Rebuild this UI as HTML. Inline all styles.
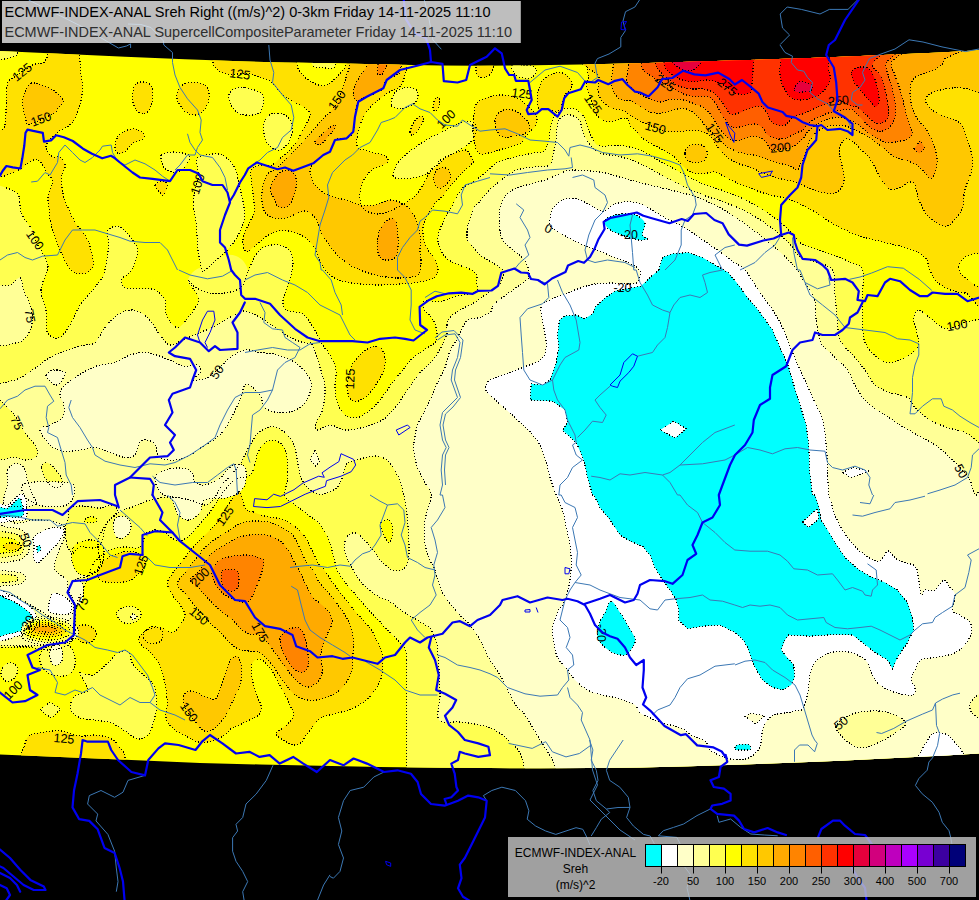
<!DOCTYPE html>
<html><head><meta charset="utf-8"><title>ECMWF-INDEX-ANAL Sreh</title>
<style>
html,body{margin:0;padding:0;background:#000;}
body{width:979px;height:900px;overflow:hidden;position:relative;font-family:"Liberation Sans",sans-serif;}
svg{position:absolute;left:0;top:0;display:block;}
text{font-family:"Liberation Sans",sans-serif;}
</style></head><body>
<svg width="979" height="900" viewBox="0 0 979 900">
<defs><clipPath id="dc"><path d="M-5,50.7L0,50.9L60,53.8L125,56.7L185,59.2L240,61.3L285,62.4L330,63.3L400,64.8L440,65.5L480,65.8L520,65.4L580,64.5L640,63.3L690,61.8L750,60L810,58L855,56.2L900,54.3L940,52.4L979,50.3L984,50L984,753.1L979,753.4L945,755.4L910,757.3L875,759.1L840,760.7L790,762.8L735,764.7L690,766.2L640,767.4L590,768L540,768.2L490,768.1L440,767.8L380,767L320,765.8L260,764.5L200,762.9L160,761.3L120,759.6L60,757.1L0,754.5L-5,754.3Z"/></clipPath></defs>
<rect x="0" y="0" width="979" height="900" fill="#000"/>
<g clip-path="url(#dc)">
<rect x="0" y="0" width="979" height="900" fill="#FFFF00"/>
<path d="M-8,183C-4.8,184.2 7,187.7 11.5,190C16,192.3 17.5,193.4 19,196.6C20.5,199.8 19.4,205.5 20.4,209.4C21.4,213.3 23,216.6 25,220C27,223.4 30.8,226.7 32.5,230C34.2,233.3 33.4,236.3 35,240C36.6,243.7 40,248.3 42,252C44,255.7 46.1,259 47,262C47.9,265 48.5,265.3 47.5,270C46.5,274.7 41.2,283.3 41,290C40.8,296.7 44.9,302.9 46,310C47.1,317.1 45.2,327.9 47.5,332.5C49.8,337.1 55.8,339.6 60,337.5C64.2,335.4 69.2,325.4 72.5,320C75.8,314.6 76.7,310 80,305C83.3,300 88.8,294.6 92.5,290C96.2,285.4 100.4,280.8 102.5,277.5C104.6,274.2 104,275.4 105,270C106,264.6 108.3,251.5 108.8,245C109.2,238.5 106,234.2 107.5,231C109,227.8 114.6,226 117.5,226C120.4,226 122.5,228.7 125,231C127.5,233.3 130.4,236.8 132.5,240C134.6,243.2 137.1,246.2 137.5,250C137.9,253.8 136.2,258.8 135,262.5C133.8,266.2 132.2,269.2 130,272C127.8,274.8 122.8,276.4 122,279C121.2,281.6 122,285.9 125,287.5C128,289.1 135,288.3 140,288.8C145,289.2 150.8,288.1 155,290C159.2,291.9 163.1,295.8 165,300C166.9,304.2 164.2,310.4 166.2,315C168.3,319.6 173.5,327.5 177.5,327.5C181.5,327.5 186.5,319.6 190,315C193.5,310.4 198.3,304.6 198.8,300C199.2,295.4 194.3,290.8 192.5,287.5C190.7,284.2 187.6,280.1 188,280C188.4,279.9 191.3,284.8 195,287C198.7,289.2 205,292 210,293C215,294 220,293.8 225,293C230,292.2 236.3,291 240,288C243.7,285 245,279.3 247,275C249,270.7 250.2,265.8 252,262C253.8,258.2 255.5,254.7 258,252C260.5,249.3 263.3,247.2 267,246C270.7,244.8 276.2,244.2 280,245C283.8,245.8 287.8,248.2 290,251C292.2,253.8 292.8,258 293,262C293.2,266 292.2,270.3 291,275C289.8,279.7 287.3,285.7 286,290C284.7,294.3 283,297.7 283,301C283,304.3 282.8,307.9 286,310C289.2,312.1 298.5,311.7 302.5,313.8C306.5,315.8 307.5,319 310,322.5C312.5,326 315.4,331.2 317.5,335C319.6,338.8 320.4,341.7 322.5,345C324.6,348.3 327.8,350.8 330,355C332.2,359.2 335.2,364.6 336,370C336.8,375.4 334.8,382.1 335,387.5C335.2,392.9 335.8,397.9 337.5,402.5C339.2,407.1 341.7,412.5 345,415C348.3,417.5 353.3,418.3 357.5,417.5C361.7,416.7 366.2,412.9 370,410C373.8,407.1 376.2,404.6 380,400C383.8,395.4 388.3,387.9 392.5,382.5C396.7,377.1 401.7,371.6 405,367.5C408.3,363.4 409.1,361.2 412.3,358.2C415.6,355.2 420.6,352.3 424.5,349.7C428.4,347.1 433.4,344.2 435.5,342.3C437.6,340.4 436.6,339.9 436.8,338C437,336.1 437.3,333.8 436.8,331C436.3,328.2 435.2,324.2 434,321.5C432.8,318.8 431,316.9 429.4,315C427.8,313.1 425.3,312.4 424.5,310C423.7,307.6 422.4,302 424.5,300.6C426.6,299.2 432.7,302.2 436.8,301.9C440.9,301.6 446,299.7 449,298.8C452,297.9 451.5,297.4 455,296.5C458.5,295.6 466.2,294.6 470,293.5C473.8,292.4 476.4,291.7 477.5,290C478.6,288.3 476.8,285.8 476.7,283.3C476.6,280.8 477.5,277.2 476.7,275C475.9,272.8 473.9,271.4 471.7,270C469.5,268.6 466.1,267.8 463.3,266.7C460.5,265.6 457.8,264.7 455,263.3C452.2,261.9 448.9,260.2 446.7,258.3C444.5,256.4 443.1,254.2 441.7,251.7C440.3,249.2 438.9,246.1 438.3,243.3C437.7,240.5 437.7,238.1 438.3,235C438.9,231.9 440.3,228.3 441.7,225C443.1,221.7 445,218.1 446.7,215C448.4,211.9 450,209.8 451.7,206.7C453.4,203.6 454.8,199.9 456.7,196.7C458.6,193.5 460.8,189.7 463.3,187.5C465.8,185.3 468.9,185.1 471.7,183.3C474.5,181.5 477.2,178.9 480,176.7C482.8,174.5 485.5,172.4 488.3,170C491.1,167.6 493.1,164.4 496.7,162.5C500.3,160.6 505.6,159.6 510,158.3C514.4,157.1 518.8,156 523.3,155C527.8,154 533.4,153.1 536.7,152.5C540,151.9 541.4,153.2 543.3,151.7C545.2,150.2 547.2,146.6 548.3,143.3C549.4,140 549.3,135.6 550,131.7C550.7,127.8 551.2,123.3 552.5,120C553.8,116.7 555.1,113.7 557.5,111.7C559.9,109.8 563.5,108.6 566.7,108.3C569.9,108 573.8,108.6 576.7,110C579.6,111.4 582.1,113.7 584,116.7C585.9,119.8 586.8,124.4 588.3,128.3C589.8,132.2 591.3,137.1 593.3,140C595.2,142.9 595.5,145.1 600,146C604.5,146.9 613.6,144.7 620.4,145.5C627.2,146.3 634.1,147.8 640.9,150.6C647.7,153.3 654.5,158.3 661.3,162C668.1,165.7 674.9,169.4 681.7,173C688.5,176.6 695.2,180.4 702,183.3C708.8,186.2 715.8,187.9 722.6,190.5C729.4,193.1 736.2,195.3 743,198.6C749.8,201.8 757.3,206.1 763.4,210C769.5,213.9 775,218.1 779.8,222C784.6,225.9 788.6,230 792,233.4C795.4,236.8 795.7,239.8 800,242.6C804.3,245.4 812.2,247.8 818,250C823.8,252.2 829.7,254 835,256C840.3,258 845.4,259.7 850,262C854.6,264.3 860.4,264.5 862.5,270C864.6,275.5 862.5,286.7 862.5,295C862.5,303.3 862.1,312.1 862.5,320C862.9,327.9 862.5,336.2 865,342.5C867.5,348.8 873.3,354.2 877.5,357.5C881.7,360.8 885.4,362.5 890,362.5C894.6,362.5 900.2,360.4 905,357.5C909.8,354.6 917.3,351.2 918.8,345C920.2,338.8 913.8,325.8 913.8,320C913.8,314.2 915.6,310 918.8,310C921.9,310 927.7,316.9 932.5,320C937.3,323.1 941.2,328.6 947.5,328.8C953.8,328.9 961.6,322.8 970,321C978.4,319.2 993.3,318.5 998,318L998,800L406.6,800C406.6,795.8 406.6,796.7 406.6,775C406.6,753.3 406.6,689.4 406.6,670C406.6,650.6 407,662.5 406.6,658.7C406.2,654.9 406.2,650.5 404.4,647.2C402.6,643.9 398.8,641.6 395.9,638.7C393,635.8 390.2,633.1 387.3,630C384.4,626.9 381.6,623.1 378.7,620C375.8,616.9 372.9,614.6 370,611.5C367.1,608.4 364.4,604.8 361.5,601.5C358.6,598.2 355.8,594.9 352.9,591.5C350,588.1 347,585 344.4,581.4C341.8,577.8 339.3,575.2 337.2,570C335.1,564.8 333.6,555.8 332,550.3C330.4,544.8 329.8,541.4 327.6,536.9C325.4,532.4 322.1,527.1 318.7,523.4C315.3,519.6 311.1,517.4 307.4,514.4C303.6,511.4 299.9,508.4 296.2,505.4C292.5,502.4 286.5,500.6 285,496.4C283.5,492.2 286.8,486 287.2,480C287.6,474 287.8,465.9 287.2,460.4C286.6,454.9 286.1,450.4 283.8,447C281.6,443.6 277.2,440.6 273.7,440.2C270.1,439.8 265.3,442.1 262.5,444.7C259.7,447.3 258.4,451.9 256.9,456C255.4,460.1 255,466.1 253.5,469.4C252,472.7 250.2,474.6 248,476C245.8,477.4 242.7,477 240,478C237.3,479 234.5,480 232,482C229.5,484 227.3,487 225,490C222.7,493 220.5,496.3 218,500C215.5,503.7 213,508 210,512C207,516 203.3,520.2 200,524C196.7,527.8 193.3,532.2 190,535C186.7,537.8 183,540.5 180,541C177,541.5 174.8,539.5 172,538C169.2,536.5 165.8,533.3 163,532C160.2,530.7 157.8,529.8 155,530C152.2,530.2 148,531 146,533C144,535 144.3,539.5 143,542C141.7,544.5 141,547.2 138,548C135,548.8 129.3,546.8 125,547C120.7,547.2 115.8,547.7 112,549C108.2,550.3 105,552.7 102,555C99,557.3 96.2,559.7 94,563C91.8,566.3 90.7,570.8 89,575C87.3,579.2 85.8,583.8 84,588C82.2,592.2 79.5,595.5 78,600C76.5,604.5 75.7,609.2 75,615C74.3,620.8 75.2,630 74,635C72.8,640 72,642.5 68,645C64,647.5 57.2,649.7 50,650C42.8,650.3 34.7,647.3 25,647C15.3,646.7 -2.5,647.8 -8,648Z" fill="#FFFF50"/>
<path d="M998,442.5C994.8,442.5 984.5,444.2 979,442.5C973.5,440.8 970.2,435 965,432.5C959.8,430 953.3,429.6 947.5,427.5C941.7,425.4 935.4,423.3 930,420C924.6,416.7 918.8,411.2 915,407.5C911.2,403.8 911.7,400 907.5,397.5C903.3,395 895.4,394.6 890,392.5C884.6,390.4 879.2,388.8 875,385C870.8,381.2 868.8,375 865,370C861.2,365 856.7,360 852.5,355C848.3,350 842.5,345.8 840,340C837.5,334.2 838.3,327.5 837.5,320C836.7,312.5 835.8,303.3 835,295C834.2,286.7 835.8,275.5 832.5,270C829.2,264.5 820.4,264.2 815,262C809.6,259.8 803.8,259.6 800,257C796.2,254.4 795.4,250.5 792,246.7C788.6,242.9 784.6,238.5 779.8,234.4C775,230.3 769.5,226.1 763.4,222C757.3,217.9 749.8,213.4 743,210C736.2,206.6 729.4,204.3 722.6,201.7C715.8,199.1 708.8,197.3 702,194.6C695.2,191.9 688.5,188.7 681.7,185.4C674.9,182.1 668.1,178.6 661.3,175C654.5,171.4 647.7,167 640.9,164C634.1,161 627.2,158.6 620.4,156.8C613.6,155 605.1,155 600,153C594.9,151 592.8,148.3 590,145C587.2,141.7 585,137.2 583.3,133.3C581.6,129.4 581.7,124.6 580,121.7C578.3,118.8 575.8,116.9 573.3,115.8C570.8,114.7 567.4,114.3 565,115C562.6,115.7 560.4,117.5 559,120C557.6,122.5 557.2,126.4 556.7,130C556.2,133.6 556.4,137.8 555.8,141.7C555.2,145.6 554.3,149.4 553.3,153.3C552.3,157.2 552.8,162.8 550,165C547.2,167.2 541.2,166.1 536.7,166.7C532.2,167.2 527.2,167.5 523.3,168.3C519.4,169.1 516.6,170 513.3,171.7C510,173.4 506.6,175.8 503.3,178.3C500,180.8 496.4,183.9 493.3,186.7C490.2,189.5 487.5,192.2 485,195C482.5,197.8 480.2,201.1 478.3,203.3C476.4,205.5 474.7,205.5 473.3,208.3C471.9,211.1 471,217.2 470,220C469,222.8 468,222.8 467.5,225C467,227.2 467,230.8 467,233.3C467,235.8 466.7,238.1 467.5,240C468.3,241.9 469.9,242.8 471.7,245C473.5,247.2 476.1,251.1 478.3,253.3C480.5,255.5 482.5,256.6 485,258.3C487.5,260 490.8,261.8 493.3,263.3C495.8,264.8 498.3,266.1 500,267.5C501.7,268.9 503,269.6 503.3,271.7C503.6,273.8 502.9,277.6 502,280C501.1,282.4 500.3,283.8 498,286C495.7,288.2 492.1,290.2 488,293C483.9,295.8 478.3,300.1 473.5,303C468.7,305.9 463.1,307.7 459,310.4C454.9,313.1 451.1,315.9 449,319C446.9,322.1 446.9,326.4 446.6,328.8C446.3,331.2 447.4,331.7 447,333.7C446.6,335.7 445.1,338.6 444,341C442.9,343.4 442.2,345.2 440.4,348.4C438.6,351.6 436.4,356 433,360C429.6,364 424.2,367.5 420,372.5C415.8,377.5 411.7,384.2 407.5,390C403.3,395.8 399.2,402.5 395,407.5C390.8,412.5 387.9,416.7 382.5,420C377.1,423.3 368.8,425.8 362.5,427.5C356.2,429.2 350.4,430.4 345,430C339.6,429.6 334.6,425 330,425C325.4,425 319.8,430.4 317.5,430C315.2,429.6 315.2,425.8 316,422.5C316.8,419.2 321,415.8 322.5,410C324,404.2 325.4,394.6 325,387.5C324.6,380.4 322.1,374.6 320,367.5C317.9,360.4 315,349.1 312.5,345C310,340.9 308.8,344.2 305,343C301.2,341.8 295,340.1 290,337.5C285,334.9 280,330.8 275,327.5C270,324.2 265,320.2 260,317.5C255,314.8 249.2,311.4 245,311C240.8,310.6 238.3,313.5 235,315C231.7,316.5 228.8,317.9 225,320C221.2,322.1 216.7,325.4 212.5,327.5C208.3,329.6 205,330.4 200,332.5C195,334.6 187.5,337.9 182.5,340C177.5,342.1 173.8,345.8 170,345C166.2,344.2 163.8,339.6 160,335C156.2,330.4 152.1,321.7 147.5,317.5C142.9,313.3 137.5,310.4 132.5,310C127.5,309.6 122.1,312.1 117.5,315C112.9,317.9 108.8,322.9 105,327.5C101.2,332.1 98.3,339.6 95,342.5C91.7,345.4 89.6,343.8 85,345C80.4,346.2 73.3,347.9 67.5,350C61.7,352.1 55.8,354.2 50,357.5C44.2,360.8 38.3,366.2 32.5,370C26.7,373.8 21.8,377.5 15,380C8.2,382.5 -4.2,384.2 -8,385L-8,645C-1.7,645.2 18.7,646.2 30,646C41.3,645.8 52.8,645.3 60,644C67.2,642.7 70.5,642.8 73,638C75.5,633.2 75,621.3 75,615C75,608.7 74,604.2 73,600C72,595.8 68.7,593.3 69,590C69.3,586.7 71.5,582.5 75,580C78.5,577.5 85.8,577.5 90,575C94.2,572.5 98.7,569.5 100,565C101.3,560.5 98,553 98,548C98,543 98.3,539.3 100,535C101.7,530.7 104.7,525.8 108,522C111.3,518.2 115.5,514.7 120,512C124.5,509.3 130,508 135,506C140,504 144.2,501.5 150,500C155.8,498.5 163.3,497 170,497C176.7,497 184.2,498.7 190,500C195.8,501.3 200.8,505.5 205,505C209.2,504.5 212.2,500.3 215,497C217.8,493.7 219.2,488.8 222,485C224.8,481.2 229,477.5 232,474C235,470.5 237.2,468.5 240,464C242.8,459.5 246,452.1 249,447C252,441.9 254.2,436.9 258,433.5C261.8,430.1 267,426.9 271.5,426.7C276,426.5 281.2,429.4 285,432.4C288.8,435.4 291.9,440 294,444.7C296.1,449.4 296.2,455.1 297.3,460.4C298.4,465.6 299,471.7 300.7,476.2C302.4,480.7 304.4,484.4 307.4,487.4C310.4,490.4 314.9,493.4 318.7,494.2C322.5,495 326.6,493.5 330,492C333.4,490.5 336.7,488.2 338.9,485.2C341.1,482.2 342.1,477.6 343.4,474C344.7,470.4 344.4,466.1 346.7,463.8C348.9,461.5 352.2,461.3 356.9,460C361.6,458.7 369.8,455.9 374.8,456C379.9,456.1 383.6,457.6 387.2,460.4C390.8,463.2 393.8,468.3 396.2,472.8C398.6,477.3 400.2,482 401.8,487.4C403.4,492.8 404.8,499 405.8,505.4C406.8,511.8 407.5,518.9 408,525.6C408.5,532.3 409,539.8 409,545.8C409,551.8 409.2,557.6 408,561.6C406.8,565.6 404.3,568.6 401.8,570C399.3,571.4 395.8,571 392.8,570C389.8,569 386.8,566.7 383.8,563.8C380.8,560.9 377.8,556.4 374.8,552.6C371.8,548.9 368.8,544.5 365.8,541.3C362.8,538.1 359.7,534.6 356.9,533.5C354.1,532.4 351.1,532.9 349,534.6C346.9,536.3 345.1,540.2 344.5,543.6C343.9,547 344.7,551.4 345.6,554.8C346.5,558.2 348.1,560.1 350,563.8C351.9,567.5 354.8,573.4 357.2,577C359.6,580.6 361.8,583 364.4,585.7C367,588.4 370.1,591 373,593C375.9,595 378.8,596.6 381.6,598C384.4,599.4 387.1,599.7 390,601.5C392.9,603.3 395.8,606.5 398.7,608.6C401.6,610.7 404.4,612.5 407.3,614.3C410.2,616.1 413,617.6 415.9,619.3C418.8,621 422.1,622.8 424.5,624.4C426.9,626 428.1,626 430,628.6C431.9,631.2 434.8,636.4 436,640C437.2,643.6 437,645 437.5,650C438,655 438.6,662.5 439,670C439.4,677.5 440,686.7 440,695C440,703.3 435.7,715.5 439,720C442.3,724.5 453.2,721.2 460,722C466.8,722.8 474.2,723.7 480,725C485.8,726.3 490,727.2 495,730C500,732.8 505.5,737.3 510,742C514.5,746.7 519,748.3 522,758C525,767.7 527,793 528,800L998,800Z" fill="#FFFF96"/>
<path d="M556,775C555.4,768.3 555.2,765.8 552.5,760C549.8,754.2 544.6,747.5 540,740C535.4,732.5 528.8,720.4 525,715C521.2,709.6 520.2,711.2 517.5,707.5C514.8,703.8 511.7,697.9 508.8,692.5C505.8,687.1 503.1,680.4 500,675C496.9,669.6 493.3,665.8 490,660C486.7,654.2 483.3,645.8 480,640C476.7,634.2 473.8,629.6 470,625C466.2,620.4 462.1,617.9 457.5,612.5C452.9,607.1 446.2,599.6 442.5,592.5C438.8,585.4 437.3,575.8 435,570C432.7,564.2 430.5,562.5 428.8,557.5C427,552.5 425.1,546.2 424.5,540C423.9,533.8 423.9,527.5 425,520C426.1,512.5 431.2,501.2 431.2,495C431.2,488.8 427.3,487.1 425,482.5C422.7,477.9 419.4,472.9 417.5,467.5C415.6,462.1 414.2,454.6 413.8,450C413.2,445.4 413.9,444.2 414.5,440C415.1,435.8 416,429.6 417.5,425C419,420.4 421.5,417.1 423.8,412.5C426,407.9 429,402.5 431.2,397.5C433.5,392.5 435.2,387.5 437.5,382.5C439.8,377.5 443.1,372.4 445,367.5C446.9,362.6 447.3,357.5 449,353.3C450.7,349.1 452.9,346.2 455,342.3C457.1,338.4 459.2,333.7 461.3,330C463.4,326.3 464.5,322.2 467.4,320.2C470.2,318.2 474.5,319.2 478.4,317.8C482.3,316.4 488.3,313.8 490.7,311.7C493.1,309.6 490.9,307.4 493,305C495.1,302.6 499.7,299.5 503,297C506.3,294.5 510,292.2 513,290C516,287.8 518.5,285.8 521,284C523.5,282.2 526.7,280.6 528,279C529.3,277.4 529.1,276.7 529,274.5C528.9,272.3 528.8,269 527.5,266C526.2,263 525.1,260.6 521,256.4C516.9,252.1 506.6,246.4 503,240.5C499.4,234.6 499.8,226.7 499.4,221C499,215.3 499,211.3 500.4,206.6C501.8,201.9 504.3,196.4 508,193C511.7,189.6 516.3,188.4 522.5,186.2C528.7,184.1 538.3,182.3 545,180C551.7,177.7 557.9,174.2 562.5,172.5C567.1,170.8 565.8,170 572.5,170C579.2,170 592.9,170.8 602.5,172.5C612.1,174.2 620.4,177.5 630,180C639.6,182.5 650,185 660,187.5C670,190 680.8,192.1 690,195C699.2,197.9 707.5,201.3 715,205C722.5,208.7 727.5,212 735,217C742.5,222 752.5,229.2 760,235C767.5,240.8 773.8,246.2 780,252C786.2,257.8 793.8,265.3 797.5,270C801.2,274.7 800.4,276.7 802.5,280C804.6,283.3 807.9,286.2 810,290C812.1,293.8 814,297.5 815,302.5C816,307.5 815.6,314.6 816.2,320C816.9,325.4 817.7,330.8 818.8,335C819.8,339.2 819.8,341.2 822.5,345C825.2,348.8 830.8,353.3 835,357.5C839.2,361.7 843.8,364.6 847.5,370C851.2,375.4 853.8,384.2 857.5,390C861.2,395.8 865.4,400.8 870,405C874.6,409.2 880,411.7 885,415C890,418.3 894.6,421.7 900,425C905.4,428.3 911.7,431.7 917.5,435C923.3,438.3 930,441.7 935,445C940,448.3 943.3,451.2 947.5,455C951.7,458.8 956.2,463.3 960,467.5C963.8,471.7 967.5,475.4 970,480C972.5,484.6 971.7,490.3 975,495C978.3,499.7 986.7,457.2 990,508C993.3,558.8 1067.3,751.3 995,800C922.7,848.7 629.2,804.2 556,800C482.8,795.8 556.6,781.7 556,775Z" fill="#FFFFC8"/>
<path d="M485.5,387.5C485.5,385 486.8,382.2 490,380C493.2,377.8 499.6,376.1 505,374C510.4,371.9 516.7,369.8 522.5,367.5C528.3,365.2 536,363.3 540,360C544,356.7 545.6,352.9 546.2,347.5C546.9,342.1 544.6,334.2 543.8,327.5C542.9,320.8 540,312.1 541,307.5C542,302.9 546,302.3 550,300C554,297.7 558.3,296.2 565,293.8C571.7,291.2 582.5,286.8 590,285C597.5,283.2 603.3,283.2 610,283C616.7,282.8 625.3,284.2 630,284C634.7,283.8 636.3,283.8 638,281.7C639.7,279.6 640.8,274.5 640,271.7C639.2,268.9 637.5,267.5 633,265C628.5,262.5 619,259.2 613,256.7C607,254.2 601.1,251.7 596.7,250C592.3,248.3 590.7,248.4 586.7,246.7C582.8,245 577.5,242.3 573,240C568.5,237.7 563.8,235.3 560,233C556.2,230.7 551.7,228.5 550,226C548.3,223.5 549.4,221.1 550,218C550.6,214.9 551.7,210.5 553.8,207.5C555.8,204.5 558.8,201.5 562.5,200C566.2,198.5 571.7,197.9 576.2,198.8C580.8,199.6 585.6,202.9 590,205C594.4,207.1 598.7,211.2 602.5,211.2C606.3,211.2 609,206.6 613,205C617,203.4 621.7,201.7 626.7,201.7C631.7,201.7 637,202.5 643,205C649,207.5 656.3,213.1 663,216.7C669.7,220.3 676.8,223.1 683,226.7C689.2,230.2 693.8,233.8 700,238C706.2,242.2 714.2,247.8 720,252C725.8,256.2 730.8,260 735,263C739.2,266 740.8,265.1 745,270C749.2,274.9 755.4,285.8 760,292.5C764.6,299.2 768.8,304.2 772.5,310C776.2,315.8 779.2,320.4 782.5,327.5C785.8,334.6 789.2,344.6 792.5,352.5C795.8,360.4 799.2,367.5 802.5,375C805.8,382.5 809.2,390 812.5,397.5C815.8,405 820.2,412.1 822.5,420C824.8,427.9 825.4,436.7 826.2,445C827.1,453.3 827.1,461.7 827.5,470C827.9,478.3 828.1,489.6 828.8,495C829.4,500.4 830.2,499.2 831.2,502.5C832.3,505.8 833.1,510.4 835,515C836.9,519.6 839.6,525.2 842.5,530C845.4,534.8 848.8,539.6 852.5,543.8C856.2,547.9 860.6,552.1 865,555C869.4,557.9 875,561.9 878.8,561.2C882.5,560.6 885.2,552.3 887.5,551.2C889.8,550.2 890.4,553.3 892.5,555C894.6,556.7 896.2,559.4 900,561.2C903.8,563.1 911.9,563.1 915,566.2C918.1,569.4 917.7,575.2 918.8,580C919.8,584.8 920.2,593.3 921.2,595C922.3,596.7 922.7,590.8 925,590C927.3,589.2 931.9,591.7 935,590C938.1,588.3 941.2,580.4 943.8,580C946.2,579.6 948.1,585 950,587.5C951.9,590 954.6,591.2 955,595C955.4,598.8 951.7,606.7 952.5,610C953.3,613.3 957.1,612.9 960,615C962.9,617.1 968.1,619.6 970,622.5C971.9,625.4 972.1,628.8 971.2,632.5C970.4,636.2 968.1,641.5 965,645C961.9,648.5 957.5,651.7 952.5,653.8C947.5,655.8 940.2,656.5 935,657.5C929.8,658.5 924.6,657.9 921.2,660C917.9,662.1 916.7,666.7 915,670C913.3,673.3 911.2,677.1 911.2,680C911.2,682.9 914.8,685 915,687.5C915.2,690 915.8,694.2 912.5,695C909.2,695.8 900.4,694.2 895,692.5C889.6,690.8 883.8,687.9 880,685C876.2,682.1 874.6,678.8 872.5,675C870.4,671.2 870,665.8 867.5,662.5C865,659.2 861.7,656.9 857.5,655C853.3,653.1 847.5,651.5 842.5,651.2C837.5,651 832.1,651.9 827.5,653.8C822.9,655.6 817.9,659 815,662.5C812.1,666 811.1,670.7 810,675C808.9,679.3 809.1,684.3 808.5,688.2C807.9,692.1 807.4,695 806.5,698.4C805.6,701.8 804.9,706.6 803.4,708.6C801.9,710.6 800,709.9 797.3,710.6C794.6,711.3 790.9,712 787.1,712.7C783.4,713.4 778,713.5 774.8,714.7C771.6,715.9 769.7,717.4 767.7,719.8C765.7,722.2 763.6,725.8 762.6,729C761.6,732.2 762.3,735.8 761.6,739.2C760.9,742.6 760.4,746.5 758.5,749.5C756.6,752.5 753,755.6 750.3,757.2C747.6,758.8 745.9,759 742.1,759.3C738.4,759.5 731.9,759.5 727.8,758.7C723.7,757.9 720.6,756.1 717.6,754.6C714.6,753.1 711.5,751.7 709.5,749.5C707.5,747.3 708.1,743.5 705.4,741.3C702.7,739.1 697.2,738.4 693.1,736.2C689,734 685.3,730 680.9,728C676.5,726 671.4,725.4 666.6,723.9C661.8,722.4 656.7,720.7 652.3,718.8C647.9,716.9 642.9,715 640,712.7C637.1,710.4 638.3,707.3 635,705C631.7,702.7 625.4,700.4 620,698.8C614.6,697.1 607.9,696.5 602.5,695C597.1,693.5 592.1,692.5 587.5,690C582.9,687.5 578.3,683.3 575,680C571.7,676.7 570.4,673.8 567.5,670C564.6,666.2 559.8,662.1 557.5,657.5C555.2,652.9 554.6,647.5 553.8,642.5C552.9,637.5 551.9,632.5 552.5,627.5C553.1,622.5 555.4,617.1 557.5,612.5C559.6,607.9 563,605 565,600C567,595 568.5,588.3 569.5,582.5C570.5,576.7 571.2,571.2 571.2,565C571.3,558.8 570.8,551.2 570,545C569.2,538.8 567.5,533.3 566.2,527.5C565,521.7 564.2,515.4 562.5,510C560.8,504.6 558.3,500.4 556.2,495C554.2,489.6 551.9,483.8 550,477.5C548.1,471.2 547.5,464.2 545,457.5C542.5,450.8 540,444.2 535,437.5C530,430.8 522.5,424.6 515,417.5C507.5,410.4 494.9,400 490,395C485.1,390 485.5,390 485.5,387.5Z" fill="#FFFFFF"/>
<path d="M658.8,270L662.5,257.5L672.5,253.8L687.5,252.5L702.5,257.5L715,265L727.5,272L737,283L747.5,297.5L760,312.5L772.5,330L781.2,350L788.8,367.5L793.8,385L800,405L806.2,425L808.8,445L809.5,470L812.5,495L815,495L818.8,506.2L821.2,520L827.5,530L835,542.5L845,557.5L857.5,568.8L870,576.2L885,582.5L897.5,590L907.5,602.5L912.5,617.5L913.8,630L907.5,642.5L897.5,657.5L892.5,668.8L887.5,660L875,652.5L862.5,642.5L852.5,635L835,634.5L810,636.2L788.8,635L785,640L781.2,650L786.2,656.2L793.8,665L794.5,677.5L791.2,685L782.5,690L772.5,687.5L762.5,680L753.8,665L747.5,647.5L742.5,638.8L735,632.5L720,625L702.5,626.2L687.5,628.8L678.8,620L678.8,610L676.2,600L670,590L662.5,580L655,567.5L650,555L642.5,546.2L630,541.2L620,535L610,520L600,507.5L593.8,495L592.5,495L587.5,477.5L583.8,460L576.2,442.5L562.5,430L567.5,422.5L565,410L552.5,401.2L530,400L531.2,383.8L542.5,385L550,380L556.2,362.5L558.8,347.5L557.5,335L559.5,320L565,316L576,315L585,318.8L592.5,313.8L595,307.5L602.5,300L615,291L641,286L650,277.5Z" fill="#00FFFF"/>
<path d="M660,430L673.8,421.2L686.2,428.8L675,438Z" fill="#FFFFFF"/>
<path d="M802.5,522L817.5,508.5L818.7,519L808.7,527.5Z" fill="#FFFFFF"/>
<path d="M605,220C606.5,218.1 610.8,216 615,215C619.2,214 625.8,213.3 630,213.8C634.2,214.2 637.5,215.8 640,217.5C642.5,219.2 644.6,220.8 645,223.8C645.4,226.7 642.1,232.5 642.5,235C642.9,237.5 648.1,237.9 647.5,238.8C646.9,239.6 642.5,240.4 638.8,240C635,239.6 629.4,237.7 625,236.2C620.6,234.8 615.6,232.9 612.5,231.2C609.4,229.6 607.5,228.1 606.2,226.2C605,224.4 603.5,221.9 605,220Z" fill="#00FFFF"/>
<path d="M611.2,601.2C613.8,601.2 617.3,608.5 620,612.5C622.7,616.5 625,620.6 627.5,625C630,629.4 634.2,635 635,638.8C635.8,642.5 634.2,644.8 632.5,647.5C630.8,650.2 628.3,654.2 625,655C621.7,655.8 616.2,654.2 612.5,652.5C608.8,650.8 605,647.5 602.5,645C600,642.5 598.1,640.8 597.5,637.5C596.9,634.2 597.5,629.2 598.8,625C600,620.8 602.9,616.5 605,612.5C607.1,608.5 608.8,601.2 611.2,601.2Z" fill="#00FFFF"/>
<path d="M735,748.4C735,747.6 734.8,745.7 737,745C739.2,744.3 746,743.8 748.3,744.4C750.6,745 750.7,747.5 750.7,748.4C750.7,749.3 750.6,749.6 748.3,749.9C746,750.1 739.2,750.1 737,749.9C734.8,749.6 735,749.2 735,748.4Z" fill="#00FFFF"/>
<path d="M745.2,716.4L750.3,713.1L764.6,715.8L755.4,723.9Z" fill="#FFFFC8"/>
<path d="M842.5,472.5L852.5,467.5L870,471.2L851,477.5Z" fill="#FFFFFF"/>
<path d="M918,765C910.2,762.8 919.1,756.6 921,752C922.9,747.4 926.8,740.8 929.4,737.5C932,734.2 933.3,732.8 936.5,732.5C939.7,732.2 945.5,733.6 948.7,735.5C952,737.4 953.6,741.1 956,744C958.4,746.9 961,749.3 963,752.8C965,756.3 975.5,763 968,765C960.5,767 925.8,767.2 918,765Z" fill="#FFFFFF"/>
<path d="M836,727C836.3,722.5 844.3,717.7 850,715C855.7,712.3 863.3,711.3 870,711C876.7,710.7 884,711 890,713C896,715 905.2,719.7 906,723C906.8,726.3 899.3,729.8 895,733C890.7,736.2 885.5,739.5 880,742C874.5,744.5 867.3,748 862,748C856.7,748 852.3,745.5 848,742C843.7,738.5 835.7,731.5 836,727Z" fill="#FFFF96"/>
<path d="M985,694C983.3,690.2 977.5,695.2 975,697C972.5,698.8 970.5,702.3 970,705C969.5,707.7 970.5,710.8 972,713C973.5,715.2 976.8,716.8 979,718C981.2,719.2 984,724 985,720C986,716 986.7,697.8 985,694Z" fill="#FFFF96"/>
<path d="M188,282C187.2,278.8 190.5,274.7 193,272C195.5,269.3 199.5,268 203,266C206.5,264 210.2,261.8 214,260C217.8,258.2 222.3,255.7 226,255C229.7,254.3 233,254.8 236,256C239,257.2 242,259.3 244,262C246,264.7 248,268.2 248,272C248,275.8 246.7,281.7 244,285C241.3,288.3 236.8,290.5 232,292C227.2,293.5 220.7,294.2 215,294C209.3,293.8 202.5,293 198,291C193.5,289 188.8,285.2 188,282Z" fill="#FFFF50"/>
<path d="M60,395C59.8,392.1 60,390.4 62.5,387.5C65,384.6 70.8,380.4 75,377.5C79.2,374.6 83.3,372.1 87.5,370C91.7,367.9 95.4,366.2 100,365C104.6,363.8 110,364.2 115,362.5C120,360.8 125,356.7 130,355C135,353.3 140,352.3 145,352.5C150,352.7 155,354.6 160,356.2C165,357.9 170.8,360.8 175,362.5C179.2,364.2 181.2,365.8 185,366.2C188.8,366.7 195,364 197.5,365C200,366 200.8,370 200,372.5C199.2,375 191.2,379.2 192.5,380C193.8,380.8 202.9,379.6 207.5,377.5C212.1,375.4 216.2,370.8 220,367.5C223.8,364.2 225.9,360.4 230,357.5C234.1,354.6 239.8,350.8 244.8,350C249.8,349.2 254.5,351.7 260,352.5C265.5,353.3 271.7,353.3 277.5,355C283.3,356.7 290,359.2 295,362.5C300,365.8 304.8,370.8 307.5,375C310.2,379.2 311.7,382.9 311.2,387.5C310.8,392.1 308.1,398.5 305,402.5C301.9,406.5 297.1,409.6 292.5,411.2C287.9,412.9 282.1,413.1 277.5,412.5C272.9,411.9 267.9,410.4 265,407.5C262.1,404.6 262.1,398.3 260,395C257.9,391.7 255,389.2 252.5,387.5C250,385.8 247.1,382.9 245,385C242.9,387.1 242.5,394.2 240,400C237.5,405.8 233.3,414.2 230,420C226.7,425.8 224.2,430.8 220,435C215.8,439.2 210,441.7 205,445C200,448.3 195,452.5 190,455C185,457.5 180,459.6 175,460C170,460.4 163.3,460 160,457.5C156.7,455 157.1,447.9 155,445C152.9,442.1 150,440.4 147.5,440C145,439.6 142.1,440 140,442.5C137.9,445 137.5,452.5 135,455C132.5,457.5 129.2,457.9 125,457.5C120.8,457.1 115,454.2 110,452.5C105,450.8 100,447.9 95,447.5C90,447.1 85.4,449.4 80,450C74.6,450.6 67.5,452.1 62.5,451.2C57.5,450.4 53.8,448.5 50,445C46.2,441.5 40,433.3 40,430C40,426.7 46.2,427.1 50,425C53.8,422.9 60.2,420.8 62.5,417.5C64.8,414.2 64.2,408.8 63.8,405C63.3,401.2 60.2,397.9 60,395Z" fill="#FFFFC8"/>
<path d="M155,478C155.8,474.3 160.8,471.7 165,470C169.2,468.3 175.5,467.7 180,468C184.5,468.3 189.5,469.7 192,472C194.5,474.3 192.8,479.8 195,482C197.2,484.2 200.8,485.7 205,485C209.2,484.3 215.5,481.2 220,478C224.5,474.8 228,468 232,466C236,464 241.7,463.7 244,466C246.3,468.3 246.7,475.7 246,480C245.3,484.3 243.5,489 240,492C236.5,495 230.8,496.7 225,498C219.2,499.3 209.2,497.7 205,500C200.8,502.3 202.5,508.7 200,512C197.5,515.3 193.7,519.5 190,520C186.3,520.5 181,518.3 178,515C175,511.7 175,503.8 172,500C169,496.2 162.8,495.7 160,492C157.2,488.3 154.2,481.7 155,478Z" fill="#FFFFC8"/>
<path d="M46.2,375C47.1,373.3 50.6,370.4 53.8,370C56.9,369.6 63.8,370.6 65,372.5C66.2,374.4 62.7,379.2 61.2,381.2C59.8,383.3 58.3,385.2 56.2,385C54.2,384.8 50.4,381.7 48.8,380C47.1,378.3 45.4,376.7 46.2,375Z" fill="#FFFFC8"/>
<path d="M-7.5,291.2C-4.6,281.9 5.4,287.3 10,285C14.6,282.7 17.7,276.7 20,277.5C22.3,278.3 22.1,285.4 23.8,290C25.4,294.6 28.5,300 30,305C31.5,310 32.9,315 32.5,320C32.1,325 30,331.2 27.5,335C25,338.8 23.3,341.5 17.5,342.5C11.7,343.5 -3.3,349.8 -7.5,341.2C-11.7,332.7 -10.4,300.6 -7.5,291.2Z" fill="#FFFF96"/>
<path d="M-7.5,400C-4.6,392.5 5.8,406.7 10,410C14.2,413.3 15,416.2 17.5,420C20,423.8 22.1,428.3 25,432.5C27.9,436.7 32.9,441.2 35,445C37.1,448.8 38.8,452.5 37.5,455C36.2,457.5 31.2,459.6 27.5,460C23.8,460.4 20.8,458.3 15,457.5C9.2,456.7 -3.8,464.6 -7.5,455C-11.2,445.4 -10.4,407.5 -7.5,400Z" fill="#FFFF50"/>
<path d="M41.2,467.5C41.2,464.6 44.2,462.5 46.2,462.5C48.3,462.5 51.2,465 53.8,467.5C56.2,470 59.8,474.6 61.2,477.5C62.7,480.4 63.8,483.3 62.5,485C61.2,486.7 56.5,488.3 53.8,487.5C51,486.7 48.3,483.3 46.2,480C44.2,476.7 41.2,470.4 41.2,467.5Z" fill="#FFFF50"/>
<path d="M7.5,470C8.8,466.5 12.3,464.2 15,463.8C17.7,463.3 21.7,464.8 23.8,467.5C25.8,470.2 26,475.5 27.5,480C29,484.5 31.2,490.6 32.5,494.8C33.8,498.9 39.6,503.3 35,505C30.4,506.7 9.6,508.3 5,505C0.4,501.7 7.1,490.8 7.5,485C7.9,479.2 6.2,473.5 7.5,470Z" fill="#FFFFC8"/>
<path d="M-8,40C-12.7,43.2 -11.5,56.2 -8,59C-4.5,61.8 8.7,58.1 13,57C17.3,55.9 16.8,55.3 18,52.5C19.2,49.7 24.3,42.1 20,40C15.7,37.9 -3.3,36.8 -8,40Z" fill="#FFFF50"/>
<path d="M161.2,155C163,153.5 168.5,152.2 172.5,152C176.5,151.8 182.1,152.8 185,153.8C187.9,154.7 190.2,155.2 190,157.5C189.8,159.8 186.2,165 183.8,167.5C181.2,170 178.1,172.3 175,172.5C171.9,172.7 167.2,170.6 165,168.8C162.8,166.9 162.6,163.5 162,161.2C161.4,159 159.5,156.5 161.2,155Z" fill="#FFFF50"/>
<path d="M193.1,202.2C193.1,198.4 194,196 194.9,191.6C195.8,187.1 198.1,180.9 198.4,175.6C198.7,170.2 195.5,163 196.7,159.6C197.9,156.1 201.7,156 205.6,155.1C209.4,154.2 215.6,153.2 219.8,154.2C223.9,155.3 227.8,158.7 230.4,161.3C233.1,164 234.4,167 235.8,170.2C237.1,173.5 237.6,177 238.4,180.9C239.3,184.7 240.2,189.2 241.1,193.3C242,197.5 243.2,201.6 243.8,205.8C244.4,209.9 245.1,214.4 244.7,218.2C244.2,222.1 242.6,225.3 241.1,228.9C239.6,232.4 237.9,236.3 235.8,239.6C233.7,242.8 231.3,245.5 228.7,248.4C226,251.4 222.7,254.7 219.8,257.3C216.8,260 213.7,262.1 210.9,264.4C208.1,266.8 204.7,271.9 202.9,271.6C201.1,271.3 201.1,266.8 200.2,262.7C199.3,258.5 198.1,252.3 197.6,246.7C197,241 197.1,234.2 196.7,228.9C196.2,223.6 195.5,219.1 194.9,214.7C194.3,210.2 193.1,206.1 193.1,202.2Z" fill="#FFFF50"/>
<path d="M244.8,87.5C240.2,86.5 237.7,87.5 235,88.8C232.3,90 229.4,92.3 228.8,95C228.1,97.7 229.8,102.1 231.2,105C232.7,107.9 235.2,110.8 237.5,112.5C239.8,114.2 241,115 244.8,115C248.5,115 257,115.8 260,112.5C263,109.2 265,99.2 262.5,95C260,90.8 249.3,88.5 244.8,87.5Z" fill="#FFFF50"/>
<path d="M265,120C266.5,116.9 269.2,114.6 272.5,113.8C275.8,112.9 281.7,113.1 285,115C288.3,116.9 291.7,120.8 292.5,125C293.3,129.2 292.1,135.8 290,140C287.9,144.2 283.5,149.2 280,150C276.5,150.8 271.5,147.9 268.8,145C266,142.1 264.4,136.7 263.8,132.5C263.1,128.3 263.5,123.1 265,120Z" fill="#FFFF50"/>
<path d="M48,40C42.7,42.2 48.5,49.4 48,53C47.5,56.6 46.4,59.8 44.7,61.6C43,63.4 40.1,63.4 38,64C35.9,64.6 36.2,63.1 32,65.4C27.8,67.7 16.9,75.1 12.8,78C8.8,80.9 8.8,79.6 7.7,83C6.6,86.4 6.7,93 6.4,98.6C6.1,104.2 6.2,111.4 5.7,116.5C5.2,121.6 5.5,126.1 3.2,129C0.9,131.9 -6.1,126.2 -8,134C-9.9,141.8 -12.7,170.1 -8,176C-3.3,181.9 14.8,171.1 20.4,169.2C26,167.3 23.1,166.3 25.5,164.7C27.9,163.1 32.1,160.2 34.5,159.6C36.9,159 37.9,159.4 39.6,160.9C41.3,162.4 43.4,166.4 44.7,168.5C46,170.6 46.2,172.1 47.3,173.6C48.3,175.1 50.1,175.8 51,177.5C51.9,179.2 52.7,181.6 52.4,183.9C52.1,186.2 50,188.9 49.2,191.5C48.5,194.1 47.9,196.2 47.9,199.2C47.9,202.2 48.9,205.9 49.2,209.4C49.6,212.9 48.9,214.9 50,220C51.1,225.1 54.2,234.6 56,240C57.8,245.4 59,248.2 61,252.5C63,256.8 65.5,262.6 68,266C70.5,269.4 73,271.8 76,273C79,274.2 83.2,274.2 86,273C88.8,271.8 92.2,269.8 93,266C93.8,262.2 92.3,255.2 91,250C89.7,244.8 87.7,239.6 85,235C82.3,230.4 77.7,226.8 75,222.5C72.3,218.2 70.7,212.9 69,209.4C67.3,205.9 66.2,204.7 65.1,201.7C64,198.7 63.2,194.9 62.6,191.5C62,188.1 61.4,184.3 61.3,181.3C61.2,178.3 61.4,175.9 62,173.6C62.6,171.3 64.8,169.2 65.1,167.3C65.4,165.4 64.8,163.7 63.9,162C63,160.3 61.7,157.8 60,157C58.3,156.2 55.5,157.6 53.6,157C51.7,156.4 49.8,154.9 48.5,153.2C47.2,151.5 45.8,149.2 46,146.8C46.2,144.4 48.3,141.1 50,139C51.7,136.9 54.5,135.8 56.2,134.4C57.9,133 57.9,132.1 60,130.6C62.1,129.1 66.4,127.6 69,125.5C71.6,123.4 73.5,121.6 75.4,117.8C77.3,114 79.3,107.6 80.5,102.5C81.7,97.4 82.4,92.3 82.4,87C82.4,81.7 80.9,75.8 80.5,70.5C80.1,65.2 79.9,60.1 79.8,55C79.7,49.9 85.1,42.5 79.8,40C74.5,37.5 53.3,37.8 48,40Z" fill="#FFE100"/>
<path d="M30.7,83.3C32.7,82.3 34.9,83 38.3,84C41.7,85 47.6,87.2 51,89C54.4,90.8 56.7,92.8 58.7,94.8C60.7,96.8 63.2,99.1 63.2,101.2C63.2,103.3 60.5,105.5 58.7,107.6C56.9,109.7 57.3,111.2 52.4,114C47.5,116.8 33.9,123.6 29.4,124.2C24.9,124.8 26.6,120.8 25.5,117.8C24.4,114.8 23.4,109.7 23,106.3C22.6,102.9 22.5,100.2 23,97.4C23.5,94.6 24.9,92.1 26.2,89.7C27.5,87.3 28.7,84.2 30.7,83.3Z" fill="#FFC800"/>
<path d="M135,85C136.9,82.2 141,81.8 143.8,82C146.5,82.2 149.8,83.5 151.2,86.2C152.7,89 152.7,95 152.5,98.8C152.3,102.5 151.5,106.2 150,108.8C148.5,111.2 146,113.5 143.8,113.8C141.5,114 138.1,112.5 136.2,110C134.4,107.5 132.7,102.9 132.5,98.8C132.3,94.6 133.1,87.8 135,85Z" fill="#FFE100"/>
<path d="M185,83.8C188.2,82.5 193.8,81.9 197.5,82.5C201.2,83.1 205.6,84.6 207.5,87.5C209.4,90.4 209.4,96.2 208.8,100C208.1,103.8 206,107.5 203.8,110C201.5,112.5 198.1,114.8 195,115C191.9,115.2 187.9,113.8 185,111.2C182.1,108.8 178.7,103.5 177.5,100C176.3,96.5 176.8,92.7 178,90C179.2,87.3 181.8,85 185,83.8Z" fill="#FFE100"/>
<path d="M117.5,137.5C119.2,134.8 122.1,132.7 125,131.2C127.9,129.8 131.9,128.3 135,128.8C138.1,129.2 142.5,132.1 143.8,133.8C145,135.4 144.4,137.1 142.5,138.8C140.6,140.4 135.4,141.7 132.5,143.8C129.6,145.8 127.3,149.6 125,151.2C122.7,152.9 120.4,154.4 118.8,153.8C117.1,153.1 115.2,150.2 115,147.5C114.8,144.8 115.8,140.2 117.5,137.5Z" fill="#FFE100"/>
<path d="M155,185C155.4,183.1 160.4,181.2 162.5,181.2C164.6,181.2 167.3,182.7 167.5,185C167.7,187.3 165,193.8 163.8,195C162.5,196.2 161.5,194.2 160,192.5C158.5,190.8 154.6,186.9 155,185Z" fill="#FFE100"/>
<path d="M212.5,40C179.9,43.3 211.7,55 212.5,60C213.3,65 215,67.7 217.5,70C220,72.3 223.8,73.3 227.5,74C231.2,74.7 236.2,74 240,74C243.8,74 246.7,73.4 250,74C253.3,74.6 256.7,76.4 260,77.5C263.3,78.6 267.5,79.3 270,80.8C272.5,82.3 272.8,84.3 275,86.7C277.2,89.1 280.2,92.5 283.3,95C286.4,97.5 290,99.8 293.3,101.7C296.6,103.7 300.5,104.8 303.3,106.7C306.1,108.6 309.4,110.5 310,113.3C310.6,116.1 308.1,120.2 306.7,123.3C305.3,126.4 303.4,128.6 301.7,131.7C300,134.8 298.9,138.4 296.7,141.7C294.5,145 291.1,148.9 288.3,151.7C285.5,154.5 282.8,156.1 280,158.3C277.2,160.5 275.4,163.7 271.7,165C268,166.3 261.4,165.2 258,166C254.6,166.8 252,166.9 251,170C250,173.1 251.4,179.6 251.8,184.4C252.2,189.2 253.2,194.3 253.6,198.7C254,203.1 255,207.2 254.4,211C253.8,214.8 251.6,218.2 250,221.8C248.4,225.4 245.9,228.9 244.7,232.4C243.5,235.9 242.6,239.7 242.9,243C243.2,246.3 244.6,251.4 246.4,252C248.2,252.6 250.8,248.8 253.5,246.7C256.2,244.6 259.1,242 262.4,239.6C265.6,237.2 269.4,233.9 273,232.4C276.6,230.9 280.2,230.7 283.8,230.7C287.4,230.7 290.9,231.2 294.4,232.4C297.9,233.6 301.7,235.4 305,237.8C308.3,240.2 311.9,243.7 314,246.7C316.1,249.7 316.3,252.5 317.6,255.6C318.9,258.6 319.9,261.8 322,265C324.1,268.2 326.7,272.3 330,275C333.3,277.7 337,279.5 342,281C347,282.5 353.7,283.3 360,284C366.3,284.7 373.3,285 380,285C386.7,285 393.3,284.5 400,284C406.7,283.5 414.2,283.2 420,282C425.8,280.8 432,279.3 435,277C438,274.7 438.2,271.2 438,268C437.8,264.8 435.7,261 434,258C432.3,255 429.7,253 428,250C426.3,247 424.8,243.7 424,240C423.2,236.3 422.7,231.7 423,228C423.3,224.3 424.5,221.3 426,218C427.5,214.7 430.2,210.7 432,208C433.8,205.3 434.8,203.9 436.7,201.7C438.6,199.5 441.1,197.5 443.3,195C445.5,192.5 447.5,189.8 450,186.7C452.5,183.6 455.5,179.8 458.3,176.7C461.1,173.6 464.2,170.8 466.7,168.3C469.2,165.8 472.8,163.9 473.3,161.7C473.9,159.5 471.2,156.9 470,155C468.8,153.1 468.3,150.3 465.8,150C463.3,149.7 458.5,152.2 455,153.3C451.5,154.4 448.1,155 445,156.7C441.9,158.4 439.2,160.8 436.7,163.3C434.2,165.8 432.1,168.4 430,171.7C427.9,175 426.3,179.1 424,183C421.7,186.9 419.2,191.7 416,195C412.8,198.3 409,200.5 405,203C401,205.5 396.5,208.2 392,210C387.5,211.8 382.5,214 378,214C373.5,214 368,212.3 365,210C362,207.7 360.7,203.7 360,200C359.3,196.3 360.2,191.7 361,188C361.8,184.3 363.2,181 365,178C366.8,175 369.3,172 372,170C374.7,168 378.3,167.4 381,166C383.7,164.6 387.3,163.4 388,161.7C388.7,159.9 387.4,156.9 385,155.5C382.6,154.1 376.8,153.9 373.3,153C369.8,152.1 366.6,150.8 364,150C361.4,149.2 359.2,149.7 358,148C356.8,146.3 356.4,143.8 356.7,140C357,136.2 358.3,129.7 360,125C361.7,120.3 363.6,115.9 366.7,111.7C369.8,107.5 374.4,103.3 378.3,100C382.2,96.7 386.4,93.9 390,91.7C393.6,89.5 397.5,89.5 400,86.7C402.5,83.9 403.7,79.5 405,75C406.3,70.5 407.5,65.8 408,60C408.5,54.2 440.6,43.3 408,40C375.4,36.7 245.1,36.7 212.5,40Z" fill="#FFE100"/>
<path d="M296.7,40C288.4,43.8 296.1,57.2 296.7,62.5C297.2,67.8 298.1,68.8 300,71.7C301.9,74.6 305.2,77.8 308.3,80C311.4,82.2 315.5,84 318.3,85C321.1,86 322.8,86.3 325,85.8C327.2,85.2 329.2,83.8 331.7,81.7C334.2,79.6 337.5,76.4 340,73.3C342.5,70.2 345.6,68.8 346.7,63.3C347.8,57.8 355,43.9 346.7,40C338.4,36.1 305,36.2 296.7,40Z" fill="#FFFF00"/>
<path d="M311,40C307,44 310.2,59.4 312,64C313.8,68.6 318.2,67.2 322,67.5C325.8,67.8 332.7,70.6 335,66C337.3,61.4 340,44.3 336,40C332,35.7 315,36 311,40Z" fill="#FFFF50"/>
<path d="M393.2,176.2C392.1,173.4 395.1,166.7 398.3,162.2C401.5,157.7 407.5,153.2 412.4,149.4C417.3,145.6 422.6,142.2 427.7,139.2C432.8,136.2 437.9,134.1 443,131.5C448.1,128.9 453.7,125.6 458.4,123.9C463.1,122.2 468.1,120.5 471.1,121.3C474.1,122.1 476.2,125.6 476.2,129C476.2,132.4 474.5,137.9 471.1,141.7C467.7,145.5 460.5,149 455.8,152C451.1,155 446.8,156.6 443,159.6C439.2,162.6 436.6,167 432.8,169.8C429,172.6 424.7,174.7 420,176.2C415.3,177.7 409.2,178.8 404.7,178.8C400.2,178.8 394.3,179 393.2,176.2Z" fill="#FFFF50"/>
<path d="M410,132C410.3,129.8 412.2,124.7 414,122C415.8,119.3 419.4,116.3 421,116C422.6,115.7 424,117.7 423.5,120C423,122.3 419.9,127.5 418,130C416.1,132.5 413.3,134.7 412,135C410.7,135.3 409.7,134.2 410,132Z" fill="#FFE100"/>
<path d="M433,108C432.8,106 434,100.8 435,99C436,97.2 438.2,96.7 439,97.5C439.8,98.3 440,101.8 439.5,104C439,106.2 437.1,110.3 436,111C434.9,111.7 433.2,110 433,108Z" fill="#FFE100"/>
<path d="M391.2,105C390.4,102.3 392.7,95.4 395,92.5C397.3,89.6 401.5,87.9 405,87.5C408.5,87.1 414.2,88.1 416.2,90C418.3,91.9 418.5,96 417.5,98.8C416.5,101.5 412.9,104.6 410,106.2C407.1,107.9 403.1,109 400,108.8C396.9,108.5 392.1,107.7 391.2,105Z" fill="#FFFF50"/>
<path d="M477,103C479.7,100 485.9,98 490,96.7C494.1,95.4 497.9,95 501.7,95C505.5,95 509.4,95.6 513,96.7C516.5,97.8 520.2,99.8 523,101.7C525.8,103.6 527.7,105.8 530,108.3C532.3,110.8 535.9,113.6 536.7,116.7C537.5,119.8 536.5,124 535,126.7C533.5,129.4 530,130.8 528,133C526,135.2 524.6,138.3 523.3,140C522,141.7 523,141.9 520,143.3C517,144.7 509.4,146.9 505,148.3C500.6,149.7 497.2,150.7 493.3,151.7C489.4,152.7 484.3,154.3 481.7,154.2C479.1,154 478.6,152.2 477.5,150.8C476.4,149.4 475.8,149.3 475,145.8C474.2,142.3 473.2,135.1 473,130C472.8,124.9 473.3,119.5 474,115C474.7,110.5 474.3,106 477,103Z" fill="#FFE100"/>
<path d="M495,121.7C495,118.3 496.4,115.4 498.3,113.3C500.3,111.2 503.6,109.4 506.7,109.2C509.7,108.9 513.6,110.1 516.7,111.7C519.7,113.2 522.8,115.8 525,118.3C527.2,120.8 530,124.2 530,126.7C530,129.2 527.5,131.8 525,133.3C522.5,134.9 518.3,135.1 515,135.8C511.7,136.5 507.8,137.9 505,137.5C502.2,137.1 500,136 498.3,133.3C496.7,130.7 495,125 495,121.7Z" fill="#FFC800"/>
<path d="M480,63C482.7,62.3 490,62.5 492,64C494,65.5 493,69.8 492,72C491,74.2 488.3,76.3 486,77C483.7,77.7 479.7,77.5 478,76C476.3,74.5 475.7,70.2 476,68C476.3,65.8 477.3,63.7 480,63Z" fill="#FFE100"/>
<path d="M433.3,178.3C433.4,175.8 435,171.8 436.7,170C438.4,168.2 441.2,167.4 443.3,167.5C445.4,167.6 447.9,169.1 449.2,170.8C450.4,172.5 451.2,175.3 450.8,177.5C450.4,179.7 448.5,182.4 446.7,184.2C444.9,186 441.8,188.2 440,188.3C438.2,188.4 436.9,186.7 435.8,185C434.7,183.3 433.2,180.8 433.3,178.3Z" fill="#FFC800"/>
<path d="M350,40C341.3,43.9 350.6,57.5 350,63.3C349.4,69.1 347.8,71.1 346.7,75C345.6,78.9 345.5,81.2 343.3,86.7C341.1,92.2 336.6,103 333.3,108.3C330,113.6 326.6,114.7 323.3,118.3C320,121.9 316.6,126.1 313.3,130C310,133.9 306.6,138.1 303.3,141.7C300,145.3 296.6,148.4 293.3,151.7C290,155 286.2,158.8 283.3,161.7C280.4,164.6 278.3,167.3 275.8,169.2C273.3,171.1 270.4,171 268.3,173.3C266.2,175.7 264.4,179.7 263.3,183.3C262.2,186.9 262,192.4 261.7,195C261.4,197.6 261.2,196 261.6,198.7C262,201.4 262.6,207.9 264.2,211C265.8,214.1 268,216.1 271.3,217.3C274.6,218.5 280,218.6 283.8,218.2C287.6,217.8 290.9,215.9 294.4,214.7C297.9,213.5 302,211 305,211C308,211 310.1,212.9 312.2,214.7C314.3,216.5 316.1,218.9 317.6,221.8C319.1,224.8 319.4,229 321,232.4C322.6,235.8 324.8,238.7 327.5,242.5C330.2,246.3 333.8,251.2 337.5,255C341.2,258.8 345.8,262.3 350,265C354.2,267.7 357.5,269.2 362.5,271C367.5,272.8 373.8,274.8 380,276C386.2,277.2 393.7,278.2 400,278C406.3,277.8 414.5,277.7 418,275C421.5,272.3 420.7,265.8 421,262C421.3,258.2 420.2,257 420,252.5C419.8,248 420.8,240.8 420,235C419.2,229.2 417.5,222.5 415,217.5C412.5,212.5 409.2,207.9 405,205C400.8,202.1 395,200 390,200C385,200 380,204.2 375,205C370,205.8 365,205.8 360,205C355,204.2 350.4,201.7 345,200C339.6,198.3 332.5,197.5 327.5,195C322.5,192.5 317.9,188.8 315,185C312.1,181.2 310.3,175.6 310,172C309.7,168.4 311.1,166.1 313.3,163.3C315.5,160.5 320.5,156.9 323.3,155C326.1,153.1 328.1,154.2 330,151.7C331.9,149.2 332.2,142.2 335,140C337.8,137.8 343.6,139.7 346.7,138.3C349.8,136.9 351.9,135.3 353.3,131.7C354.7,128.1 354.2,121.7 355,116.7C355.8,111.7 356.4,105 358.3,101.7C360.2,98.4 362.5,98.9 366.7,96.7C370.9,94.5 380,91.1 383.3,88.3C386.6,85.5 383.9,83 386.7,80C389.5,77 397.4,76.7 400,70C402.6,63.3 410.3,45 402,40C393.7,35 358.7,36.1 350,40Z" fill="#FFC800"/>
<path d="M270.4,188C270.8,184.2 274.2,178.6 276.7,175.6C279.2,172.6 282.7,170.5 285.6,170.2C288.6,169.9 292.6,171.1 294.4,173.8C296.2,176.5 296.5,182 296.2,186.2C295.9,190.3 294.2,195.3 292.7,198.7C291.2,202.1 289.7,205.4 287.3,206.7C284.9,208 280.6,208 278.4,206.7C276.2,205.4 275.3,201.8 274,198.7C272.7,195.6 269.9,191.8 270.4,188Z" fill="#FFAA00"/>
<path d="M377.5,242.5C377.7,238.3 378.3,233.8 380,230C381.7,226.2 385,221.7 387.5,220C390,218.3 393.3,217.9 395,220C396.7,222.1 397,227.9 397.5,232.5C398,237.1 398.4,243.3 398,247.5C397.6,251.7 397.2,255.4 395,257.5C392.8,259.6 387.7,260.4 385,260C382.3,259.6 380,257.9 378.8,255C377.5,252.1 377.3,246.7 377.5,242.5Z" fill="#FFAA00"/>
<path d="M368.3,40C363,43.8 369.4,57 368.3,62.5C367.2,68 363.9,69.5 361.7,73.3C359.5,77 356.4,81.4 355,85C353.6,88.6 353,92.4 353.3,95C353.6,97.6 355,100.2 356.7,100.8C358.4,101.3 360.5,99.4 363.3,98.3C366.1,97.2 370,95.9 373.3,94.2C376.6,92.5 381.4,90.5 383.3,88.3C385.2,86.1 383.1,82.9 385,80.8C386.9,78.7 392.5,77.6 395,75.8C397.5,74 399.2,76 400,70C400.8,64 405.3,45 400,40C394.7,35 373.6,36.2 368.3,40Z" fill="#FFAA00"/>
<path d="M315,141.7C315.6,139.8 320.2,136.1 323.3,133.3C326.4,130.5 331.4,125.8 333.3,125C335.2,124.2 336.1,126.1 335,128.3C333.9,130.5 329.2,135.5 326.7,138.3C324.2,141.1 321.9,144.4 320,145C318.1,145.6 314.4,143.6 315,141.7Z" fill="#FFAA00"/>
<path d="M378.3,60L390,60L381.7,75L377.5,74.2Z" fill="#FF8400"/>
<path d="M381.2,522.5C382.5,521.2 386.9,519.2 388.8,520C390.6,520.8 392,524.6 392.5,527.5C393,530.4 392.6,535 392,537.5C391.4,540 390.1,542.9 388.8,542.5C387.4,542.1 385,537.5 383.8,535C382.5,532.5 381.7,529.6 381.2,527.5C380.8,525.4 380,523.8 381.2,522.5Z" fill="#FFFF00"/>
<path d="M314.8,450.3L319.8,461.6L315.3,466L310,460.4Z" fill="#FFFFC8"/>
<path d="M347.5,387.5C347.5,382.7 348.3,375 350,370C351.7,365 354.2,361.2 357.5,357.5C360.8,353.8 366.2,349.2 370,347.5C373.8,345.8 377.5,345.8 380,347.5C382.5,349.2 384.4,353.8 385,357.5C385.6,361.2 385,365.8 383.8,370C382.5,374.2 380.2,378.3 377.5,382.5C374.8,386.7 370.8,391.9 367.5,395C364.2,398.1 360.4,400.6 357.5,401.2C354.6,401.9 351.7,401 350,398.8C348.3,396.5 347.5,392.3 347.5,387.5Z" fill="#FFE100"/>
<path d="M253.5,512C249.8,510.6 247.2,511.3 245,508C242.8,504.7 242,493.7 240,492C238,490.3 235.3,495.3 233,498C230.7,500.7 228.6,504 226,508C223.4,512 221,517.5 217.5,522C214,526.5 208.8,531.2 205,535C201.2,538.8 198.3,541.2 195,545C191.7,548.8 188.3,553.3 185,557.5C181.7,561.7 177.9,565.8 175,570C172.1,574.2 167.9,578.3 167.5,582.5C167.1,586.7 170.4,591.2 172.5,595C174.6,598.8 177.9,601.7 180,605C182.1,608.3 185,611.7 185,615C185,618.3 182.1,622.1 180,625C177.9,627.9 175.8,632.1 172.5,632.5C169.2,632.9 164.2,627.9 160,627.5C155.8,627.1 151,628.2 147.5,630C144,631.8 139.9,635.3 139,638C138.1,640.7 140.4,643.8 142,646C143.6,648.2 145.8,647.9 148.7,651C151.6,654.1 156.7,659.2 159.4,664.5C162.1,669.8 163.4,676.8 164.7,683C166,689.2 167.1,695.9 167.3,701.7C167.5,707.5 165.1,713.2 166,717.6C166.9,722 169.3,725.2 172.6,728.3C175.9,731.4 182,733.8 186,736C190,738.2 192.8,740.5 196.5,741.5C200.2,742.5 204.1,742.6 208,742C211.9,741.4 216,740.3 220,738C224,735.7 228.7,730.2 232,728C235.3,725.8 237.2,726.1 240,724.8C242.8,723.5 246,721.8 249,720.3C252,718.8 255.9,718 258,715.8C260.1,713.6 261.5,710.3 261.3,706.9C261.1,703.5 258.4,700.1 256.9,695.6C255.4,691.1 253.3,684.8 252.4,680C251.5,675.2 250.8,670.3 251.2,667C251.6,663.7 253.2,661.2 255,660C256.8,658.8 259.5,658.7 262,660C264.5,661.3 267.5,664.7 270,668C272.5,671.3 274.7,675.8 277,680C279.3,684.2 281.8,688.8 284,693C286.2,697.2 288.4,701.3 290,705C291.6,708.7 293.6,712.2 293.5,715C293.4,717.8 291.2,719.8 289.4,722C287.6,724.2 284.9,726 282.7,728C280.5,730 275.6,731.8 276,734C276.4,736.2 282,739.2 285,741C288,742.8 291.4,744.7 294,745C296.6,745.3 298.5,744.7 300.7,742.8C302.9,740.9 305.1,736.8 307.4,733.8C309.6,730.8 311.9,727.4 314.2,724.8C316.5,722.2 317.6,719.9 321,718C324.4,716.1 329.9,714.9 334.4,713.6C338.9,712.3 343.4,711.9 347.9,710.2C352.4,708.5 357.2,706.3 361.3,703.5C365.4,700.7 369.4,697.3 372.6,693.4C375.8,689.5 378.7,684.5 380.4,680C382.1,675.5 382.5,671.2 382.7,666.4C382.9,661.6 382.5,655.1 381.6,651C380.7,646.9 379,645 377.3,641.5C375.6,638 373.9,633.6 371.5,630C369.1,626.4 366.1,623.6 363,620C359.9,616.4 356.2,612.6 352.9,608.6C349.5,604.6 346.2,600.1 342.9,595.8C339.6,591.5 336,587.2 332.9,582.9C329.8,578.6 326.7,573.2 324.3,570C321.9,566.8 320.8,567.1 318.7,563.8C316.6,560.5 314.3,554.8 312,550.3C309.7,545.8 308,541 305,536.9C302,532.8 298.1,528.6 294,525.6C289.9,522.6 284.9,520.4 280.4,518.9C275.9,517.4 271.5,517.8 267,516.6C262.5,515.5 257.2,513.4 253.5,512Z" fill="#FFE100"/>
<path d="M240,523.4C243.9,521.9 248.6,521.2 253.5,521C258.4,520.8 264.3,521.1 269.2,522.2C274.1,523.4 278.6,525.5 282.7,527.9C286.8,530.3 291,533.2 294,536.9C297,540.6 298.5,545.8 300.7,550.3C302.9,554.8 305.4,560.5 307.4,563.8C309.4,567.1 311,567.1 312.9,570C314.8,572.9 316,577.6 318.6,581.4C321.2,585.2 325.3,588.8 328.6,592.9C331.9,597 335.5,601.5 338.6,605.8C341.7,610.1 345.1,614.6 347.2,618.6C349.3,622.6 350.4,626.2 351.5,630C352.6,633.8 353.5,637.2 353.7,641.5C353.9,645.8 353.1,651 352.9,655.8C352.6,660.5 353.2,665.8 352.2,670C351.2,674.2 349,677.7 347,681C345,684.3 342.8,687.5 340,690C337.2,692.5 333.6,694.4 330,696C326.4,697.6 322.5,699 318.7,699.7C314.9,700.4 311.1,700.7 307.4,700C303.6,699.3 299.6,697.8 296.2,695.6C292.8,693.4 290,690 287.2,686.6C284.4,683.2 281.9,679.1 279.3,675.4C276.7,671.7 273.9,667.4 271.5,664.2C269.1,661.1 266.9,658.5 264.7,656.5C262.4,654.5 260.6,652.9 258,652C255.4,651.1 252,651.3 249,651C246,650.7 243.2,651.3 240,650C236.8,648.7 233.3,646 230,643C226.7,640 223.8,635.8 220,632C216.2,628.2 211.3,624 207.5,620C203.7,616 200.4,612 197,608C193.6,604 190.2,600 187,596C183.8,592 177.8,587.9 177.5,584C177.2,580.1 182.1,576.5 185,572.5C187.9,568.5 191.7,564.2 195,560C198.3,555.8 201.2,551.2 205,547.5C208.8,543.8 213.3,540.4 217.5,537.5C221.7,534.6 226.2,532.4 230,530C233.8,527.6 236.1,524.9 240,523.4Z" fill="#FFC800"/>
<path d="M240,536.9C245.1,535.2 250.8,534.8 255.7,534.6C260.6,534.4 265.1,534.6 269.2,535.7C273.3,536.8 277.2,538.9 280.4,541.3C283.6,543.7 286,546.9 288.3,550.3C290.6,553.7 292.1,558 294,561.6C295.9,565.2 298.1,568.2 300,572C301.9,575.8 303.6,580.1 305.7,584.3C307.8,588.5 310,593.6 312.9,597.2C315.8,600.8 320,602.9 322.9,605.8C325.8,608.6 328.4,611.4 330,614.3C331.6,617.1 332.6,619.8 332.2,622.9C331.8,626 329.4,629.1 327.9,632.9C326.3,636.7 324.1,642 322.9,645.8C321.7,649.6 320.9,652.1 320.8,655.8C320.7,659.5 322.2,664.5 322.2,668C322.2,671.5 322.2,674.3 321,677C319.8,679.7 317.3,682.3 315,684C312.7,685.7 309.8,687.3 307,687C304.2,686.7 301,684.5 298,682C295,679.5 291.8,675.5 289,672C286.2,668.5 283.7,664.7 281,661C278.3,657.3 275.5,653.3 273,650C270.5,646.7 268.5,643.5 266,641C263.5,638.5 260.8,636.2 258,635C255.2,633.8 252,635.2 249,634C246,632.8 242.8,630.3 240,628C237.2,625.7 235.8,623 232.5,620C229.2,617 224.2,613.7 220,610C215.8,606.3 211.2,601.8 207.5,598C203.8,594.2 200.4,590 197.5,587C194.6,584 190,582.4 190,580C190,577.6 195,575.4 197.5,572.5C200,569.6 202.5,565.8 205,562.5C207.5,559.2 209.2,555.4 212.5,552.5C215.8,549.6 220.4,547.6 225,545C229.6,542.4 234.9,538.6 240,536.9Z" fill="#FFAA00"/>
<path d="M212.5,570C213.8,567.1 216.7,562.3 220,560C223.3,557.7 228.4,557.1 232.5,556.2C236.6,555.4 241,555 244.8,555C248.5,555 251.8,555.2 255,556.2C258.2,557.3 262.9,557.7 263.8,561.2C264.6,564.8 261.5,572.7 260,577.5C258.5,582.3 256.7,586.2 255,590C253.3,593.8 251.7,597.9 250,600C248.3,602.1 247.5,602.5 245,602.5C242.5,602.5 238.3,601.2 235,600C231.7,598.8 227.9,597.1 225,595C222.1,592.9 219.6,590.4 217.5,587.5C215.4,584.6 213.3,580.4 212.5,577.5C211.7,574.6 211.2,572.9 212.5,570Z" fill="#FF8400"/>
<path d="M222.5,571.2C224.6,568.8 232.3,569.4 235,570C237.7,570.6 238.3,572.1 238.8,575C239.2,577.9 239,584.8 237.5,587.5C236,590.2 232.5,591.7 230,591.2C227.5,590.8 223.8,588.3 222.5,585C221.2,581.7 220.4,573.8 222.5,571.2Z" fill="#FF5F00"/>
<path d="M280.4,637.2C281.5,634 285.1,630.8 288.3,629.3C291.5,627.8 296.7,626.9 299.5,628.2C302.3,629.5 303.7,633.5 305,637.2C306.3,641 306.8,646.2 307.4,650.7C308,655.2 309.1,660.7 308.5,664.2C307.9,667.8 306.2,671.1 304,672C301.8,672.9 297.8,671.8 295,669.8C292.2,667.8 289.4,663.3 287.2,659.7C285,656.1 282.7,652.1 281.6,648.4C280.5,644.6 279.3,640.4 280.4,637.2Z" fill="#FF8400"/>
<path d="M183.3,696.4C184.2,693.3 187.7,691 191.2,691C194.7,691 200.5,695.1 204.5,696.4C208.5,697.7 212.3,700.3 215,699C217.7,697.7 218.7,692.8 220.5,688.4C222.3,684 224.1,677.4 225.8,672.5C227.6,667.6 229,661.9 231,659.2C233,656.6 235.9,655.3 237.7,656.6C239.5,657.9 241.2,662.8 241.7,667.2C242.1,671.6 241.7,677.7 240.4,683C239.1,688.3 236.1,693.7 233.7,699C231.3,704.3 228.9,710.1 225.8,715C222.7,719.9 218.6,725.6 215,728.3C211.4,731 208,732.3 204.5,731C201,729.7 197.1,723.8 194,720.3C190.9,716.8 187.8,713.7 186,709.7C184.2,705.7 182.4,699.5 183.3,696.4Z" fill="#FFC800"/>
<path d="M24,747C25.5,743.3 25.5,738.5 29,736C32.5,733.5 39.7,732.8 45,732C50.3,731.2 55.2,730.3 61,731C66.8,731.7 74.2,735.3 80,736C85.8,736.7 90.3,734.5 95.6,735C100.8,735.5 107.5,737 111.5,739C115.5,741 117.2,743.9 119.5,747C121.8,750.1 124.6,752.8 125,757.5C125.4,762.2 139.5,772.1 122,775C104.5,777.9 37,777.8 20,775C3,772.2 19.3,762.7 20,758C20.7,753.3 22.5,750.7 24,747Z" fill="#FFE100"/>
<path d="M97.5,570C98.3,566.7 101.7,562.7 105,560C108.3,557.3 113.3,555.2 117.5,553.8C121.7,552.3 126.2,551 130,551.2C133.8,551.5 137.5,552.7 140,555C142.5,557.3 145.4,561.7 145,565C144.6,568.3 140.4,572.3 137.5,575C134.6,577.7 131.7,580 127.5,581.2C123.3,582.5 117.1,582.7 112.5,582.5C107.9,582.3 102.5,582.1 100,580C97.5,577.9 96.7,573.3 97.5,570Z" fill="#FFE100"/>
<path d="M75,630C75.4,627.3 79.6,625.4 82.5,625C85.4,624.6 90.2,625.8 92.5,627.5C94.8,629.2 96.7,632.5 96.2,635C95.8,637.5 92.7,641.5 90,642.5C87.3,643.5 82.5,643.3 80,641.2C77.5,639.2 74.6,632.7 75,630Z" fill="#FFE100"/>
<path d="M-6.7,520.8C-2.8,510 10,523.5 16.7,523.3C23.3,523.2 26.9,520.3 33.3,520C39.7,519.7 49.7,520.3 55,521.7C60.3,523.1 63.6,525.3 65,528.3C66.4,531.4 64.7,535.3 63.3,540C61.9,544.7 58.1,551.7 56.7,556.7C55.3,561.7 53.3,566.1 55,570C56.7,573.9 64.4,576.1 66.7,580C68.9,583.9 67.2,589.4 68.3,593.3C69.4,597.2 72.8,599.4 73.3,603.3C73.9,607.2 73.3,613.6 71.7,616.7C70,619.7 66.9,621.7 63.3,621.7C59.7,621.7 55,619.2 50,616.7C45,614.2 38.9,610 33.3,606.7C27.8,603.3 23.3,599.7 16.7,596.7C10,593.6 -2.8,601 -6.7,588.3C-10.6,575.7 -10.6,531.7 -6.7,520.8Z" fill="#FFFFC8"/>
<path d="M25,483.3C32.5,481.1 61.9,481.1 70,483.3C78.1,485.6 73.9,493.1 73.3,496.7C72.8,500.3 69.7,503.3 66.7,505C63.6,506.7 59.2,506.5 55,506.7C50.8,506.8 45.6,506.7 41.7,505.8C37.8,505 34.4,503.2 31.7,501.7C28.9,500.1 26.1,499.7 25,496.7C23.9,493.6 17.5,485.6 25,483.3Z" fill="#FFFFC8"/>
<path d="M70,508C72.5,506 78,506 83,506C88,506 95,508.2 100,508C105,507.8 110.2,504.3 113,505C115.8,505.7 118,509 117,512C116,515 109.3,518.8 107,523C104.7,527.2 104.2,533.3 103,537C101.8,540.7 101.7,543.2 100,545C98.3,546.8 96.3,547.7 93,548C89.7,548.3 83.3,546.2 80,547C76.7,547.8 75.2,553.3 73,553C70.8,552.7 68.3,549.2 67,545C65.7,540.8 64.8,532.5 65,528C65.2,523.5 67.2,521.3 68,518C68.8,514.7 67.5,510 70,508Z" fill="#FFFF50"/>
<path d="M73,548C74.3,544.7 76.8,543.3 80,542C83.2,540.7 88.3,539.5 92,540C95.7,540.5 100,542.3 102,545C104,547.7 104.3,552.2 104,556C103.7,559.8 102.3,564.8 100,568C97.7,571.2 93.7,574.2 90,575C86.3,575.8 81,575.2 78,573C75,570.8 72.8,566.2 72,562C71.2,557.8 71.7,551.3 73,548Z" fill="#FFFF00"/>
<path d="M85,519.2C85.9,518.3 88.9,516.8 90.8,516.7C92.8,516.5 95.8,517.5 96.7,518.3C97.5,519.2 96.9,521 95.8,521.7C94.7,522.4 91.8,522.5 90,522.5C88.2,522.5 86.2,522.2 85.3,521.7C84.5,521.1 84.1,520 85,519.2Z" fill="#FFFF00"/>
<path d="M113.3,523.3C113.6,520.4 114.7,518.6 116.7,517.5C118.6,516.4 122.6,515.7 125,516.7C127.4,517.6 130.1,520.6 130.8,523.3C131.5,526.1 130.7,530.8 129.2,533.3C127.6,535.8 124,538.1 121.7,538.3C119.3,538.6 116.4,537.5 115,535C113.6,532.5 113.1,526.2 113.3,523.3Z" fill="#FFFFC8"/>
<path d="M70,585C71.1,583.2 73.1,581.2 75,580.8C76.9,580.4 80.3,580.7 81.7,582.5C83.1,584.3 83.3,588.5 83.3,591.7C83.3,594.9 82.8,599.4 81.7,601.7C80.6,603.9 78.5,605.6 76.7,605C74.9,604.4 72.2,600.6 70.8,598.3C69.5,596.1 68.8,593.9 68.7,591.7C68.5,589.4 68.9,586.8 70,585Z" fill="#FFFFC8"/>
<path d="M116.7,613.3C116.9,611 120.6,608.6 123.3,607.5C126.1,606.4 130.4,605.8 133.3,606.7C136.2,607.5 140,610.3 140.8,612.5C141.7,614.7 140.1,618.2 138.3,620C136.5,621.8 132.8,623.1 130,623.3C127.2,623.6 123.9,623.3 121.7,621.7C119.4,620 116.4,615.7 116.7,613.3Z" fill="#FFFF50"/>
<path d="M130,616.7L133.3,613.3L137,616.7L133.3,620.3Z" fill="#FFFFC8"/>
<path d="M-6.7,528.3C-3.9,522.9 5.3,527.2 10,527.5C14.7,527.8 18.6,528.2 21.7,530C24.7,531.8 27.1,535.3 28.3,538.3C29.6,541.4 29.7,545.3 29.2,548.3C28.6,551.4 27.4,554.6 25,556.7C22.6,558.8 20.3,560.3 15,560.8C9.7,561.4 -3.1,565.4 -6.7,560C-10.3,554.6 -9.4,533.8 -6.7,528.3Z" fill="#FFFF96"/>
<path d="M-6.7,533.3C-4.2,529.4 4,532.1 8.3,532.5C12.6,532.9 16.5,534 19.2,535.8C21.8,537.6 23.6,540.7 24.2,543.3C24.7,546 24,549.6 22.5,551.7C21,553.8 19.9,555.1 15,555.8C10.1,556.5 -3.1,559.6 -6.7,555.8C-10.3,552.1 -9.2,537.2 -6.7,533.3Z" fill="#FFFF50"/>
<path d="M-6.7,538.3C-4.2,536 4.4,537.6 8.3,538C12.2,538.4 14.6,539.5 16.7,540.8C18.8,542.1 20.7,544.2 20.8,545.8C21,547.5 19.6,549.7 17.5,550.8C15.4,551.9 12.4,552.3 8.3,552.5C4.3,552.7 -4.2,554.4 -6.7,552C-9.2,549.6 -9.2,540.7 -6.7,538.3Z" fill="#FFFF00"/>
<path d="M3.3,545.8C3.6,544.7 7.5,543.3 10,543C12.5,542.7 16.4,543.5 18.3,544.2C20.3,544.8 21.9,546.1 21.7,547C21.4,547.9 18.9,549.2 16.7,549.7C14.4,550.2 10.6,550.6 8.3,550C6.1,549.4 3.1,547 3.3,545.8Z" fill="#FFE100"/>
<path d="M-6.7,571.7C-3.9,569.4 5.3,571.1 10,571.3C14.7,571.6 19,572.2 21.7,573.3C24.3,574.5 25.8,576.7 25.8,578.3C25.8,580 24.3,582.2 21.7,583.3C19,584.5 14.7,585.1 10,585.3C5.3,585.6 -3.9,587.3 -6.7,585C-9.4,582.7 -9.4,573.9 -6.7,571.7Z" fill="#FFFF96"/>
<path d="M-6.7,575C-4.2,573.8 4.4,574.2 8.3,574.5C12.2,574.8 15.1,575.8 16.7,576.7C18.2,577.6 18.6,579.1 17.5,580C16.4,580.9 14,581.7 10,582C6,582.3 -3.9,582.8 -6.7,581.7C-9.4,580.5 -9.2,576.2 -6.7,575Z" fill="#FFFF50"/>
<path d="M33.3,538.3C34.5,535.8 38.1,533.5 41.7,531.7C45.3,529.9 51.4,527.8 55,527.5C58.6,527.2 62.5,527.9 63.3,530C64.1,532.1 61.9,536.7 60,540C58.1,543.3 54.5,547 51.7,550C48.9,553 45.7,556.1 43.3,558.3C40.9,560.5 39.2,563.6 37.5,563.3C35.8,563 33.8,559.5 33.3,556.7C32.8,553.9 34.2,549.8 34.2,546.7C34.2,543.6 32,540.8 33.3,538.3Z" fill="#FFFFFF"/>
<path d="M36.7,546.7L40,545L40.8,550L37.5,552.5Z" fill="#00FFFF"/>
<path d="M48.3,610C47.8,607.8 49.2,602.8 50,600C50.8,597.2 51.6,594.3 53.3,593.3C55,592.3 57.8,593.4 60,594.2C62.2,595 64.8,596.5 66.7,598.3C68.7,600.1 71.2,602.5 71.7,605C72.2,607.5 72,611.8 70,613.3C68,614.8 62.8,614.2 60,614.2C57.2,614.2 55.2,614 53.3,613.3C51.3,612.6 48.8,612.2 48.3,610Z" fill="#FFFFFF"/>
<path d="M-6.7,503.3C-4.4,500.6 3.3,505.8 6.7,505.3C10,504.8 11.4,502 13.3,500.3C15.3,498.7 16.8,496.4 18.3,495.3C19.9,494.3 21.2,493.4 22.5,494.2C23.8,494.9 25.1,497.1 25.8,500C26.6,502.9 27.1,508.3 27,511.7C26.9,515 27,518.5 25,520C23,521.5 20.3,520.6 15,520.8C9.7,521.1 -3.1,524.6 -6.7,521.7C-10.3,518.8 -8.9,506.1 -6.7,503.3Z" fill="#FFFFFF"/>
<path d="M-8,505.8C-5.6,504.1 3.2,508.7 6.7,508.3C10.2,507.9 11.1,505 13.3,503.3C15.5,501.6 18.5,497.7 20,498.3C21.5,498.9 21.9,503.9 22.5,506.7C23.1,509.5 24.6,513.2 23.3,515C22.1,516.8 17.8,517.2 15,517.5C12.2,517.8 10.5,516.6 6.7,516.7C2.9,516.8 -5.6,520.1 -8,518.3C-10.4,516.5 -10.4,507.5 -8,505.8Z" fill="#00FFFF"/>
<path d="M-6.7,591.7C-3.9,584.4 5,593.3 10,595C15,596.7 19.4,599.2 23.3,601.7C27.2,604.2 31,606.7 33.3,610C35.7,613.3 37.8,618.1 37.5,621.7C37.2,625.3 34.9,629.3 31.7,631.7C28.5,634 24.7,634.7 18.3,635.8C11.9,636.9 -2.5,645.7 -6.7,638.3C-10.8,631 -9.4,598.9 -6.7,591.7Z" fill="#FFFFFF"/>
<path d="M-8,596.7C-5,590.9 5.1,598.3 10,600C14.9,601.7 18.4,604.5 21.7,606.7C25,608.9 28.1,610.8 30,613.3C31.9,615.8 33.6,619.2 33.3,621.7C33,624.2 30.8,626.6 28.3,628.3C25.8,630 21.9,630.7 18.3,631.7C14.7,632.7 11.1,633.7 6.7,634.2C2.3,634.8 -5.6,641.2 -8,635C-10.4,628.8 -11,602.5 -8,596.7Z" fill="#00FFFF"/>
<path d="M21.7,628.3C22.2,625 24.7,621.9 28.3,620C31.9,618.1 38.1,616.9 43.3,616.7C48.6,616.4 55,617.2 60,618.3C65,619.4 70.3,621.1 73.3,623.3C76.4,625.6 78.3,628.9 78.3,631.7C78.3,634.4 78.1,637.8 73.3,640C68.6,642.2 58.1,645 50,645C41.9,645 29.7,642.8 25,640C20.3,637.2 21.1,631.7 21.7,628.3Z" fill="#FFFF96"/>
<path d="M24.2,628.7C24.6,625.9 26.8,623.3 30,621.7C33.2,620 38.6,618.9 43.3,618.7C48.1,618.4 53.9,619.3 58.3,620.3C62.8,621.3 67.4,622.8 70,624.7C72.6,626.6 74.2,629.3 74.2,631.7C74.2,634 74,636.9 70,638.7C66,640.5 57.1,642.6 50,642.5C42.9,642.4 31.8,640.6 27.5,638.3C23.2,636 23.8,631.4 24.2,628.7Z" fill="#FFFF50"/>
<path d="M26.7,629C27.1,626.7 29.7,624.4 32.5,623C35.3,621.6 39.6,620.8 43.7,620.7C47.7,620.6 52.8,621.4 56.7,622.3C60.5,623.2 64.4,624.4 66.7,626C68.9,627.6 70.1,629.9 70,631.7C69.9,633.4 69.7,635.3 66.3,636.7C63,638.1 56.1,640 50,640C43.9,640 33.9,638.5 30,636.7C26.1,634.8 26.2,631.3 26.7,629Z" fill="#FFFF00"/>
<path d="M29.2,629.3C29.5,627.6 32.2,625.4 34.7,624.3C37.1,623.2 40.6,622.7 44,622.7C47.4,622.7 51.8,623.6 55,624.3C58.2,625.1 61.5,626.2 63.3,627.3C65.1,628.5 65.9,630.1 65.8,631.3C65.7,632.6 65.3,633.7 62.7,634.7C60,635.6 55,637 50,637C45,637 36,635.9 32.5,634.7C29,633.4 28.8,631.1 29.2,629.3Z" fill="#FFE100"/>
<path d="M31.7,629.3C31.9,628.2 34.6,626.4 36.7,625.7C38.8,624.9 41.6,624.6 44.3,624.7C47.1,624.7 50.7,625.4 53.3,626C55.9,626.6 58.6,627.5 60,628.3C61.4,629.2 61.9,630.2 61.7,631C61.4,631.8 60.6,632.4 58.7,633C56.7,633.6 53.9,634.4 50,634.3C46.1,634.3 38.1,633.5 35,632.7C31.9,631.8 31.4,630.5 31.7,629.3Z" fill="#FFC800"/>
<path d="M34.2,629.3C34.4,628.6 36.9,627.5 38.7,627C40.4,626.5 42.4,626.3 44.7,626.3C46.9,626.4 50,626.8 52,627.3C54,627.8 56.1,628.7 56.7,629.3C57.2,630 56.4,630.9 55.3,631.3C54.2,631.8 53,632.2 50,632.2C47,632.2 40.1,631.8 37.5,631.3C34.9,630.9 34,630.1 34.2,629.3Z" fill="#FFAA00"/>
<path d="M143.3,635C143.6,632.8 146.1,629.7 148.3,628.3C150.6,626.9 154.3,626.1 156.7,626.7C159,627.2 161.7,629.4 162.5,631.7C163.3,633.9 162.9,638.1 161.7,640C160.4,641.9 157.5,643.1 155,643.3C152.5,643.6 148.6,643.1 146.7,641.7C144.7,640.3 143.1,637.2 143.3,635Z" fill="#FFE100"/>
<path d="M511.7,65.8C513.1,64.7 518.1,64.8 521.7,65C525.3,65.2 530.8,65.6 533.3,66.7C535.8,67.8 537.2,69.8 536.7,71.7C536.2,73.6 533.1,77.5 530,78.3C526.9,79.1 521.1,77.8 518.3,76.7C515.5,75.6 514.4,73.5 513.3,71.7C512.2,69.9 510.3,66.9 511.7,65.8Z" fill="#FFFF50"/>
<path d="M40,655C41.2,651.2 46.2,647.1 50,645C53.8,642.9 58.8,641.7 62.5,642.5C66.2,643.3 70.4,646.2 72.5,650C74.6,653.8 75.8,660.8 75,665C74.2,669.2 71.2,673.3 67.5,675C63.8,676.7 56.7,676.2 52.5,675C48.3,673.8 44.6,670.8 42.5,667.5C40.4,664.2 38.8,658.8 40,655Z" fill="#FFFF50"/>
<path d="M51.2,647.5C52.7,645.4 56.9,644.2 58.8,645C60.6,645.8 62.1,649.6 62.5,652.5C62.9,655.4 62.7,660.4 61.2,662.5C59.8,664.6 55.6,665.8 53.8,665C51.9,664.2 50.4,660.4 50,657.5C49.6,654.6 49.8,649.6 51.2,647.5Z" fill="#FFFFC8"/>
<path d="M2.5,667.5C4,665.4 7.5,662.5 10,662.5C12.5,662.5 16.7,665 17.5,667.5C18.3,670 16.9,675.2 15,677.5C13.1,679.8 8.5,681.7 6.2,681.2C4,680.8 1.9,677.3 1.2,675C0.6,672.7 1,669.6 2.5,667.5Z" fill="#FFFF50"/>
<path d="M79.7,672.5C81.2,671.5 88.6,676.3 93,675C97.4,673.7 102,668 106,664.5C110,661 113.4,656.2 117,654C120.6,651.8 124.8,649.2 127.5,651C130.2,652.8 130.3,660.5 133,664.5C135.7,668.5 139.9,671.5 143.4,675C146.9,678.5 151.8,680.9 154,685.8C156.2,690.7 156.7,698.6 156.7,704.4C156.7,710.1 155.3,715.4 154,720.3C152.7,725.2 151.4,730.5 148.7,733.6C146,736.7 141.9,739.4 138,739C134.1,738.6 129.4,733.7 125,731C120.6,728.3 116.4,724.8 111.5,723C106.6,721.2 100.9,721.2 95.6,720.3C90.3,719.4 83.9,719.4 79.7,717.6C75.5,715.8 71.3,713.2 70.4,709.7C69.5,706.2 71.5,699.5 74.4,696.4C77.3,693.3 86,693.6 87.6,691C89.2,688.4 85.3,684.1 84,681C82.7,677.9 78.2,673.5 79.7,672.5Z" fill="#FFFF50"/>
<path d="M40,710L50,702L61,709L51,718Z" fill="#FFFF50"/>
<path d="M586.7,40C518.7,44 586.4,57.6 586.7,64C587,70.4 588.3,74.5 588.3,78.3C588.3,82.1 585.9,82.2 586.7,86.7C587.5,91.2 591.3,100.3 593,105C594.7,109.7 594.4,112.2 596.7,115C599,117.8 603.4,120.9 606.7,121.7C610,122.5 613.4,120.6 616.7,120C620,119.4 624.5,117.5 626.7,118.3C628.9,119.1 628.5,122.9 630,125C631.5,127.1 634.2,129 636,131C637.8,133 638.3,134.8 641,137C643.7,139.2 648.3,141.8 652,144C655.7,146.2 659.7,148.2 663,150C666.3,151.8 668.9,152.6 672,155C675.1,157.4 678.4,161.7 681.5,164.5C684.6,167.3 687,170.5 690.7,172C694.4,173.5 699.5,173.7 703.5,173.7C707.5,173.7 710.9,171.4 714.6,172C718.3,172.6 721.4,175.4 725.6,177.4C729.8,179.4 735.1,181.9 740,184C744.9,186.1 750,188.2 755,190C760,191.8 765,193.7 770,195C775,196.3 780,196.5 785,198C790,199.5 795,201.7 800,204C805,206.3 809.2,208.5 815,212C820.8,215.5 827.5,221 835,225C842.5,229 851.7,233.1 860,236C868.3,238.9 876.7,240.3 885,242.5C893.3,244.7 903.3,246.5 910,249C916.7,251.5 921.7,254 925,257.5C928.3,261 928.3,266.2 930,270C931.7,273.8 932.1,276.9 935,280C937.9,283.1 942.5,286.6 947.5,288.8C952.5,290.9 957.1,292.5 965,293C972.9,293.5 990,334.2 995,292C1000,249.8 1063,82 995,40C927,-2 654.8,36 586.7,40Z" fill="#FFE100"/>
<path d="M600,40C534,46.3 599.3,69.4 599,78C598.7,86.6 597.3,87.8 598,91.7C598.7,95.7 600.7,98.9 603,101.7C605.3,104.5 608.6,106.9 611.7,108.3C614.8,109.7 618.7,108.9 621.7,110C624.8,111.1 627,113.2 630,115C633,116.8 635.7,118.9 640,121C644.3,123.1 651.2,126 655.7,127.7C660.2,129.4 663.1,130.7 666.8,131.4C670.5,132.1 673.8,132 677.8,131.8C681.8,131.7 686.7,130.6 690.7,130.5C694.7,130.4 698.3,130.3 701.7,131.4C705.1,132.5 708.1,134.1 710.9,136.9C713.6,139.7 715.5,144.7 718.2,148C721,151.3 724,154.4 727.4,157C730.8,159.6 734.8,161.9 738.5,163.6C742.2,165.3 745.8,165.8 749.5,167.2C753.2,168.6 756.8,170.3 760.5,171.8C764.2,173.3 767.8,175.2 771.5,176.4C775.2,177.6 778.7,178.3 782.6,179.2C786.5,180.1 790.4,180.5 795,182C799.6,183.5 805.7,186.7 810,188.4C814.3,190.1 817.3,191.1 821,192C824.7,192.9 828.9,194.2 832,193.9C835.1,193.6 837.4,192.3 839.4,190.2C841.4,188 843.4,184.4 844,181C844.6,177.6 843.6,173.7 843,170C842.4,166.3 841,162.4 840.4,159C839.8,155.6 839.1,152.6 839.4,149.8C839.7,147 841,144.2 842.2,142.4C843.4,140.6 844.8,138.8 846.8,138.8C848.8,138.8 851.9,140.9 854,142.4C856.1,143.9 857.5,145.8 859.7,148C861.9,150.2 864.9,152.9 867,155.3C869.1,157.7 870.7,159.5 872.5,162.6C874.3,165.7 876.1,170.3 878,173.7C879.9,177.1 881.5,180.3 883.6,182.9C885.8,185.5 887.8,188.7 890.9,189.3C894,189.9 898.9,187.7 902,186.5C905.1,185.3 907.2,182.3 909.3,182C911.4,181.7 913.4,182.4 914.8,184.7C916.2,187 916.5,192.3 917.6,195.7C918.7,199.1 919.6,201.8 921.2,205C922.8,208.2 924.4,212 927,215C929.6,218 933.6,221.2 937,223C940.4,224.8 944.3,226.8 947.5,226C950.7,225.2 953.5,221 956,218C958.5,215 961.2,212.3 962.6,208C964,203.7 963.5,196.5 964.4,192C965.3,187.5 966.8,184.7 968,181C969.2,177.3 971,173.7 971.8,170C972.6,166.3 973,162.7 972.7,159C972.4,155.3 971.1,151.7 970,148C968.9,144.3 967.5,140.6 966.3,136.9C965.1,133.2 964.4,128.7 962.6,125.9C960.8,123.2 958.7,122.1 955.3,120.4C951.9,118.7 946.4,117.7 942.4,115.8C938.4,113.9 934.2,111.6 931.4,109.3C928.6,107 926.4,104.3 925.8,102C925.2,99.7 925.9,97.4 927.7,95.6C929.6,93.8 933.2,92.2 936.9,91C940.6,89.8 945.1,88.7 949.7,88.2C954.3,87.7 956.9,87.6 964.4,88.2C971.9,88.8 989.9,100 995,92C1000.1,84 1060.8,48.7 995,40C929.2,31.3 666,33.7 600,40Z" fill="#FFC800"/>
<path d="M613.3,40C557.8,44 613.6,57.6 613.3,64C613,70.4 611.7,73.7 611.7,78.3C611.7,82.9 611.6,88.1 613.3,91.7C615,95.3 618.9,98.5 621.7,100C624.5,101.5 627.1,99.8 630,100.7C632.9,101.7 635.8,103.8 639.2,105.7C642.6,107.6 646.5,110.8 650.2,112C653.9,113.2 657.6,113.3 661.2,113C664.9,112.7 668.6,111.1 672.3,110.3C676,109.5 679.9,108.1 683.3,108.4C686.7,108.7 689.7,110.3 692.5,112C695.3,113.7 697.8,116.2 699.9,118.5C702,120.8 702.9,123.2 705.4,125.9C707.9,128.7 711.5,131.9 714.6,135C717.7,138.1 720.7,141.8 723.8,144.3C726.8,146.8 729.6,148.3 733,149.8C736.4,151.3 740.3,152.6 744,153.5C747.7,154.4 751.3,154.4 755,155.3C758.7,156.2 762.3,157.8 766,159C769.7,160.2 773,161.4 777,162.6C781,163.8 786.7,164.8 790,166C793.3,167.2 795.2,170.5 797,170C798.8,169.5 799.8,165.4 801,163C802.2,160.6 803,159 804.5,155.3C806,151.6 807.9,144.6 810,140.6C812.1,136.6 814.6,133.7 817.4,131.4C820.2,129.1 823.5,127.8 826.6,126.8C829.7,125.8 832.7,125.4 835.8,125.3C838.9,125.2 842,125.2 845,125.9C848,126.6 850.6,128.1 854,129.6C857.4,131.1 861.5,132.9 865.2,135C868.9,137.1 872.8,139.9 876.2,142.4C879.6,144.9 882.3,147.4 885.4,149.8C888.5,152.2 890.9,155.2 894.6,157C898.3,158.8 903.5,159.2 907.5,160.8C911.5,162.4 915.5,164.2 918.5,166.3C921.5,168.5 923.6,171.7 925.8,173.7C927.9,175.7 929.7,178.9 931.4,178.3C933.1,177.7 935.1,173.6 936,170C936.9,166.4 937.4,161.3 936.9,157C936.4,152.7 934.7,148.6 933.2,144.3C931.7,140 930.2,135.4 927.7,131.4C925.2,127.4 921,124.1 918.5,120.4C916,116.7 914.4,113.3 913,109.3C911.6,105.3 910.5,100.8 910.2,96.5C909.9,92.2 910,87 911.1,83.6C912.2,80.2 913.8,78.1 916.6,76.2C919.4,74.4 924,74.1 927.7,72.6C931.4,71.1 936,69.2 938.7,67C941.5,64.8 943,64.2 944.2,59.7C945.4,55.2 1001.1,43.3 946,40C890.9,36.7 668.8,36 613.3,40Z" fill="#FFAA00"/>
<path d="M629,40C586,44 629.4,57.6 629,64C628.6,70.4 626.5,74.5 626.7,78.3C626.9,82.1 627.6,84 630,86.7C632.4,89.4 637.3,92.4 641,94.6C644.7,96.8 648.6,98.8 652,100C655.4,101.2 657.9,102.1 661.2,102C664.6,101.9 668.6,99.5 672.3,99.2C676,98.9 679.6,99.2 683.3,100C687,100.8 690.9,102.5 694.3,103.8C697.7,105 700.7,105.7 703.5,107.5C706.3,109.3 708.8,112 710.9,114.8C713,117.5 714.6,121.2 716.4,124C718.2,126.8 719.8,128.9 721.9,131.4C724,133.9 726.5,137.2 729.3,138.8C732.1,140.3 735.1,140.9 738.5,140.6C741.9,140.3 746.1,137.5 749.5,136.9C752.9,136.3 756,136 758.7,136.9C761.5,137.8 763.9,140.2 766,142.4C768.1,144.6 769,148.7 771.5,149.8C774,150.9 777.6,149.3 780.7,149C783.8,148.7 787,149.1 790,148C793,146.9 796.6,144.2 799,142.4C801.4,140.6 803.1,138.7 804.6,136.9C806.1,135.1 805.9,133.6 808,131.4C810.1,129.2 814.3,126 817.4,124C820.5,122 823.5,120.6 826.6,119.5C829.7,118.4 832.7,117.8 835.8,117.6C838.9,117.4 842,117.7 845,118.5C848,119.3 851.5,121 854,122.2C856.5,123.4 857.2,124.1 859.7,125.9C862.2,127.7 865.9,131.1 868.9,133.2C871.9,135.3 875,137.2 878,138.8C881,140.3 883.8,141.9 887.2,142.4C890.6,142.9 894.9,142.1 898.3,141.5C901.7,140.9 905.2,139.8 907.5,138.8C909.8,137.7 911.4,136.5 912,135C912.6,133.5 912,133 911.1,129.6C910.2,126.2 907.9,119.7 906.5,114.8C905.1,109.9 904.1,104.6 902.9,100C901.7,95.4 900.6,91.6 899.2,87.3C897.8,83 896,78.4 894.6,74.4C893.2,70.4 892.1,69.1 890.9,63.4C889.7,57.7 930.9,43.9 887.2,40C843.6,36.1 672,36 629,40Z" fill="#FF8400"/>
<path d="M641,40C601.2,43.8 640.5,57.4 641,62.5C641.5,67.6 642.3,68.6 643.8,70.7C645.3,72.8 647.9,73.8 650.2,75.3C652.5,76.8 655.1,78.6 657.6,80C660.1,81.4 662.3,82.1 665,83.6C667.7,85.1 670.7,87.2 674,89C677.3,90.8 681.3,93.3 685,94.6C688.7,95.8 692.3,96.2 696,96.5C699.7,96.8 704.1,95.6 707.2,96.5C710.3,97.4 712.5,99.5 714.6,102C716.7,104.5 718.2,108.1 720,111.2C721.8,114.3 723.4,117.7 725.6,120.4C727.8,123.2 729.9,126.8 733,127.7C736.1,128.6 740.3,126.5 744,125.9C747.7,125.3 751.9,123.7 755,124C758.1,124.3 760.2,125.9 762.4,127.7C764.5,129.5 765.5,133.2 767.9,135C770.3,136.8 773.9,138.3 777,138.8C780.1,139.2 783.2,138.7 786.2,137.8C789.3,136.9 792.6,134.5 795.4,133.2C798.2,131.9 800.4,131.9 802.8,130C805.2,128.1 807,124.3 810,122C813,119.7 817.3,117.7 821,116C824.7,114.3 828.3,113 832,112C835.7,111 839.9,110.5 843,110C846.1,109.5 848.3,108.8 850.5,109.3C852.7,109.8 853.9,111.2 856,113C858.1,114.8 860.8,118 863.3,120.4C865.8,122.9 867.9,125.9 870.7,127.7C873.5,129.5 876.9,131.4 879.9,131.4C882.9,131.4 886.5,129.8 889,127.7C891.5,125.5 893.5,122.2 894.6,118.5C895.7,114.8 895.8,110.3 895.5,105.7C895.2,101.1 893.8,95.6 892.8,91C891.7,86.4 890.2,82.3 889,78C887.8,73.7 886.9,71.5 885.4,65.2C883.9,58.9 920.6,44.2 879.9,40C839.2,35.8 680.8,36.2 641,40Z" fill="#FF5F00"/>
<path d="M654.8,40C619.1,43.6 654,56.4 654.8,61.5C655.6,66.6 657.1,67.8 659.4,70.7C661.7,73.6 665.2,76.4 668.6,79C672,81.6 675.6,84.7 679.6,86.4C683.6,88.1 688.5,88.6 692.5,89C696.5,89.4 700,88.4 703.5,89C707,89.6 710.5,90.6 713.6,92.8C716.7,95 719.1,98.5 721.9,102C724.7,105.5 727.4,112.2 730.2,114C733,115.8 735.3,113.9 738.5,113C741.7,112.1 745.8,109.5 749.5,108.4C753.2,107.3 757.6,105.8 760.5,106.6C763.4,107.4 765.3,110.7 767,113C768.7,115.3 768.9,118.4 770.6,120.4C772.3,122.4 774.5,124.2 777,125C779.5,125.8 783,125.9 785.3,125C787.6,124.1 788.9,121 790.8,119.5C792.6,118 794.4,116.7 796.4,115.8C798.4,114.9 800.8,114.8 802.8,114C804.8,113.2 805.8,112.3 808.2,111.2C810.6,110.1 814.3,108.7 817.4,107.5C820.5,106.3 823.1,104.9 826.6,103.8C830.1,102.7 834.5,100.7 838.5,101C842.5,101.3 847.3,104.6 850.5,105.7C853.7,106.8 855.2,106 857.8,107.5C860.4,109 863.2,112.3 866,114.8C868.8,117.2 871.6,120.8 874.4,122.2C877.2,123.6 880.3,123.9 882.6,123C884.9,122.1 887.3,119.6 888.2,116.7C889.1,113.8 888.7,110 888.2,105.7C887.7,101.4 886.6,95.9 885.4,91C884.2,86.1 882.9,80.5 880.8,76.2C878.6,72 874.5,71.2 872.5,65.2C870.5,59.2 905.2,44.2 868.9,40C832.6,35.8 690.5,36.4 654.8,40Z" fill="#FF3200"/>
<path d="M664,40C649.1,43.8 663.1,57.1 664,62.5C664.9,67.9 666.9,69.8 669.5,72.6C672.1,75.3 675.8,77.5 679.6,79C683.4,80.5 687.9,81.6 692.5,81.8C697.1,82 702.9,79.8 707.2,80C711.5,80.2 714.8,81.5 718.2,82.7C721.6,83.9 724.3,85.5 727.4,87.3C730.5,89.1 732.9,92.8 736.6,93.7C740.3,94.6 746.9,94.8 749.5,92.8C752.1,90.8 751.6,86.7 752.2,81.8C752.8,76.9 753,70.4 753.2,63.4C753.4,56.4 768.1,43.9 753.2,40C738.3,36.1 678.9,36.2 664,40Z" fill="#FF0000"/>
<path d="M780.7,40C773.1,43.4 780.9,55.2 780.7,60.6C780.6,66 779.5,68.5 779.8,72.6C780.1,76.7 780.9,81.4 782.6,85.4C784.3,89.4 787.3,94.1 790,96.5C792.7,98.9 795.7,99.7 799,100C802.3,100.3 806.6,99.2 810,98.3C813.4,97.4 816.4,96.4 819.2,94.6C822,92.8 824.8,90.1 826.6,87.3C828.4,84.5 830,81.4 830.2,78C830.5,74.6 829,73.3 828.4,67C827.8,60.7 834.5,44.5 826.6,40C818.7,35.5 788.4,36.6 780.7,40Z" fill="#FF0000"/>
<path d="M852.3,70.7C853.7,69.5 856.9,67.3 859.7,67C862.5,66.7 866.5,67.1 868.9,68.9C871.3,70.7 872.9,74.3 874.4,78C875.9,81.7 877.2,87 878,91C878.8,95 879.5,99.4 879,102C878.5,104.6 877,106.9 875.3,106.6C873.6,106.3 871.2,102.6 868.9,100C866.6,97.4 864,94 861.5,91C859,88 855.7,84.6 854,81.8C852.3,79 851.7,76.2 851.4,74.4C851.1,72.6 850.9,71.9 852.3,70.7Z" fill="#FF0000"/>
<path d="M668,40C662.7,43.3 668.8,55.2 671,60C673.2,64.8 677.9,67.3 681.5,69C685.1,70.7 689.2,71.3 692.5,70C695.8,68.7 699.2,66 701,61C702.8,56 708.5,43.5 703,40C697.5,36.5 673.3,36.7 668,40Z" fill="#E6003C"/>
<path d="M794,89C794.3,87.3 796.9,83 799,82C801.1,81 804.1,82 806.4,82.7C808.7,83.4 812.2,85 812.8,86.4C813.4,87.8 811.7,90.1 810,91C808.3,91.9 804.9,91.8 802.7,92C800.5,92.2 798.5,92.5 797,92C795.5,91.5 793.7,90.7 794,89Z" fill="#E6003C"/>
<path d="M685,153.5C685,151.5 685.5,149.5 687,148C688.5,146.5 691.5,144.6 694.3,144.3C697,144 701.4,144.5 703.5,146C705.6,147.5 707.2,151 707.2,153.5C707.2,156 705.6,159.3 703.5,160.8C701.4,162.3 697,162.7 694.3,162.6C691.5,162.5 688.5,161.5 687,160C685.5,158.5 685,155.5 685,153.5Z" fill="#FFC800"/>
<path d="M913.9,148.9L920.3,140.6L924.9,148L919.4,153.5Z" fill="#FF8400"/>
<path d="M538.3,108.3C536.8,106.1 537.1,99.2 537.5,95C537.9,90.8 539,86.5 540.8,83.3C542.6,80.1 545.4,77.6 548.3,75.8C551.2,74 555.2,72.6 558.3,72.5C561.4,72.4 564.5,73.3 566.7,75C568.9,76.7 571,80 571.7,82.5C572.4,85 571.8,88.1 570.8,90C569.8,91.9 567.2,92 565.8,94C564.4,96 563.5,98.8 562.5,101.7C561.5,104.7 561.5,110.2 560,111.7C558.5,113.2 555.5,111.4 553.3,110.8C551.1,110.2 549.2,108.7 546.7,108.3C544.2,107.9 539.8,110.5 538.3,108.3Z" fill="#FFE100"/>
<path d="M958.7,266.7C959.2,263.8 961.6,259.3 965,257.2C968.4,255.1 975.5,252.4 979,254C982.5,255.6 985.7,261.4 985.7,266.7C985.7,272 981.6,283.3 979,285.7C976.4,288.1 972.6,282.9 969.8,281C966.9,279.1 963.8,277 961.9,274.6C960,272.2 958.2,269.6 958.7,266.7Z" fill="#FFFF00"/>
<g fill="none" stroke="#000" stroke-width="1.15" stroke-dasharray="1.1 1.9" shape-rendering="crispEdges">
<path d="M556,775C555.4,768.3 555.2,765.8 552.5,760C549.8,754.2 544.6,747.5 540,740C535.4,732.5 528.8,720.4 525,715C521.2,709.6 520.2,711.2 517.5,707.5C514.8,703.8 511.7,697.9 508.8,692.5C505.8,687.1 503.1,680.4 500,675C496.9,669.6 493.3,665.8 490,660C486.7,654.2 483.3,645.8 480,640C476.7,634.2 473.8,629.6 470,625C466.2,620.4 462.1,617.9 457.5,612.5C452.9,607.1 446.2,599.6 442.5,592.5C438.8,585.4 437.3,575.8 435,570C432.7,564.2 430.5,562.5 428.8,557.5C427,552.5 425.1,546.2 424.5,540C423.9,533.8 423.9,527.5 425,520C426.1,512.5 431.2,501.2 431.2,495C431.2,488.8 427.3,487.1 425,482.5C422.7,477.9 419.4,472.9 417.5,467.5C415.6,462.1 414.2,454.6 413.8,450C413.2,445.4 413.9,444.2 414.5,440C415.1,435.8 416,429.6 417.5,425C419,420.4 421.5,417.1 423.8,412.5C426,407.9 429,402.5 431.2,397.5C433.5,392.5 435.2,387.5 437.5,382.5C439.8,377.5 443.1,372.4 445,367.5C446.9,362.6 447.3,357.5 449,353.3C450.7,349.1 452.9,346.2 455,342.3C457.1,338.4 459.2,333.7 461.3,330C463.4,326.3 464.5,322.2 467.4,320.2C470.2,318.2 474.5,319.2 478.4,317.8C482.3,316.4 488.3,313.8 490.7,311.7C493.1,309.6 490.9,307.4 493,305C495.1,302.6 499.7,299.5 503,297C506.3,294.5 510,292.2 513,290C516,287.8 518.5,285.8 521,284C523.5,282.2 526.7,280.6 528,279C529.3,277.4 529.1,276.7 529,274.5C528.9,272.3 528.8,269 527.5,266C526.2,263 525.1,260.6 521,256.4C516.9,252.1 506.6,246.4 503,240.5C499.4,234.6 499.8,226.7 499.4,221C499,215.3 499,211.3 500.4,206.6C501.8,201.9 504.3,196.4 508,193C511.7,189.6 516.3,188.4 522.5,186.2C528.7,184.1 538.3,182.3 545,180C551.7,177.7 557.9,174.2 562.5,172.5C567.1,170.8 565.8,170 572.5,170C579.2,170 592.9,170.8 602.5,172.5C612.1,174.2 620.4,177.5 630,180C639.6,182.5 650,185 660,187.5C670,190 680.8,192.1 690,195C699.2,197.9 707.5,201.3 715,205C722.5,208.7 727.5,212 735,217C742.5,222 752.5,229.2 760,235C767.5,240.8 773.8,246.2 780,252C786.2,257.8 793.8,265.3 797.5,270C801.2,274.7 800.4,276.7 802.5,280C804.6,283.3 807.9,286.2 810,290C812.1,293.8 814,297.5 815,302.5C816,307.5 815.6,314.6 816.2,320C816.9,325.4 817.7,330.8 818.8,335C819.8,339.2 819.8,341.2 822.5,345C825.2,348.8 830.8,353.3 835,357.5C839.2,361.7 843.8,364.6 847.5,370C851.2,375.4 853.8,384.2 857.5,390C861.2,395.8 865.4,400.8 870,405C874.6,409.2 880,411.7 885,415C890,418.3 894.6,421.7 900,425C905.4,428.3 911.7,431.7 917.5,435C923.3,438.3 930,441.7 935,445C940,448.3 943.3,451.2 947.5,455C951.7,458.8 956.2,463.3 960,467.5C963.8,471.7 967.5,475.4 970,480C972.5,484.6 971.7,490.3 975,495C978.3,499.7 986.7,457.2 990,508C993.3,558.8 1067.3,751.3 995,800C922.7,848.7 629.2,804.2 556,800C482.8,795.8 556.6,781.7 556,775Z"/>
<path d="M485.5,387.5C485.5,385 486.8,382.2 490,380C493.2,377.8 499.6,376.1 505,374C510.4,371.9 516.7,369.8 522.5,367.5C528.3,365.2 536,363.3 540,360C544,356.7 545.6,352.9 546.2,347.5C546.9,342.1 544.6,334.2 543.8,327.5C542.9,320.8 540,312.1 541,307.5C542,302.9 546,302.3 550,300C554,297.7 558.3,296.2 565,293.8C571.7,291.2 582.5,286.8 590,285C597.5,283.2 603.3,283.2 610,283C616.7,282.8 625.3,284.2 630,284C634.7,283.8 636.3,283.8 638,281.7C639.7,279.6 640.8,274.5 640,271.7C639.2,268.9 637.5,267.5 633,265C628.5,262.5 619,259.2 613,256.7C607,254.2 601.1,251.7 596.7,250C592.3,248.3 590.7,248.4 586.7,246.7C582.8,245 577.5,242.3 573,240C568.5,237.7 563.8,235.3 560,233C556.2,230.7 551.7,228.5 550,226C548.3,223.5 549.4,221.1 550,218C550.6,214.9 551.7,210.5 553.8,207.5C555.8,204.5 558.8,201.5 562.5,200C566.2,198.5 571.7,197.9 576.2,198.8C580.8,199.6 585.6,202.9 590,205C594.4,207.1 598.7,211.2 602.5,211.2C606.3,211.2 609,206.6 613,205C617,203.4 621.7,201.7 626.7,201.7C631.7,201.7 637,202.5 643,205C649,207.5 656.3,213.1 663,216.7C669.7,220.3 676.8,223.1 683,226.7C689.2,230.2 693.8,233.8 700,238C706.2,242.2 714.2,247.8 720,252C725.8,256.2 730.8,260 735,263C739.2,266 740.8,265.1 745,270C749.2,274.9 755.4,285.8 760,292.5C764.6,299.2 768.8,304.2 772.5,310C776.2,315.8 779.2,320.4 782.5,327.5C785.8,334.6 789.2,344.6 792.5,352.5C795.8,360.4 799.2,367.5 802.5,375C805.8,382.5 809.2,390 812.5,397.5C815.8,405 820.2,412.1 822.5,420C824.8,427.9 825.4,436.7 826.2,445C827.1,453.3 827.1,461.7 827.5,470C827.9,478.3 828.1,489.6 828.8,495C829.4,500.4 830.2,499.2 831.2,502.5C832.3,505.8 833.1,510.4 835,515C836.9,519.6 839.6,525.2 842.5,530C845.4,534.8 848.8,539.6 852.5,543.8C856.2,547.9 860.6,552.1 865,555C869.4,557.9 875,561.9 878.8,561.2C882.5,560.6 885.2,552.3 887.5,551.2C889.8,550.2 890.4,553.3 892.5,555C894.6,556.7 896.2,559.4 900,561.2C903.8,563.1 911.9,563.1 915,566.2C918.1,569.4 917.7,575.2 918.8,580C919.8,584.8 920.2,593.3 921.2,595C922.3,596.7 922.7,590.8 925,590C927.3,589.2 931.9,591.7 935,590C938.1,588.3 941.2,580.4 943.8,580C946.2,579.6 948.1,585 950,587.5C951.9,590 954.6,591.2 955,595C955.4,598.8 951.7,606.7 952.5,610C953.3,613.3 957.1,612.9 960,615C962.9,617.1 968.1,619.6 970,622.5C971.9,625.4 972.1,628.8 971.2,632.5C970.4,636.2 968.1,641.5 965,645C961.9,648.5 957.5,651.7 952.5,653.8C947.5,655.8 940.2,656.5 935,657.5C929.8,658.5 924.6,657.9 921.2,660C917.9,662.1 916.7,666.7 915,670C913.3,673.3 911.2,677.1 911.2,680C911.2,682.9 914.8,685 915,687.5C915.2,690 915.8,694.2 912.5,695C909.2,695.8 900.4,694.2 895,692.5C889.6,690.8 883.8,687.9 880,685C876.2,682.1 874.6,678.8 872.5,675C870.4,671.2 870,665.8 867.5,662.5C865,659.2 861.7,656.9 857.5,655C853.3,653.1 847.5,651.5 842.5,651.2C837.5,651 832.1,651.9 827.5,653.8C822.9,655.6 817.9,659 815,662.5C812.1,666 811.1,670.7 810,675C808.9,679.3 809.1,684.3 808.5,688.2C807.9,692.1 807.4,695 806.5,698.4C805.6,701.8 804.9,706.6 803.4,708.6C801.9,710.6 800,709.9 797.3,710.6C794.6,711.3 790.9,712 787.1,712.7C783.4,713.4 778,713.5 774.8,714.7C771.6,715.9 769.7,717.4 767.7,719.8C765.7,722.2 763.6,725.8 762.6,729C761.6,732.2 762.3,735.8 761.6,739.2C760.9,742.6 760.4,746.5 758.5,749.5C756.6,752.5 753,755.6 750.3,757.2C747.6,758.8 745.9,759 742.1,759.3C738.4,759.5 731.9,759.5 727.8,758.7C723.7,757.9 720.6,756.1 717.6,754.6C714.6,753.1 711.5,751.7 709.5,749.5C707.5,747.3 708.1,743.5 705.4,741.3C702.7,739.1 697.2,738.4 693.1,736.2C689,734 685.3,730 680.9,728C676.5,726 671.4,725.4 666.6,723.9C661.8,722.4 656.7,720.7 652.3,718.8C647.9,716.9 642.9,715 640,712.7C637.1,710.4 638.3,707.3 635,705C631.7,702.7 625.4,700.4 620,698.8C614.6,697.1 607.9,696.5 602.5,695C597.1,693.5 592.1,692.5 587.5,690C582.9,687.5 578.3,683.3 575,680C571.7,676.7 570.4,673.8 567.5,670C564.6,666.2 559.8,662.1 557.5,657.5C555.2,652.9 554.6,647.5 553.8,642.5C552.9,637.5 551.9,632.5 552.5,627.5C553.1,622.5 555.4,617.1 557.5,612.5C559.6,607.9 563,605 565,600C567,595 568.5,588.3 569.5,582.5C570.5,576.7 571.2,571.2 571.2,565C571.3,558.8 570.8,551.2 570,545C569.2,538.8 567.5,533.3 566.2,527.5C565,521.7 564.2,515.4 562.5,510C560.8,504.6 558.3,500.4 556.2,495C554.2,489.6 551.9,483.8 550,477.5C548.1,471.2 547.5,464.2 545,457.5C542.5,450.8 540,444.2 535,437.5C530,430.8 522.5,424.6 515,417.5C507.5,410.4 494.9,400 490,395C485.1,390 485.5,390 485.5,387.5Z"/>
<path d="M658.8,270L662.5,257.5L672.5,253.8L687.5,252.5L702.5,257.5L715,265L727.5,272L737,283L747.5,297.5L760,312.5L772.5,330L781.2,350L788.8,367.5L793.8,385L800,405L806.2,425L808.8,445L809.5,470L812.5,495L815,495L818.8,506.2L821.2,520L827.5,530L835,542.5L845,557.5L857.5,568.8L870,576.2L885,582.5L897.5,590L907.5,602.5L912.5,617.5L913.8,630L907.5,642.5L897.5,657.5L892.5,668.8L887.5,660L875,652.5L862.5,642.5L852.5,635L835,634.5L810,636.2L788.8,635L785,640L781.2,650L786.2,656.2L793.8,665L794.5,677.5L791.2,685L782.5,690L772.5,687.5L762.5,680L753.8,665L747.5,647.5L742.5,638.8L735,632.5L720,625L702.5,626.2L687.5,628.8L678.8,620L678.8,610L676.2,600L670,590L662.5,580L655,567.5L650,555L642.5,546.2L630,541.2L620,535L610,520L600,507.5L593.8,495L592.5,495L587.5,477.5L583.8,460L576.2,442.5L562.5,430L567.5,422.5L565,410L552.5,401.2L530,400L531.2,383.8L542.5,385L550,380L556.2,362.5L558.8,347.5L557.5,335L559.5,320L565,316L576,315L585,318.8L592.5,313.8L595,307.5L602.5,300L615,291L641,286L650,277.5Z"/>
<path d="M660,430L673.8,421.2L686.2,428.8L675,438Z"/>
<path d="M802.5,522L817.5,508.5L818.7,519L808.7,527.5Z"/>
<path d="M605,220C606.5,218.1 610.8,216 615,215C619.2,214 625.8,213.3 630,213.8C634.2,214.2 637.5,215.8 640,217.5C642.5,219.2 644.6,220.8 645,223.8C645.4,226.7 642.1,232.5 642.5,235C642.9,237.5 648.1,237.9 647.5,238.8C646.9,239.6 642.5,240.4 638.8,240C635,239.6 629.4,237.7 625,236.2C620.6,234.8 615.6,232.9 612.5,231.2C609.4,229.6 607.5,228.1 606.2,226.2C605,224.4 603.5,221.9 605,220Z"/>
<path d="M611.2,601.2C613.8,601.2 617.3,608.5 620,612.5C622.7,616.5 625,620.6 627.5,625C630,629.4 634.2,635 635,638.8C635.8,642.5 634.2,644.8 632.5,647.5C630.8,650.2 628.3,654.2 625,655C621.7,655.8 616.2,654.2 612.5,652.5C608.8,650.8 605,647.5 602.5,645C600,642.5 598.1,640.8 597.5,637.5C596.9,634.2 597.5,629.2 598.8,625C600,620.8 602.9,616.5 605,612.5C607.1,608.5 608.8,601.2 611.2,601.2Z"/>
<path d="M735,748.4C735,747.6 734.8,745.7 737,745C739.2,744.3 746,743.8 748.3,744.4C750.6,745 750.7,747.5 750.7,748.4C750.7,749.3 750.6,749.6 748.3,749.9C746,750.1 739.2,750.1 737,749.9C734.8,749.6 735,749.2 735,748.4Z"/>
<path d="M745.2,716.4L750.3,713.1L764.6,715.8L755.4,723.9Z"/>
<path d="M842.5,472.5L852.5,467.5L870,471.2L851,477.5Z"/>
<path d="M918,765C910.2,762.8 919.1,756.6 921,752C922.9,747.4 926.8,740.8 929.4,737.5C932,734.2 933.3,732.8 936.5,732.5C939.7,732.2 945.5,733.6 948.7,735.5C952,737.4 953.6,741.1 956,744C958.4,746.9 961,749.3 963,752.8C965,756.3 975.5,763 968,765C960.5,767 925.8,767.2 918,765Z"/>
<path d="M836,727C836.3,722.5 844.3,717.7 850,715C855.7,712.3 863.3,711.3 870,711C876.7,710.7 884,711 890,713C896,715 905.2,719.7 906,723C906.8,726.3 899.3,729.8 895,733C890.7,736.2 885.5,739.5 880,742C874.5,744.5 867.3,748 862,748C856.7,748 852.3,745.5 848,742C843.7,738.5 835.7,731.5 836,727Z"/>
<path d="M985,694C983.3,690.2 977.5,695.2 975,697C972.5,698.8 970.5,702.3 970,705C969.5,707.7 970.5,710.8 972,713C973.5,715.2 976.8,716.8 979,718C981.2,719.2 984,724 985,720C986,716 986.7,697.8 985,694Z"/>
<path d="M60,395C59.8,392.1 60,390.4 62.5,387.5C65,384.6 70.8,380.4 75,377.5C79.2,374.6 83.3,372.1 87.5,370C91.7,367.9 95.4,366.2 100,365C104.6,363.8 110,364.2 115,362.5C120,360.8 125,356.7 130,355C135,353.3 140,352.3 145,352.5C150,352.7 155,354.6 160,356.2C165,357.9 170.8,360.8 175,362.5C179.2,364.2 181.2,365.8 185,366.2C188.8,366.7 195,364 197.5,365C200,366 200.8,370 200,372.5C199.2,375 191.2,379.2 192.5,380C193.8,380.8 202.9,379.6 207.5,377.5C212.1,375.4 216.2,370.8 220,367.5C223.8,364.2 225.9,360.4 230,357.5C234.1,354.6 239.8,350.8 244.8,350C249.8,349.2 254.5,351.7 260,352.5C265.5,353.3 271.7,353.3 277.5,355C283.3,356.7 290,359.2 295,362.5C300,365.8 304.8,370.8 307.5,375C310.2,379.2 311.7,382.9 311.2,387.5C310.8,392.1 308.1,398.5 305,402.5C301.9,406.5 297.1,409.6 292.5,411.2C287.9,412.9 282.1,413.1 277.5,412.5C272.9,411.9 267.9,410.4 265,407.5C262.1,404.6 262.1,398.3 260,395C257.9,391.7 255,389.2 252.5,387.5C250,385.8 247.1,382.9 245,385C242.9,387.1 242.5,394.2 240,400C237.5,405.8 233.3,414.2 230,420C226.7,425.8 224.2,430.8 220,435C215.8,439.2 210,441.7 205,445C200,448.3 195,452.5 190,455C185,457.5 180,459.6 175,460C170,460.4 163.3,460 160,457.5C156.7,455 157.1,447.9 155,445C152.9,442.1 150,440.4 147.5,440C145,439.6 142.1,440 140,442.5C137.9,445 137.5,452.5 135,455C132.5,457.5 129.2,457.9 125,457.5C120.8,457.1 115,454.2 110,452.5C105,450.8 100,447.9 95,447.5C90,447.1 85.4,449.4 80,450C74.6,450.6 67.5,452.1 62.5,451.2C57.5,450.4 53.8,448.5 50,445C46.2,441.5 40,433.3 40,430C40,426.7 46.2,427.1 50,425C53.8,422.9 60.2,420.8 62.5,417.5C64.8,414.2 64.2,408.8 63.8,405C63.3,401.2 60.2,397.9 60,395Z"/>
<path d="M155,478C155.8,474.3 160.8,471.7 165,470C169.2,468.3 175.5,467.7 180,468C184.5,468.3 189.5,469.7 192,472C194.5,474.3 192.8,479.8 195,482C197.2,484.2 200.8,485.7 205,485C209.2,484.3 215.5,481.2 220,478C224.5,474.8 228,468 232,466C236,464 241.7,463.7 244,466C246.3,468.3 246.7,475.7 246,480C245.3,484.3 243.5,489 240,492C236.5,495 230.8,496.7 225,498C219.2,499.3 209.2,497.7 205,500C200.8,502.3 202.5,508.7 200,512C197.5,515.3 193.7,519.5 190,520C186.3,520.5 181,518.3 178,515C175,511.7 175,503.8 172,500C169,496.2 162.8,495.7 160,492C157.2,488.3 154.2,481.7 155,478Z"/>
<path d="M46.2,375C47.1,373.3 50.6,370.4 53.8,370C56.9,369.6 63.8,370.6 65,372.5C66.2,374.4 62.7,379.2 61.2,381.2C59.8,383.3 58.3,385.2 56.2,385C54.2,384.8 50.4,381.7 48.8,380C47.1,378.3 45.4,376.7 46.2,375Z"/>
<path d="M-7.5,291.2C-4.6,281.9 5.4,287.3 10,285C14.6,282.7 17.7,276.7 20,277.5C22.3,278.3 22.1,285.4 23.8,290C25.4,294.6 28.5,300 30,305C31.5,310 32.9,315 32.5,320C32.1,325 30,331.2 27.5,335C25,338.8 23.3,341.5 17.5,342.5C11.7,343.5 -3.3,349.8 -7.5,341.2C-11.7,332.7 -10.4,300.6 -7.5,291.2Z"/>
<path d="M-7.5,400C-4.6,392.5 5.8,406.7 10,410C14.2,413.3 15,416.2 17.5,420C20,423.8 22.1,428.3 25,432.5C27.9,436.7 32.9,441.2 35,445C37.1,448.8 38.8,452.5 37.5,455C36.2,457.5 31.2,459.6 27.5,460C23.8,460.4 20.8,458.3 15,457.5C9.2,456.7 -3.8,464.6 -7.5,455C-11.2,445.4 -10.4,407.5 -7.5,400Z"/>
<path d="M41.2,467.5C41.2,464.6 44.2,462.5 46.2,462.5C48.3,462.5 51.2,465 53.8,467.5C56.2,470 59.8,474.6 61.2,477.5C62.7,480.4 63.8,483.3 62.5,485C61.2,486.7 56.5,488.3 53.8,487.5C51,486.7 48.3,483.3 46.2,480C44.2,476.7 41.2,470.4 41.2,467.5Z"/>
<path d="M7.5,470C8.8,466.5 12.3,464.2 15,463.8C17.7,463.3 21.7,464.8 23.8,467.5C25.8,470.2 26,475.5 27.5,480C29,484.5 31.2,490.6 32.5,494.8C33.8,498.9 39.6,503.3 35,505C30.4,506.7 9.6,508.3 5,505C0.4,501.7 7.1,490.8 7.5,485C7.9,479.2 6.2,473.5 7.5,470Z"/>
<path d="M-8,40C-12.7,43.2 -11.5,56.2 -8,59C-4.5,61.8 8.7,58.1 13,57C17.3,55.9 16.8,55.3 18,52.5C19.2,49.7 24.3,42.1 20,40C15.7,37.9 -3.3,36.8 -8,40Z"/>
<path d="M161.2,155C163,153.5 168.5,152.2 172.5,152C176.5,151.8 182.1,152.8 185,153.8C187.9,154.7 190.2,155.2 190,157.5C189.8,159.8 186.2,165 183.8,167.5C181.2,170 178.1,172.3 175,172.5C171.9,172.7 167.2,170.6 165,168.8C162.8,166.9 162.6,163.5 162,161.2C161.4,159 159.5,156.5 161.2,155Z"/>
<path d="M193.1,202.2C193.1,198.4 194,196 194.9,191.6C195.8,187.1 198.1,180.9 198.4,175.6C198.7,170.2 195.5,163 196.7,159.6C197.9,156.1 201.7,156 205.6,155.1C209.4,154.2 215.6,153.2 219.8,154.2C223.9,155.3 227.8,158.7 230.4,161.3C233.1,164 234.4,167 235.8,170.2C237.1,173.5 237.6,177 238.4,180.9C239.3,184.7 240.2,189.2 241.1,193.3C242,197.5 243.2,201.6 243.8,205.8C244.4,209.9 245.1,214.4 244.7,218.2C244.2,222.1 242.6,225.3 241.1,228.9C239.6,232.4 237.9,236.3 235.8,239.6C233.7,242.8 231.3,245.5 228.7,248.4C226,251.4 222.7,254.7 219.8,257.3C216.8,260 213.7,262.1 210.9,264.4C208.1,266.8 204.7,271.9 202.9,271.6C201.1,271.3 201.1,266.8 200.2,262.7C199.3,258.5 198.1,252.3 197.6,246.7C197,241 197.1,234.2 196.7,228.9C196.2,223.6 195.5,219.1 194.9,214.7C194.3,210.2 193.1,206.1 193.1,202.2Z"/>
<path d="M244.8,87.5C240.2,86.5 237.7,87.5 235,88.8C232.3,90 229.4,92.3 228.8,95C228.1,97.7 229.8,102.1 231.2,105C232.7,107.9 235.2,110.8 237.5,112.5C239.8,114.2 241,115 244.8,115C248.5,115 257,115.8 260,112.5C263,109.2 265,99.2 262.5,95C260,90.8 249.3,88.5 244.8,87.5Z"/>
<path d="M265,120C266.5,116.9 269.2,114.6 272.5,113.8C275.8,112.9 281.7,113.1 285,115C288.3,116.9 291.7,120.8 292.5,125C293.3,129.2 292.1,135.8 290,140C287.9,144.2 283.5,149.2 280,150C276.5,150.8 271.5,147.9 268.8,145C266,142.1 264.4,136.7 263.8,132.5C263.1,128.3 263.5,123.1 265,120Z"/>
<path d="M48,40C42.7,42.2 48.5,49.4 48,53C47.5,56.6 46.4,59.8 44.7,61.6C43,63.4 40.1,63.4 38,64C35.9,64.6 36.2,63.1 32,65.4C27.8,67.7 16.9,75.1 12.8,78C8.8,80.9 8.8,79.6 7.7,83C6.6,86.4 6.7,93 6.4,98.6C6.1,104.2 6.2,111.4 5.7,116.5C5.2,121.6 5.5,126.1 3.2,129C0.9,131.9 -6.1,126.2 -8,134C-9.9,141.8 -12.7,170.1 -8,176C-3.3,181.9 14.8,171.1 20.4,169.2C26,167.3 23.1,166.3 25.5,164.7C27.9,163.1 32.1,160.2 34.5,159.6C36.9,159 37.9,159.4 39.6,160.9C41.3,162.4 43.4,166.4 44.7,168.5C46,170.6 46.2,172.1 47.3,173.6C48.3,175.1 50.1,175.8 51,177.5C51.9,179.2 52.7,181.6 52.4,183.9C52.1,186.2 50,188.9 49.2,191.5C48.5,194.1 47.9,196.2 47.9,199.2C47.9,202.2 48.9,205.9 49.2,209.4C49.6,212.9 48.9,214.9 50,220C51.1,225.1 54.2,234.6 56,240C57.8,245.4 59,248.2 61,252.5C63,256.8 65.5,262.6 68,266C70.5,269.4 73,271.8 76,273C79,274.2 83.2,274.2 86,273C88.8,271.8 92.2,269.8 93,266C93.8,262.2 92.3,255.2 91,250C89.7,244.8 87.7,239.6 85,235C82.3,230.4 77.7,226.8 75,222.5C72.3,218.2 70.7,212.9 69,209.4C67.3,205.9 66.2,204.7 65.1,201.7C64,198.7 63.2,194.9 62.6,191.5C62,188.1 61.4,184.3 61.3,181.3C61.2,178.3 61.4,175.9 62,173.6C62.6,171.3 64.8,169.2 65.1,167.3C65.4,165.4 64.8,163.7 63.9,162C63,160.3 61.7,157.8 60,157C58.3,156.2 55.5,157.6 53.6,157C51.7,156.4 49.8,154.9 48.5,153.2C47.2,151.5 45.8,149.2 46,146.8C46.2,144.4 48.3,141.1 50,139C51.7,136.9 54.5,135.8 56.2,134.4C57.9,133 57.9,132.1 60,130.6C62.1,129.1 66.4,127.6 69,125.5C71.6,123.4 73.5,121.6 75.4,117.8C77.3,114 79.3,107.6 80.5,102.5C81.7,97.4 82.4,92.3 82.4,87C82.4,81.7 80.9,75.8 80.5,70.5C80.1,65.2 79.9,60.1 79.8,55C79.7,49.9 85.1,42.5 79.8,40C74.5,37.5 53.3,37.8 48,40Z"/>
<path d="M30.7,83.3C32.7,82.3 34.9,83 38.3,84C41.7,85 47.6,87.2 51,89C54.4,90.8 56.7,92.8 58.7,94.8C60.7,96.8 63.2,99.1 63.2,101.2C63.2,103.3 60.5,105.5 58.7,107.6C56.9,109.7 57.3,111.2 52.4,114C47.5,116.8 33.9,123.6 29.4,124.2C24.9,124.8 26.6,120.8 25.5,117.8C24.4,114.8 23.4,109.7 23,106.3C22.6,102.9 22.5,100.2 23,97.4C23.5,94.6 24.9,92.1 26.2,89.7C27.5,87.3 28.7,84.2 30.7,83.3Z"/>
<path d="M135,85C136.9,82.2 141,81.8 143.8,82C146.5,82.2 149.8,83.5 151.2,86.2C152.7,89 152.7,95 152.5,98.8C152.3,102.5 151.5,106.2 150,108.8C148.5,111.2 146,113.5 143.8,113.8C141.5,114 138.1,112.5 136.2,110C134.4,107.5 132.7,102.9 132.5,98.8C132.3,94.6 133.1,87.8 135,85Z"/>
<path d="M185,83.8C188.2,82.5 193.8,81.9 197.5,82.5C201.2,83.1 205.6,84.6 207.5,87.5C209.4,90.4 209.4,96.2 208.8,100C208.1,103.8 206,107.5 203.8,110C201.5,112.5 198.1,114.8 195,115C191.9,115.2 187.9,113.8 185,111.2C182.1,108.8 178.7,103.5 177.5,100C176.3,96.5 176.8,92.7 178,90C179.2,87.3 181.8,85 185,83.8Z"/>
<path d="M117.5,137.5C119.2,134.8 122.1,132.7 125,131.2C127.9,129.8 131.9,128.3 135,128.8C138.1,129.2 142.5,132.1 143.8,133.8C145,135.4 144.4,137.1 142.5,138.8C140.6,140.4 135.4,141.7 132.5,143.8C129.6,145.8 127.3,149.6 125,151.2C122.7,152.9 120.4,154.4 118.8,153.8C117.1,153.1 115.2,150.2 115,147.5C114.8,144.8 115.8,140.2 117.5,137.5Z"/>
<path d="M155,185C155.4,183.1 160.4,181.2 162.5,181.2C164.6,181.2 167.3,182.7 167.5,185C167.7,187.3 165,193.8 163.8,195C162.5,196.2 161.5,194.2 160,192.5C158.5,190.8 154.6,186.9 155,185Z"/>
<path d="M212.5,40C179.9,43.3 211.7,55 212.5,60C213.3,65 215,67.7 217.5,70C220,72.3 223.8,73.3 227.5,74C231.2,74.7 236.2,74 240,74C243.8,74 246.7,73.4 250,74C253.3,74.6 256.7,76.4 260,77.5C263.3,78.6 267.5,79.3 270,80.8C272.5,82.3 272.8,84.3 275,86.7C277.2,89.1 280.2,92.5 283.3,95C286.4,97.5 290,99.8 293.3,101.7C296.6,103.7 300.5,104.8 303.3,106.7C306.1,108.6 309.4,110.5 310,113.3C310.6,116.1 308.1,120.2 306.7,123.3C305.3,126.4 303.4,128.6 301.7,131.7C300,134.8 298.9,138.4 296.7,141.7C294.5,145 291.1,148.9 288.3,151.7C285.5,154.5 282.8,156.1 280,158.3C277.2,160.5 275.4,163.7 271.7,165C268,166.3 261.4,165.2 258,166C254.6,166.8 252,166.9 251,170C250,173.1 251.4,179.6 251.8,184.4C252.2,189.2 253.2,194.3 253.6,198.7C254,203.1 255,207.2 254.4,211C253.8,214.8 251.6,218.2 250,221.8C248.4,225.4 245.9,228.9 244.7,232.4C243.5,235.9 242.6,239.7 242.9,243C243.2,246.3 244.6,251.4 246.4,252C248.2,252.6 250.8,248.8 253.5,246.7C256.2,244.6 259.1,242 262.4,239.6C265.6,237.2 269.4,233.9 273,232.4C276.6,230.9 280.2,230.7 283.8,230.7C287.4,230.7 290.9,231.2 294.4,232.4C297.9,233.6 301.7,235.4 305,237.8C308.3,240.2 311.9,243.7 314,246.7C316.1,249.7 316.3,252.5 317.6,255.6C318.9,258.6 319.9,261.8 322,265C324.1,268.2 326.7,272.3 330,275C333.3,277.7 337,279.5 342,281C347,282.5 353.7,283.3 360,284C366.3,284.7 373.3,285 380,285C386.7,285 393.3,284.5 400,284C406.7,283.5 414.2,283.2 420,282C425.8,280.8 432,279.3 435,277C438,274.7 438.2,271.2 438,268C437.8,264.8 435.7,261 434,258C432.3,255 429.7,253 428,250C426.3,247 424.8,243.7 424,240C423.2,236.3 422.7,231.7 423,228C423.3,224.3 424.5,221.3 426,218C427.5,214.7 430.2,210.7 432,208C433.8,205.3 434.8,203.9 436.7,201.7C438.6,199.5 441.1,197.5 443.3,195C445.5,192.5 447.5,189.8 450,186.7C452.5,183.6 455.5,179.8 458.3,176.7C461.1,173.6 464.2,170.8 466.7,168.3C469.2,165.8 472.8,163.9 473.3,161.7C473.9,159.5 471.2,156.9 470,155C468.8,153.1 468.3,150.3 465.8,150C463.3,149.7 458.5,152.2 455,153.3C451.5,154.4 448.1,155 445,156.7C441.9,158.4 439.2,160.8 436.7,163.3C434.2,165.8 432.1,168.4 430,171.7C427.9,175 426.3,179.1 424,183C421.7,186.9 419.2,191.7 416,195C412.8,198.3 409,200.5 405,203C401,205.5 396.5,208.2 392,210C387.5,211.8 382.5,214 378,214C373.5,214 368,212.3 365,210C362,207.7 360.7,203.7 360,200C359.3,196.3 360.2,191.7 361,188C361.8,184.3 363.2,181 365,178C366.8,175 369.3,172 372,170C374.7,168 378.3,167.4 381,166C383.7,164.6 387.3,163.4 388,161.7C388.7,159.9 387.4,156.9 385,155.5C382.6,154.1 376.8,153.9 373.3,153C369.8,152.1 366.6,150.8 364,150C361.4,149.2 359.2,149.7 358,148C356.8,146.3 356.4,143.8 356.7,140C357,136.2 358.3,129.7 360,125C361.7,120.3 363.6,115.9 366.7,111.7C369.8,107.5 374.4,103.3 378.3,100C382.2,96.7 386.4,93.9 390,91.7C393.6,89.5 397.5,89.5 400,86.7C402.5,83.9 403.7,79.5 405,75C406.3,70.5 407.5,65.8 408,60C408.5,54.2 440.6,43.3 408,40C375.4,36.7 245.1,36.7 212.5,40Z"/>
<path d="M296.7,40C288.4,43.8 296.1,57.2 296.7,62.5C297.2,67.8 298.1,68.8 300,71.7C301.9,74.6 305.2,77.8 308.3,80C311.4,82.2 315.5,84 318.3,85C321.1,86 322.8,86.3 325,85.8C327.2,85.2 329.2,83.8 331.7,81.7C334.2,79.6 337.5,76.4 340,73.3C342.5,70.2 345.6,68.8 346.7,63.3C347.8,57.8 355,43.9 346.7,40C338.4,36.1 305,36.2 296.7,40Z"/>
<path d="M311,40C307,44 310.2,59.4 312,64C313.8,68.6 318.2,67.2 322,67.5C325.8,67.8 332.7,70.6 335,66C337.3,61.4 340,44.3 336,40C332,35.7 315,36 311,40Z"/>
<path d="M393.2,176.2C392.1,173.4 395.1,166.7 398.3,162.2C401.5,157.7 407.5,153.2 412.4,149.4C417.3,145.6 422.6,142.2 427.7,139.2C432.8,136.2 437.9,134.1 443,131.5C448.1,128.9 453.7,125.6 458.4,123.9C463.1,122.2 468.1,120.5 471.1,121.3C474.1,122.1 476.2,125.6 476.2,129C476.2,132.4 474.5,137.9 471.1,141.7C467.7,145.5 460.5,149 455.8,152C451.1,155 446.8,156.6 443,159.6C439.2,162.6 436.6,167 432.8,169.8C429,172.6 424.7,174.7 420,176.2C415.3,177.7 409.2,178.8 404.7,178.8C400.2,178.8 394.3,179 393.2,176.2Z"/>
<path d="M410,132C410.3,129.8 412.2,124.7 414,122C415.8,119.3 419.4,116.3 421,116C422.6,115.7 424,117.7 423.5,120C423,122.3 419.9,127.5 418,130C416.1,132.5 413.3,134.7 412,135C410.7,135.3 409.7,134.2 410,132Z"/>
<path d="M433,108C432.8,106 434,100.8 435,99C436,97.2 438.2,96.7 439,97.5C439.8,98.3 440,101.8 439.5,104C439,106.2 437.1,110.3 436,111C434.9,111.7 433.2,110 433,108Z"/>
<path d="M391.2,105C390.4,102.3 392.7,95.4 395,92.5C397.3,89.6 401.5,87.9 405,87.5C408.5,87.1 414.2,88.1 416.2,90C418.3,91.9 418.5,96 417.5,98.8C416.5,101.5 412.9,104.6 410,106.2C407.1,107.9 403.1,109 400,108.8C396.9,108.5 392.1,107.7 391.2,105Z"/>
<path d="M477,103C479.7,100 485.9,98 490,96.7C494.1,95.4 497.9,95 501.7,95C505.5,95 509.4,95.6 513,96.7C516.5,97.8 520.2,99.8 523,101.7C525.8,103.6 527.7,105.8 530,108.3C532.3,110.8 535.9,113.6 536.7,116.7C537.5,119.8 536.5,124 535,126.7C533.5,129.4 530,130.8 528,133C526,135.2 524.6,138.3 523.3,140C522,141.7 523,141.9 520,143.3C517,144.7 509.4,146.9 505,148.3C500.6,149.7 497.2,150.7 493.3,151.7C489.4,152.7 484.3,154.3 481.7,154.2C479.1,154 478.6,152.2 477.5,150.8C476.4,149.4 475.8,149.3 475,145.8C474.2,142.3 473.2,135.1 473,130C472.8,124.9 473.3,119.5 474,115C474.7,110.5 474.3,106 477,103Z"/>
<path d="M495,121.7C495,118.3 496.4,115.4 498.3,113.3C500.3,111.2 503.6,109.4 506.7,109.2C509.7,108.9 513.6,110.1 516.7,111.7C519.7,113.2 522.8,115.8 525,118.3C527.2,120.8 530,124.2 530,126.7C530,129.2 527.5,131.8 525,133.3C522.5,134.9 518.3,135.1 515,135.8C511.7,136.5 507.8,137.9 505,137.5C502.2,137.1 500,136 498.3,133.3C496.7,130.7 495,125 495,121.7Z"/>
<path d="M480,63C482.7,62.3 490,62.5 492,64C494,65.5 493,69.8 492,72C491,74.2 488.3,76.3 486,77C483.7,77.7 479.7,77.5 478,76C476.3,74.5 475.7,70.2 476,68C476.3,65.8 477.3,63.7 480,63Z"/>
<path d="M433.3,178.3C433.4,175.8 435,171.8 436.7,170C438.4,168.2 441.2,167.4 443.3,167.5C445.4,167.6 447.9,169.1 449.2,170.8C450.4,172.5 451.2,175.3 450.8,177.5C450.4,179.7 448.5,182.4 446.7,184.2C444.9,186 441.8,188.2 440,188.3C438.2,188.4 436.9,186.7 435.8,185C434.7,183.3 433.2,180.8 433.3,178.3Z"/>
<path d="M350,40C341.3,43.9 350.6,57.5 350,63.3C349.4,69.1 347.8,71.1 346.7,75C345.6,78.9 345.5,81.2 343.3,86.7C341.1,92.2 336.6,103 333.3,108.3C330,113.6 326.6,114.7 323.3,118.3C320,121.9 316.6,126.1 313.3,130C310,133.9 306.6,138.1 303.3,141.7C300,145.3 296.6,148.4 293.3,151.7C290,155 286.2,158.8 283.3,161.7C280.4,164.6 278.3,167.3 275.8,169.2C273.3,171.1 270.4,171 268.3,173.3C266.2,175.7 264.4,179.7 263.3,183.3C262.2,186.9 262,192.4 261.7,195C261.4,197.6 261.2,196 261.6,198.7C262,201.4 262.6,207.9 264.2,211C265.8,214.1 268,216.1 271.3,217.3C274.6,218.5 280,218.6 283.8,218.2C287.6,217.8 290.9,215.9 294.4,214.7C297.9,213.5 302,211 305,211C308,211 310.1,212.9 312.2,214.7C314.3,216.5 316.1,218.9 317.6,221.8C319.1,224.8 319.4,229 321,232.4C322.6,235.8 324.8,238.7 327.5,242.5C330.2,246.3 333.8,251.2 337.5,255C341.2,258.8 345.8,262.3 350,265C354.2,267.7 357.5,269.2 362.5,271C367.5,272.8 373.8,274.8 380,276C386.2,277.2 393.7,278.2 400,278C406.3,277.8 414.5,277.7 418,275C421.5,272.3 420.7,265.8 421,262C421.3,258.2 420.2,257 420,252.5C419.8,248 420.8,240.8 420,235C419.2,229.2 417.5,222.5 415,217.5C412.5,212.5 409.2,207.9 405,205C400.8,202.1 395,200 390,200C385,200 380,204.2 375,205C370,205.8 365,205.8 360,205C355,204.2 350.4,201.7 345,200C339.6,198.3 332.5,197.5 327.5,195C322.5,192.5 317.9,188.8 315,185C312.1,181.2 310.3,175.6 310,172C309.7,168.4 311.1,166.1 313.3,163.3C315.5,160.5 320.5,156.9 323.3,155C326.1,153.1 328.1,154.2 330,151.7C331.9,149.2 332.2,142.2 335,140C337.8,137.8 343.6,139.7 346.7,138.3C349.8,136.9 351.9,135.3 353.3,131.7C354.7,128.1 354.2,121.7 355,116.7C355.8,111.7 356.4,105 358.3,101.7C360.2,98.4 362.5,98.9 366.7,96.7C370.9,94.5 380,91.1 383.3,88.3C386.6,85.5 383.9,83 386.7,80C389.5,77 397.4,76.7 400,70C402.6,63.3 410.3,45 402,40C393.7,35 358.7,36.1 350,40Z"/>
<path d="M270.4,188C270.8,184.2 274.2,178.6 276.7,175.6C279.2,172.6 282.7,170.5 285.6,170.2C288.6,169.9 292.6,171.1 294.4,173.8C296.2,176.5 296.5,182 296.2,186.2C295.9,190.3 294.2,195.3 292.7,198.7C291.2,202.1 289.7,205.4 287.3,206.7C284.9,208 280.6,208 278.4,206.7C276.2,205.4 275.3,201.8 274,198.7C272.7,195.6 269.9,191.8 270.4,188Z"/>
<path d="M377.5,242.5C377.7,238.3 378.3,233.8 380,230C381.7,226.2 385,221.7 387.5,220C390,218.3 393.3,217.9 395,220C396.7,222.1 397,227.9 397.5,232.5C398,237.1 398.4,243.3 398,247.5C397.6,251.7 397.2,255.4 395,257.5C392.8,259.6 387.7,260.4 385,260C382.3,259.6 380,257.9 378.8,255C377.5,252.1 377.3,246.7 377.5,242.5Z"/>
<path d="M368.3,40C363,43.8 369.4,57 368.3,62.5C367.2,68 363.9,69.5 361.7,73.3C359.5,77 356.4,81.4 355,85C353.6,88.6 353,92.4 353.3,95C353.6,97.6 355,100.2 356.7,100.8C358.4,101.3 360.5,99.4 363.3,98.3C366.1,97.2 370,95.9 373.3,94.2C376.6,92.5 381.4,90.5 383.3,88.3C385.2,86.1 383.1,82.9 385,80.8C386.9,78.7 392.5,77.6 395,75.8C397.5,74 399.2,76 400,70C400.8,64 405.3,45 400,40C394.7,35 373.6,36.2 368.3,40Z"/>
<path d="M315,141.7C315.6,139.8 320.2,136.1 323.3,133.3C326.4,130.5 331.4,125.8 333.3,125C335.2,124.2 336.1,126.1 335,128.3C333.9,130.5 329.2,135.5 326.7,138.3C324.2,141.1 321.9,144.4 320,145C318.1,145.6 314.4,143.6 315,141.7Z"/>
<path d="M378.3,60L390,60L381.7,75L377.5,74.2Z"/>
<path d="M381.2,522.5C382.5,521.2 386.9,519.2 388.8,520C390.6,520.8 392,524.6 392.5,527.5C393,530.4 392.6,535 392,537.5C391.4,540 390.1,542.9 388.8,542.5C387.4,542.1 385,537.5 383.8,535C382.5,532.5 381.7,529.6 381.2,527.5C380.8,525.4 380,523.8 381.2,522.5Z"/>
<path d="M314.8,450.3L319.8,461.6L315.3,466L310,460.4Z"/>
<path d="M347.5,387.5C347.5,382.7 348.3,375 350,370C351.7,365 354.2,361.2 357.5,357.5C360.8,353.8 366.2,349.2 370,347.5C373.8,345.8 377.5,345.8 380,347.5C382.5,349.2 384.4,353.8 385,357.5C385.6,361.2 385,365.8 383.8,370C382.5,374.2 380.2,378.3 377.5,382.5C374.8,386.7 370.8,391.9 367.5,395C364.2,398.1 360.4,400.6 357.5,401.2C354.6,401.9 351.7,401 350,398.8C348.3,396.5 347.5,392.3 347.5,387.5Z"/>
<path d="M253.5,512C249.8,510.6 247.2,511.3 245,508C242.8,504.7 242,493.7 240,492C238,490.3 235.3,495.3 233,498C230.7,500.7 228.6,504 226,508C223.4,512 221,517.5 217.5,522C214,526.5 208.8,531.2 205,535C201.2,538.8 198.3,541.2 195,545C191.7,548.8 188.3,553.3 185,557.5C181.7,561.7 177.9,565.8 175,570C172.1,574.2 167.9,578.3 167.5,582.5C167.1,586.7 170.4,591.2 172.5,595C174.6,598.8 177.9,601.7 180,605C182.1,608.3 185,611.7 185,615C185,618.3 182.1,622.1 180,625C177.9,627.9 175.8,632.1 172.5,632.5C169.2,632.9 164.2,627.9 160,627.5C155.8,627.1 151,628.2 147.5,630C144,631.8 139.9,635.3 139,638C138.1,640.7 140.4,643.8 142,646C143.6,648.2 145.8,647.9 148.7,651C151.6,654.1 156.7,659.2 159.4,664.5C162.1,669.8 163.4,676.8 164.7,683C166,689.2 167.1,695.9 167.3,701.7C167.5,707.5 165.1,713.2 166,717.6C166.9,722 169.3,725.2 172.6,728.3C175.9,731.4 182,733.8 186,736C190,738.2 192.8,740.5 196.5,741.5C200.2,742.5 204.1,742.6 208,742C211.9,741.4 216,740.3 220,738C224,735.7 228.7,730.2 232,728C235.3,725.8 237.2,726.1 240,724.8C242.8,723.5 246,721.8 249,720.3C252,718.8 255.9,718 258,715.8C260.1,713.6 261.5,710.3 261.3,706.9C261.1,703.5 258.4,700.1 256.9,695.6C255.4,691.1 253.3,684.8 252.4,680C251.5,675.2 250.8,670.3 251.2,667C251.6,663.7 253.2,661.2 255,660C256.8,658.8 259.5,658.7 262,660C264.5,661.3 267.5,664.7 270,668C272.5,671.3 274.7,675.8 277,680C279.3,684.2 281.8,688.8 284,693C286.2,697.2 288.4,701.3 290,705C291.6,708.7 293.6,712.2 293.5,715C293.4,717.8 291.2,719.8 289.4,722C287.6,724.2 284.9,726 282.7,728C280.5,730 275.6,731.8 276,734C276.4,736.2 282,739.2 285,741C288,742.8 291.4,744.7 294,745C296.6,745.3 298.5,744.7 300.7,742.8C302.9,740.9 305.1,736.8 307.4,733.8C309.6,730.8 311.9,727.4 314.2,724.8C316.5,722.2 317.6,719.9 321,718C324.4,716.1 329.9,714.9 334.4,713.6C338.9,712.3 343.4,711.9 347.9,710.2C352.4,708.5 357.2,706.3 361.3,703.5C365.4,700.7 369.4,697.3 372.6,693.4C375.8,689.5 378.7,684.5 380.4,680C382.1,675.5 382.5,671.2 382.7,666.4C382.9,661.6 382.5,655.1 381.6,651C380.7,646.9 379,645 377.3,641.5C375.6,638 373.9,633.6 371.5,630C369.1,626.4 366.1,623.6 363,620C359.9,616.4 356.2,612.6 352.9,608.6C349.5,604.6 346.2,600.1 342.9,595.8C339.6,591.5 336,587.2 332.9,582.9C329.8,578.6 326.7,573.2 324.3,570C321.9,566.8 320.8,567.1 318.7,563.8C316.6,560.5 314.3,554.8 312,550.3C309.7,545.8 308,541 305,536.9C302,532.8 298.1,528.6 294,525.6C289.9,522.6 284.9,520.4 280.4,518.9C275.9,517.4 271.5,517.8 267,516.6C262.5,515.5 257.2,513.4 253.5,512Z"/>
<path d="M240,523.4C243.9,521.9 248.6,521.2 253.5,521C258.4,520.8 264.3,521.1 269.2,522.2C274.1,523.4 278.6,525.5 282.7,527.9C286.8,530.3 291,533.2 294,536.9C297,540.6 298.5,545.8 300.7,550.3C302.9,554.8 305.4,560.5 307.4,563.8C309.4,567.1 311,567.1 312.9,570C314.8,572.9 316,577.6 318.6,581.4C321.2,585.2 325.3,588.8 328.6,592.9C331.9,597 335.5,601.5 338.6,605.8C341.7,610.1 345.1,614.6 347.2,618.6C349.3,622.6 350.4,626.2 351.5,630C352.6,633.8 353.5,637.2 353.7,641.5C353.9,645.8 353.1,651 352.9,655.8C352.6,660.5 353.2,665.8 352.2,670C351.2,674.2 349,677.7 347,681C345,684.3 342.8,687.5 340,690C337.2,692.5 333.6,694.4 330,696C326.4,697.6 322.5,699 318.7,699.7C314.9,700.4 311.1,700.7 307.4,700C303.6,699.3 299.6,697.8 296.2,695.6C292.8,693.4 290,690 287.2,686.6C284.4,683.2 281.9,679.1 279.3,675.4C276.7,671.7 273.9,667.4 271.5,664.2C269.1,661.1 266.9,658.5 264.7,656.5C262.4,654.5 260.6,652.9 258,652C255.4,651.1 252,651.3 249,651C246,650.7 243.2,651.3 240,650C236.8,648.7 233.3,646 230,643C226.7,640 223.8,635.8 220,632C216.2,628.2 211.3,624 207.5,620C203.7,616 200.4,612 197,608C193.6,604 190.2,600 187,596C183.8,592 177.8,587.9 177.5,584C177.2,580.1 182.1,576.5 185,572.5C187.9,568.5 191.7,564.2 195,560C198.3,555.8 201.2,551.2 205,547.5C208.8,543.8 213.3,540.4 217.5,537.5C221.7,534.6 226.2,532.4 230,530C233.8,527.6 236.1,524.9 240,523.4Z"/>
<path d="M240,536.9C245.1,535.2 250.8,534.8 255.7,534.6C260.6,534.4 265.1,534.6 269.2,535.7C273.3,536.8 277.2,538.9 280.4,541.3C283.6,543.7 286,546.9 288.3,550.3C290.6,553.7 292.1,558 294,561.6C295.9,565.2 298.1,568.2 300,572C301.9,575.8 303.6,580.1 305.7,584.3C307.8,588.5 310,593.6 312.9,597.2C315.8,600.8 320,602.9 322.9,605.8C325.8,608.6 328.4,611.4 330,614.3C331.6,617.1 332.6,619.8 332.2,622.9C331.8,626 329.4,629.1 327.9,632.9C326.3,636.7 324.1,642 322.9,645.8C321.7,649.6 320.9,652.1 320.8,655.8C320.7,659.5 322.2,664.5 322.2,668C322.2,671.5 322.2,674.3 321,677C319.8,679.7 317.3,682.3 315,684C312.7,685.7 309.8,687.3 307,687C304.2,686.7 301,684.5 298,682C295,679.5 291.8,675.5 289,672C286.2,668.5 283.7,664.7 281,661C278.3,657.3 275.5,653.3 273,650C270.5,646.7 268.5,643.5 266,641C263.5,638.5 260.8,636.2 258,635C255.2,633.8 252,635.2 249,634C246,632.8 242.8,630.3 240,628C237.2,625.7 235.8,623 232.5,620C229.2,617 224.2,613.7 220,610C215.8,606.3 211.2,601.8 207.5,598C203.8,594.2 200.4,590 197.5,587C194.6,584 190,582.4 190,580C190,577.6 195,575.4 197.5,572.5C200,569.6 202.5,565.8 205,562.5C207.5,559.2 209.2,555.4 212.5,552.5C215.8,549.6 220.4,547.6 225,545C229.6,542.4 234.9,538.6 240,536.9Z"/>
<path d="M212.5,570C213.8,567.1 216.7,562.3 220,560C223.3,557.7 228.4,557.1 232.5,556.2C236.6,555.4 241,555 244.8,555C248.5,555 251.8,555.2 255,556.2C258.2,557.3 262.9,557.7 263.8,561.2C264.6,564.8 261.5,572.7 260,577.5C258.5,582.3 256.7,586.2 255,590C253.3,593.8 251.7,597.9 250,600C248.3,602.1 247.5,602.5 245,602.5C242.5,602.5 238.3,601.2 235,600C231.7,598.8 227.9,597.1 225,595C222.1,592.9 219.6,590.4 217.5,587.5C215.4,584.6 213.3,580.4 212.5,577.5C211.7,574.6 211.2,572.9 212.5,570Z"/>
<path d="M222.5,571.2C224.6,568.8 232.3,569.4 235,570C237.7,570.6 238.3,572.1 238.8,575C239.2,577.9 239,584.8 237.5,587.5C236,590.2 232.5,591.7 230,591.2C227.5,590.8 223.8,588.3 222.5,585C221.2,581.7 220.4,573.8 222.5,571.2Z"/>
<path d="M280.4,637.2C281.5,634 285.1,630.8 288.3,629.3C291.5,627.8 296.7,626.9 299.5,628.2C302.3,629.5 303.7,633.5 305,637.2C306.3,641 306.8,646.2 307.4,650.7C308,655.2 309.1,660.7 308.5,664.2C307.9,667.8 306.2,671.1 304,672C301.8,672.9 297.8,671.8 295,669.8C292.2,667.8 289.4,663.3 287.2,659.7C285,656.1 282.7,652.1 281.6,648.4C280.5,644.6 279.3,640.4 280.4,637.2Z"/>
<path d="M183.3,696.4C184.2,693.3 187.7,691 191.2,691C194.7,691 200.5,695.1 204.5,696.4C208.5,697.7 212.3,700.3 215,699C217.7,697.7 218.7,692.8 220.5,688.4C222.3,684 224.1,677.4 225.8,672.5C227.6,667.6 229,661.9 231,659.2C233,656.6 235.9,655.3 237.7,656.6C239.5,657.9 241.2,662.8 241.7,667.2C242.1,671.6 241.7,677.7 240.4,683C239.1,688.3 236.1,693.7 233.7,699C231.3,704.3 228.9,710.1 225.8,715C222.7,719.9 218.6,725.6 215,728.3C211.4,731 208,732.3 204.5,731C201,729.7 197.1,723.8 194,720.3C190.9,716.8 187.8,713.7 186,709.7C184.2,705.7 182.4,699.5 183.3,696.4Z"/>
<path d="M24,747C25.5,743.3 25.5,738.5 29,736C32.5,733.5 39.7,732.8 45,732C50.3,731.2 55.2,730.3 61,731C66.8,731.7 74.2,735.3 80,736C85.8,736.7 90.3,734.5 95.6,735C100.8,735.5 107.5,737 111.5,739C115.5,741 117.2,743.9 119.5,747C121.8,750.1 124.6,752.8 125,757.5C125.4,762.2 139.5,772.1 122,775C104.5,777.9 37,777.8 20,775C3,772.2 19.3,762.7 20,758C20.7,753.3 22.5,750.7 24,747Z"/>
<path d="M97.5,570C98.3,566.7 101.7,562.7 105,560C108.3,557.3 113.3,555.2 117.5,553.8C121.7,552.3 126.2,551 130,551.2C133.8,551.5 137.5,552.7 140,555C142.5,557.3 145.4,561.7 145,565C144.6,568.3 140.4,572.3 137.5,575C134.6,577.7 131.7,580 127.5,581.2C123.3,582.5 117.1,582.7 112.5,582.5C107.9,582.3 102.5,582.1 100,580C97.5,577.9 96.7,573.3 97.5,570Z"/>
<path d="M75,630C75.4,627.3 79.6,625.4 82.5,625C85.4,624.6 90.2,625.8 92.5,627.5C94.8,629.2 96.7,632.5 96.2,635C95.8,637.5 92.7,641.5 90,642.5C87.3,643.5 82.5,643.3 80,641.2C77.5,639.2 74.6,632.7 75,630Z"/>
<path d="M-6.7,520.8C-2.8,510 10,523.5 16.7,523.3C23.3,523.2 26.9,520.3 33.3,520C39.7,519.7 49.7,520.3 55,521.7C60.3,523.1 63.6,525.3 65,528.3C66.4,531.4 64.7,535.3 63.3,540C61.9,544.7 58.1,551.7 56.7,556.7C55.3,561.7 53.3,566.1 55,570C56.7,573.9 64.4,576.1 66.7,580C68.9,583.9 67.2,589.4 68.3,593.3C69.4,597.2 72.8,599.4 73.3,603.3C73.9,607.2 73.3,613.6 71.7,616.7C70,619.7 66.9,621.7 63.3,621.7C59.7,621.7 55,619.2 50,616.7C45,614.2 38.9,610 33.3,606.7C27.8,603.3 23.3,599.7 16.7,596.7C10,593.6 -2.8,601 -6.7,588.3C-10.6,575.7 -10.6,531.7 -6.7,520.8Z"/>
<path d="M25,483.3C32.5,481.1 61.9,481.1 70,483.3C78.1,485.6 73.9,493.1 73.3,496.7C72.8,500.3 69.7,503.3 66.7,505C63.6,506.7 59.2,506.5 55,506.7C50.8,506.8 45.6,506.7 41.7,505.8C37.8,505 34.4,503.2 31.7,501.7C28.9,500.1 26.1,499.7 25,496.7C23.9,493.6 17.5,485.6 25,483.3Z"/>
<path d="M70,508C72.5,506 78,506 83,506C88,506 95,508.2 100,508C105,507.8 110.2,504.3 113,505C115.8,505.7 118,509 117,512C116,515 109.3,518.8 107,523C104.7,527.2 104.2,533.3 103,537C101.8,540.7 101.7,543.2 100,545C98.3,546.8 96.3,547.7 93,548C89.7,548.3 83.3,546.2 80,547C76.7,547.8 75.2,553.3 73,553C70.8,552.7 68.3,549.2 67,545C65.7,540.8 64.8,532.5 65,528C65.2,523.5 67.2,521.3 68,518C68.8,514.7 67.5,510 70,508Z"/>
<path d="M73,548C74.3,544.7 76.8,543.3 80,542C83.2,540.7 88.3,539.5 92,540C95.7,540.5 100,542.3 102,545C104,547.7 104.3,552.2 104,556C103.7,559.8 102.3,564.8 100,568C97.7,571.2 93.7,574.2 90,575C86.3,575.8 81,575.2 78,573C75,570.8 72.8,566.2 72,562C71.2,557.8 71.7,551.3 73,548Z"/>
<path d="M85,519.2C85.9,518.3 88.9,516.8 90.8,516.7C92.8,516.5 95.8,517.5 96.7,518.3C97.5,519.2 96.9,521 95.8,521.7C94.7,522.4 91.8,522.5 90,522.5C88.2,522.5 86.2,522.2 85.3,521.7C84.5,521.1 84.1,520 85,519.2Z"/>
<path d="M113.3,523.3C113.6,520.4 114.7,518.6 116.7,517.5C118.6,516.4 122.6,515.7 125,516.7C127.4,517.6 130.1,520.6 130.8,523.3C131.5,526.1 130.7,530.8 129.2,533.3C127.6,535.8 124,538.1 121.7,538.3C119.3,538.6 116.4,537.5 115,535C113.6,532.5 113.1,526.2 113.3,523.3Z"/>
<path d="M70,585C71.1,583.2 73.1,581.2 75,580.8C76.9,580.4 80.3,580.7 81.7,582.5C83.1,584.3 83.3,588.5 83.3,591.7C83.3,594.9 82.8,599.4 81.7,601.7C80.6,603.9 78.5,605.6 76.7,605C74.9,604.4 72.2,600.6 70.8,598.3C69.5,596.1 68.8,593.9 68.7,591.7C68.5,589.4 68.9,586.8 70,585Z"/>
<path d="M116.7,613.3C116.9,611 120.6,608.6 123.3,607.5C126.1,606.4 130.4,605.8 133.3,606.7C136.2,607.5 140,610.3 140.8,612.5C141.7,614.7 140.1,618.2 138.3,620C136.5,621.8 132.8,623.1 130,623.3C127.2,623.6 123.9,623.3 121.7,621.7C119.4,620 116.4,615.7 116.7,613.3Z"/>
<path d="M130,616.7L133.3,613.3L137,616.7L133.3,620.3Z"/>
<path d="M-6.7,528.3C-3.9,522.9 5.3,527.2 10,527.5C14.7,527.8 18.6,528.2 21.7,530C24.7,531.8 27.1,535.3 28.3,538.3C29.6,541.4 29.7,545.3 29.2,548.3C28.6,551.4 27.4,554.6 25,556.7C22.6,558.8 20.3,560.3 15,560.8C9.7,561.4 -3.1,565.4 -6.7,560C-10.3,554.6 -9.4,533.8 -6.7,528.3Z"/>
<path d="M-6.7,533.3C-4.2,529.4 4,532.1 8.3,532.5C12.6,532.9 16.5,534 19.2,535.8C21.8,537.6 23.6,540.7 24.2,543.3C24.7,546 24,549.6 22.5,551.7C21,553.8 19.9,555.1 15,555.8C10.1,556.5 -3.1,559.6 -6.7,555.8C-10.3,552.1 -9.2,537.2 -6.7,533.3Z"/>
<path d="M-6.7,538.3C-4.2,536 4.4,537.6 8.3,538C12.2,538.4 14.6,539.5 16.7,540.8C18.8,542.1 20.7,544.2 20.8,545.8C21,547.5 19.6,549.7 17.5,550.8C15.4,551.9 12.4,552.3 8.3,552.5C4.3,552.7 -4.2,554.4 -6.7,552C-9.2,549.6 -9.2,540.7 -6.7,538.3Z"/>
<path d="M3.3,545.8C3.6,544.7 7.5,543.3 10,543C12.5,542.7 16.4,543.5 18.3,544.2C20.3,544.8 21.9,546.1 21.7,547C21.4,547.9 18.9,549.2 16.7,549.7C14.4,550.2 10.6,550.6 8.3,550C6.1,549.4 3.1,547 3.3,545.8Z"/>
<path d="M-6.7,571.7C-3.9,569.4 5.3,571.1 10,571.3C14.7,571.6 19,572.2 21.7,573.3C24.3,574.5 25.8,576.7 25.8,578.3C25.8,580 24.3,582.2 21.7,583.3C19,584.5 14.7,585.1 10,585.3C5.3,585.6 -3.9,587.3 -6.7,585C-9.4,582.7 -9.4,573.9 -6.7,571.7Z"/>
<path d="M-6.7,575C-4.2,573.8 4.4,574.2 8.3,574.5C12.2,574.8 15.1,575.8 16.7,576.7C18.2,577.6 18.6,579.1 17.5,580C16.4,580.9 14,581.7 10,582C6,582.3 -3.9,582.8 -6.7,581.7C-9.4,580.5 -9.2,576.2 -6.7,575Z"/>
<path d="M33.3,538.3C34.5,535.8 38.1,533.5 41.7,531.7C45.3,529.9 51.4,527.8 55,527.5C58.6,527.2 62.5,527.9 63.3,530C64.1,532.1 61.9,536.7 60,540C58.1,543.3 54.5,547 51.7,550C48.9,553 45.7,556.1 43.3,558.3C40.9,560.5 39.2,563.6 37.5,563.3C35.8,563 33.8,559.5 33.3,556.7C32.8,553.9 34.2,549.8 34.2,546.7C34.2,543.6 32,540.8 33.3,538.3Z"/>
<path d="M36.7,546.7L40,545L40.8,550L37.5,552.5Z"/>
<path d="M48.3,610C47.8,607.8 49.2,602.8 50,600C50.8,597.2 51.6,594.3 53.3,593.3C55,592.3 57.8,593.4 60,594.2C62.2,595 64.8,596.5 66.7,598.3C68.7,600.1 71.2,602.5 71.7,605C72.2,607.5 72,611.8 70,613.3C68,614.8 62.8,614.2 60,614.2C57.2,614.2 55.2,614 53.3,613.3C51.3,612.6 48.8,612.2 48.3,610Z"/>
<path d="M-6.7,503.3C-4.4,500.6 3.3,505.8 6.7,505.3C10,504.8 11.4,502 13.3,500.3C15.3,498.7 16.8,496.4 18.3,495.3C19.9,494.3 21.2,493.4 22.5,494.2C23.8,494.9 25.1,497.1 25.8,500C26.6,502.9 27.1,508.3 27,511.7C26.9,515 27,518.5 25,520C23,521.5 20.3,520.6 15,520.8C9.7,521.1 -3.1,524.6 -6.7,521.7C-10.3,518.8 -8.9,506.1 -6.7,503.3Z"/>
<path d="M-8,505.8C-5.6,504.1 3.2,508.7 6.7,508.3C10.2,507.9 11.1,505 13.3,503.3C15.5,501.6 18.5,497.7 20,498.3C21.5,498.9 21.9,503.9 22.5,506.7C23.1,509.5 24.6,513.2 23.3,515C22.1,516.8 17.8,517.2 15,517.5C12.2,517.8 10.5,516.6 6.7,516.7C2.9,516.8 -5.6,520.1 -8,518.3C-10.4,516.5 -10.4,507.5 -8,505.8Z"/>
<path d="M-6.7,591.7C-3.9,584.4 5,593.3 10,595C15,596.7 19.4,599.2 23.3,601.7C27.2,604.2 31,606.7 33.3,610C35.7,613.3 37.8,618.1 37.5,621.7C37.2,625.3 34.9,629.3 31.7,631.7C28.5,634 24.7,634.7 18.3,635.8C11.9,636.9 -2.5,645.7 -6.7,638.3C-10.8,631 -9.4,598.9 -6.7,591.7Z"/>
<path d="M-8,596.7C-5,590.9 5.1,598.3 10,600C14.9,601.7 18.4,604.5 21.7,606.7C25,608.9 28.1,610.8 30,613.3C31.9,615.8 33.6,619.2 33.3,621.7C33,624.2 30.8,626.6 28.3,628.3C25.8,630 21.9,630.7 18.3,631.7C14.7,632.7 11.1,633.7 6.7,634.2C2.3,634.8 -5.6,641.2 -8,635C-10.4,628.8 -11,602.5 -8,596.7Z"/>
<path d="M21.7,628.3C22.2,625 24.7,621.9 28.3,620C31.9,618.1 38.1,616.9 43.3,616.7C48.6,616.4 55,617.2 60,618.3C65,619.4 70.3,621.1 73.3,623.3C76.4,625.6 78.3,628.9 78.3,631.7C78.3,634.4 78.1,637.8 73.3,640C68.6,642.2 58.1,645 50,645C41.9,645 29.7,642.8 25,640C20.3,637.2 21.1,631.7 21.7,628.3Z"/>
<path d="M24.2,628.7C24.6,625.9 26.8,623.3 30,621.7C33.2,620 38.6,618.9 43.3,618.7C48.1,618.4 53.9,619.3 58.3,620.3C62.8,621.3 67.4,622.8 70,624.7C72.6,626.6 74.2,629.3 74.2,631.7C74.2,634 74,636.9 70,638.7C66,640.5 57.1,642.6 50,642.5C42.9,642.4 31.8,640.6 27.5,638.3C23.2,636 23.8,631.4 24.2,628.7Z"/>
<path d="M26.7,629C27.1,626.7 29.7,624.4 32.5,623C35.3,621.6 39.6,620.8 43.7,620.7C47.7,620.6 52.8,621.4 56.7,622.3C60.5,623.2 64.4,624.4 66.7,626C68.9,627.6 70.1,629.9 70,631.7C69.9,633.4 69.7,635.3 66.3,636.7C63,638.1 56.1,640 50,640C43.9,640 33.9,638.5 30,636.7C26.1,634.8 26.2,631.3 26.7,629Z"/>
<path d="M29.2,629.3C29.5,627.6 32.2,625.4 34.7,624.3C37.1,623.2 40.6,622.7 44,622.7C47.4,622.7 51.8,623.6 55,624.3C58.2,625.1 61.5,626.2 63.3,627.3C65.1,628.5 65.9,630.1 65.8,631.3C65.7,632.6 65.3,633.7 62.7,634.7C60,635.6 55,637 50,637C45,637 36,635.9 32.5,634.7C29,633.4 28.8,631.1 29.2,629.3Z"/>
<path d="M31.7,629.3C31.9,628.2 34.6,626.4 36.7,625.7C38.8,624.9 41.6,624.6 44.3,624.7C47.1,624.7 50.7,625.4 53.3,626C55.9,626.6 58.6,627.5 60,628.3C61.4,629.2 61.9,630.2 61.7,631C61.4,631.8 60.6,632.4 58.7,633C56.7,633.6 53.9,634.4 50,634.3C46.1,634.3 38.1,633.5 35,632.7C31.9,631.8 31.4,630.5 31.7,629.3Z"/>
<path d="M34.2,629.3C34.4,628.6 36.9,627.5 38.7,627C40.4,626.5 42.4,626.3 44.7,626.3C46.9,626.4 50,626.8 52,627.3C54,627.8 56.1,628.7 56.7,629.3C57.2,630 56.4,630.9 55.3,631.3C54.2,631.8 53,632.2 50,632.2C47,632.2 40.1,631.8 37.5,631.3C34.9,630.9 34,630.1 34.2,629.3Z"/>
<path d="M143.3,635C143.6,632.8 146.1,629.7 148.3,628.3C150.6,626.9 154.3,626.1 156.7,626.7C159,627.2 161.7,629.4 162.5,631.7C163.3,633.9 162.9,638.1 161.7,640C160.4,641.9 157.5,643.1 155,643.3C152.5,643.6 148.6,643.1 146.7,641.7C144.7,640.3 143.1,637.2 143.3,635Z"/>
<path d="M511.7,65.8C513.1,64.7 518.1,64.8 521.7,65C525.3,65.2 530.8,65.6 533.3,66.7C535.8,67.8 537.2,69.8 536.7,71.7C536.2,73.6 533.1,77.5 530,78.3C526.9,79.1 521.1,77.8 518.3,76.7C515.5,75.6 514.4,73.5 513.3,71.7C512.2,69.9 510.3,66.9 511.7,65.8Z"/>
<path d="M40,655C41.2,651.2 46.2,647.1 50,645C53.8,642.9 58.8,641.7 62.5,642.5C66.2,643.3 70.4,646.2 72.5,650C74.6,653.8 75.8,660.8 75,665C74.2,669.2 71.2,673.3 67.5,675C63.8,676.7 56.7,676.2 52.5,675C48.3,673.8 44.6,670.8 42.5,667.5C40.4,664.2 38.8,658.8 40,655Z"/>
<path d="M51.2,647.5C52.7,645.4 56.9,644.2 58.8,645C60.6,645.8 62.1,649.6 62.5,652.5C62.9,655.4 62.7,660.4 61.2,662.5C59.8,664.6 55.6,665.8 53.8,665C51.9,664.2 50.4,660.4 50,657.5C49.6,654.6 49.8,649.6 51.2,647.5Z"/>
<path d="M2.5,667.5C4,665.4 7.5,662.5 10,662.5C12.5,662.5 16.7,665 17.5,667.5C18.3,670 16.9,675.2 15,677.5C13.1,679.8 8.5,681.7 6.2,681.2C4,680.8 1.9,677.3 1.2,675C0.6,672.7 1,669.6 2.5,667.5Z"/>
<path d="M79.7,672.5C81.2,671.5 88.6,676.3 93,675C97.4,673.7 102,668 106,664.5C110,661 113.4,656.2 117,654C120.6,651.8 124.8,649.2 127.5,651C130.2,652.8 130.3,660.5 133,664.5C135.7,668.5 139.9,671.5 143.4,675C146.9,678.5 151.8,680.9 154,685.8C156.2,690.7 156.7,698.6 156.7,704.4C156.7,710.1 155.3,715.4 154,720.3C152.7,725.2 151.4,730.5 148.7,733.6C146,736.7 141.9,739.4 138,739C134.1,738.6 129.4,733.7 125,731C120.6,728.3 116.4,724.8 111.5,723C106.6,721.2 100.9,721.2 95.6,720.3C90.3,719.4 83.9,719.4 79.7,717.6C75.5,715.8 71.3,713.2 70.4,709.7C69.5,706.2 71.5,699.5 74.4,696.4C77.3,693.3 86,693.6 87.6,691C89.2,688.4 85.3,684.1 84,681C82.7,677.9 78.2,673.5 79.7,672.5Z"/>
<path d="M40,710L50,702L61,709L51,718Z"/>
<path d="M586.7,40C518.7,44 586.4,57.6 586.7,64C587,70.4 588.3,74.5 588.3,78.3C588.3,82.1 585.9,82.2 586.7,86.7C587.5,91.2 591.3,100.3 593,105C594.7,109.7 594.4,112.2 596.7,115C599,117.8 603.4,120.9 606.7,121.7C610,122.5 613.4,120.6 616.7,120C620,119.4 624.5,117.5 626.7,118.3C628.9,119.1 628.5,122.9 630,125C631.5,127.1 634.2,129 636,131C637.8,133 638.3,134.8 641,137C643.7,139.2 648.3,141.8 652,144C655.7,146.2 659.7,148.2 663,150C666.3,151.8 668.9,152.6 672,155C675.1,157.4 678.4,161.7 681.5,164.5C684.6,167.3 687,170.5 690.7,172C694.4,173.5 699.5,173.7 703.5,173.7C707.5,173.7 710.9,171.4 714.6,172C718.3,172.6 721.4,175.4 725.6,177.4C729.8,179.4 735.1,181.9 740,184C744.9,186.1 750,188.2 755,190C760,191.8 765,193.7 770,195C775,196.3 780,196.5 785,198C790,199.5 795,201.7 800,204C805,206.3 809.2,208.5 815,212C820.8,215.5 827.5,221 835,225C842.5,229 851.7,233.1 860,236C868.3,238.9 876.7,240.3 885,242.5C893.3,244.7 903.3,246.5 910,249C916.7,251.5 921.7,254 925,257.5C928.3,261 928.3,266.2 930,270C931.7,273.8 932.1,276.9 935,280C937.9,283.1 942.5,286.6 947.5,288.8C952.5,290.9 957.1,292.5 965,293C972.9,293.5 990,334.2 995,292C1000,249.8 1063,82 995,40C927,-2 654.8,36 586.7,40Z"/>
<path d="M600,40C534,46.3 599.3,69.4 599,78C598.7,86.6 597.3,87.8 598,91.7C598.7,95.7 600.7,98.9 603,101.7C605.3,104.5 608.6,106.9 611.7,108.3C614.8,109.7 618.7,108.9 621.7,110C624.8,111.1 627,113.2 630,115C633,116.8 635.7,118.9 640,121C644.3,123.1 651.2,126 655.7,127.7C660.2,129.4 663.1,130.7 666.8,131.4C670.5,132.1 673.8,132 677.8,131.8C681.8,131.7 686.7,130.6 690.7,130.5C694.7,130.4 698.3,130.3 701.7,131.4C705.1,132.5 708.1,134.1 710.9,136.9C713.6,139.7 715.5,144.7 718.2,148C721,151.3 724,154.4 727.4,157C730.8,159.6 734.8,161.9 738.5,163.6C742.2,165.3 745.8,165.8 749.5,167.2C753.2,168.6 756.8,170.3 760.5,171.8C764.2,173.3 767.8,175.2 771.5,176.4C775.2,177.6 778.7,178.3 782.6,179.2C786.5,180.1 790.4,180.5 795,182C799.6,183.5 805.7,186.7 810,188.4C814.3,190.1 817.3,191.1 821,192C824.7,192.9 828.9,194.2 832,193.9C835.1,193.6 837.4,192.3 839.4,190.2C841.4,188 843.4,184.4 844,181C844.6,177.6 843.6,173.7 843,170C842.4,166.3 841,162.4 840.4,159C839.8,155.6 839.1,152.6 839.4,149.8C839.7,147 841,144.2 842.2,142.4C843.4,140.6 844.8,138.8 846.8,138.8C848.8,138.8 851.9,140.9 854,142.4C856.1,143.9 857.5,145.8 859.7,148C861.9,150.2 864.9,152.9 867,155.3C869.1,157.7 870.7,159.5 872.5,162.6C874.3,165.7 876.1,170.3 878,173.7C879.9,177.1 881.5,180.3 883.6,182.9C885.8,185.5 887.8,188.7 890.9,189.3C894,189.9 898.9,187.7 902,186.5C905.1,185.3 907.2,182.3 909.3,182C911.4,181.7 913.4,182.4 914.8,184.7C916.2,187 916.5,192.3 917.6,195.7C918.7,199.1 919.6,201.8 921.2,205C922.8,208.2 924.4,212 927,215C929.6,218 933.6,221.2 937,223C940.4,224.8 944.3,226.8 947.5,226C950.7,225.2 953.5,221 956,218C958.5,215 961.2,212.3 962.6,208C964,203.7 963.5,196.5 964.4,192C965.3,187.5 966.8,184.7 968,181C969.2,177.3 971,173.7 971.8,170C972.6,166.3 973,162.7 972.7,159C972.4,155.3 971.1,151.7 970,148C968.9,144.3 967.5,140.6 966.3,136.9C965.1,133.2 964.4,128.7 962.6,125.9C960.8,123.2 958.7,122.1 955.3,120.4C951.9,118.7 946.4,117.7 942.4,115.8C938.4,113.9 934.2,111.6 931.4,109.3C928.6,107 926.4,104.3 925.8,102C925.2,99.7 925.9,97.4 927.7,95.6C929.6,93.8 933.2,92.2 936.9,91C940.6,89.8 945.1,88.7 949.7,88.2C954.3,87.7 956.9,87.6 964.4,88.2C971.9,88.8 989.9,100 995,92C1000.1,84 1060.8,48.7 995,40C929.2,31.3 666,33.7 600,40Z"/>
<path d="M613.3,40C557.8,44 613.6,57.6 613.3,64C613,70.4 611.7,73.7 611.7,78.3C611.7,82.9 611.6,88.1 613.3,91.7C615,95.3 618.9,98.5 621.7,100C624.5,101.5 627.1,99.8 630,100.7C632.9,101.7 635.8,103.8 639.2,105.7C642.6,107.6 646.5,110.8 650.2,112C653.9,113.2 657.6,113.3 661.2,113C664.9,112.7 668.6,111.1 672.3,110.3C676,109.5 679.9,108.1 683.3,108.4C686.7,108.7 689.7,110.3 692.5,112C695.3,113.7 697.8,116.2 699.9,118.5C702,120.8 702.9,123.2 705.4,125.9C707.9,128.7 711.5,131.9 714.6,135C717.7,138.1 720.7,141.8 723.8,144.3C726.8,146.8 729.6,148.3 733,149.8C736.4,151.3 740.3,152.6 744,153.5C747.7,154.4 751.3,154.4 755,155.3C758.7,156.2 762.3,157.8 766,159C769.7,160.2 773,161.4 777,162.6C781,163.8 786.7,164.8 790,166C793.3,167.2 795.2,170.5 797,170C798.8,169.5 799.8,165.4 801,163C802.2,160.6 803,159 804.5,155.3C806,151.6 807.9,144.6 810,140.6C812.1,136.6 814.6,133.7 817.4,131.4C820.2,129.1 823.5,127.8 826.6,126.8C829.7,125.8 832.7,125.4 835.8,125.3C838.9,125.2 842,125.2 845,125.9C848,126.6 850.6,128.1 854,129.6C857.4,131.1 861.5,132.9 865.2,135C868.9,137.1 872.8,139.9 876.2,142.4C879.6,144.9 882.3,147.4 885.4,149.8C888.5,152.2 890.9,155.2 894.6,157C898.3,158.8 903.5,159.2 907.5,160.8C911.5,162.4 915.5,164.2 918.5,166.3C921.5,168.5 923.6,171.7 925.8,173.7C927.9,175.7 929.7,178.9 931.4,178.3C933.1,177.7 935.1,173.6 936,170C936.9,166.4 937.4,161.3 936.9,157C936.4,152.7 934.7,148.6 933.2,144.3C931.7,140 930.2,135.4 927.7,131.4C925.2,127.4 921,124.1 918.5,120.4C916,116.7 914.4,113.3 913,109.3C911.6,105.3 910.5,100.8 910.2,96.5C909.9,92.2 910,87 911.1,83.6C912.2,80.2 913.8,78.1 916.6,76.2C919.4,74.4 924,74.1 927.7,72.6C931.4,71.1 936,69.2 938.7,67C941.5,64.8 943,64.2 944.2,59.7C945.4,55.2 1001.1,43.3 946,40C890.9,36.7 668.8,36 613.3,40Z"/>
<path d="M629,40C586,44 629.4,57.6 629,64C628.6,70.4 626.5,74.5 626.7,78.3C626.9,82.1 627.6,84 630,86.7C632.4,89.4 637.3,92.4 641,94.6C644.7,96.8 648.6,98.8 652,100C655.4,101.2 657.9,102.1 661.2,102C664.6,101.9 668.6,99.5 672.3,99.2C676,98.9 679.6,99.2 683.3,100C687,100.8 690.9,102.5 694.3,103.8C697.7,105 700.7,105.7 703.5,107.5C706.3,109.3 708.8,112 710.9,114.8C713,117.5 714.6,121.2 716.4,124C718.2,126.8 719.8,128.9 721.9,131.4C724,133.9 726.5,137.2 729.3,138.8C732.1,140.3 735.1,140.9 738.5,140.6C741.9,140.3 746.1,137.5 749.5,136.9C752.9,136.3 756,136 758.7,136.9C761.5,137.8 763.9,140.2 766,142.4C768.1,144.6 769,148.7 771.5,149.8C774,150.9 777.6,149.3 780.7,149C783.8,148.7 787,149.1 790,148C793,146.9 796.6,144.2 799,142.4C801.4,140.6 803.1,138.7 804.6,136.9C806.1,135.1 805.9,133.6 808,131.4C810.1,129.2 814.3,126 817.4,124C820.5,122 823.5,120.6 826.6,119.5C829.7,118.4 832.7,117.8 835.8,117.6C838.9,117.4 842,117.7 845,118.5C848,119.3 851.5,121 854,122.2C856.5,123.4 857.2,124.1 859.7,125.9C862.2,127.7 865.9,131.1 868.9,133.2C871.9,135.3 875,137.2 878,138.8C881,140.3 883.8,141.9 887.2,142.4C890.6,142.9 894.9,142.1 898.3,141.5C901.7,140.9 905.2,139.8 907.5,138.8C909.8,137.7 911.4,136.5 912,135C912.6,133.5 912,133 911.1,129.6C910.2,126.2 907.9,119.7 906.5,114.8C905.1,109.9 904.1,104.6 902.9,100C901.7,95.4 900.6,91.6 899.2,87.3C897.8,83 896,78.4 894.6,74.4C893.2,70.4 892.1,69.1 890.9,63.4C889.7,57.7 930.9,43.9 887.2,40C843.6,36.1 672,36 629,40Z"/>
<path d="M641,40C601.2,43.8 640.5,57.4 641,62.5C641.5,67.6 642.3,68.6 643.8,70.7C645.3,72.8 647.9,73.8 650.2,75.3C652.5,76.8 655.1,78.6 657.6,80C660.1,81.4 662.3,82.1 665,83.6C667.7,85.1 670.7,87.2 674,89C677.3,90.8 681.3,93.3 685,94.6C688.7,95.8 692.3,96.2 696,96.5C699.7,96.8 704.1,95.6 707.2,96.5C710.3,97.4 712.5,99.5 714.6,102C716.7,104.5 718.2,108.1 720,111.2C721.8,114.3 723.4,117.7 725.6,120.4C727.8,123.2 729.9,126.8 733,127.7C736.1,128.6 740.3,126.5 744,125.9C747.7,125.3 751.9,123.7 755,124C758.1,124.3 760.2,125.9 762.4,127.7C764.5,129.5 765.5,133.2 767.9,135C770.3,136.8 773.9,138.3 777,138.8C780.1,139.2 783.2,138.7 786.2,137.8C789.3,136.9 792.6,134.5 795.4,133.2C798.2,131.9 800.4,131.9 802.8,130C805.2,128.1 807,124.3 810,122C813,119.7 817.3,117.7 821,116C824.7,114.3 828.3,113 832,112C835.7,111 839.9,110.5 843,110C846.1,109.5 848.3,108.8 850.5,109.3C852.7,109.8 853.9,111.2 856,113C858.1,114.8 860.8,118 863.3,120.4C865.8,122.9 867.9,125.9 870.7,127.7C873.5,129.5 876.9,131.4 879.9,131.4C882.9,131.4 886.5,129.8 889,127.7C891.5,125.5 893.5,122.2 894.6,118.5C895.7,114.8 895.8,110.3 895.5,105.7C895.2,101.1 893.8,95.6 892.8,91C891.7,86.4 890.2,82.3 889,78C887.8,73.7 886.9,71.5 885.4,65.2C883.9,58.9 920.6,44.2 879.9,40C839.2,35.8 680.8,36.2 641,40Z"/>
<path d="M654.8,40C619.1,43.6 654,56.4 654.8,61.5C655.6,66.6 657.1,67.8 659.4,70.7C661.7,73.6 665.2,76.4 668.6,79C672,81.6 675.6,84.7 679.6,86.4C683.6,88.1 688.5,88.6 692.5,89C696.5,89.4 700,88.4 703.5,89C707,89.6 710.5,90.6 713.6,92.8C716.7,95 719.1,98.5 721.9,102C724.7,105.5 727.4,112.2 730.2,114C733,115.8 735.3,113.9 738.5,113C741.7,112.1 745.8,109.5 749.5,108.4C753.2,107.3 757.6,105.8 760.5,106.6C763.4,107.4 765.3,110.7 767,113C768.7,115.3 768.9,118.4 770.6,120.4C772.3,122.4 774.5,124.2 777,125C779.5,125.8 783,125.9 785.3,125C787.6,124.1 788.9,121 790.8,119.5C792.6,118 794.4,116.7 796.4,115.8C798.4,114.9 800.8,114.8 802.8,114C804.8,113.2 805.8,112.3 808.2,111.2C810.6,110.1 814.3,108.7 817.4,107.5C820.5,106.3 823.1,104.9 826.6,103.8C830.1,102.7 834.5,100.7 838.5,101C842.5,101.3 847.3,104.6 850.5,105.7C853.7,106.8 855.2,106 857.8,107.5C860.4,109 863.2,112.3 866,114.8C868.8,117.2 871.6,120.8 874.4,122.2C877.2,123.6 880.3,123.9 882.6,123C884.9,122.1 887.3,119.6 888.2,116.7C889.1,113.8 888.7,110 888.2,105.7C887.7,101.4 886.6,95.9 885.4,91C884.2,86.1 882.9,80.5 880.8,76.2C878.6,72 874.5,71.2 872.5,65.2C870.5,59.2 905.2,44.2 868.9,40C832.6,35.8 690.5,36.4 654.8,40Z"/>
<path d="M664,40C649.1,43.8 663.1,57.1 664,62.5C664.9,67.9 666.9,69.8 669.5,72.6C672.1,75.3 675.8,77.5 679.6,79C683.4,80.5 687.9,81.6 692.5,81.8C697.1,82 702.9,79.8 707.2,80C711.5,80.2 714.8,81.5 718.2,82.7C721.6,83.9 724.3,85.5 727.4,87.3C730.5,89.1 732.9,92.8 736.6,93.7C740.3,94.6 746.9,94.8 749.5,92.8C752.1,90.8 751.6,86.7 752.2,81.8C752.8,76.9 753,70.4 753.2,63.4C753.4,56.4 768.1,43.9 753.2,40C738.3,36.1 678.9,36.2 664,40Z"/>
<path d="M780.7,40C773.1,43.4 780.9,55.2 780.7,60.6C780.6,66 779.5,68.5 779.8,72.6C780.1,76.7 780.9,81.4 782.6,85.4C784.3,89.4 787.3,94.1 790,96.5C792.7,98.9 795.7,99.7 799,100C802.3,100.3 806.6,99.2 810,98.3C813.4,97.4 816.4,96.4 819.2,94.6C822,92.8 824.8,90.1 826.6,87.3C828.4,84.5 830,81.4 830.2,78C830.5,74.6 829,73.3 828.4,67C827.8,60.7 834.5,44.5 826.6,40C818.7,35.5 788.4,36.6 780.7,40Z"/>
<path d="M852.3,70.7C853.7,69.5 856.9,67.3 859.7,67C862.5,66.7 866.5,67.1 868.9,68.9C871.3,70.7 872.9,74.3 874.4,78C875.9,81.7 877.2,87 878,91C878.8,95 879.5,99.4 879,102C878.5,104.6 877,106.9 875.3,106.6C873.6,106.3 871.2,102.6 868.9,100C866.6,97.4 864,94 861.5,91C859,88 855.7,84.6 854,81.8C852.3,79 851.7,76.2 851.4,74.4C851.1,72.6 850.9,71.9 852.3,70.7Z"/>
<path d="M668,40C662.7,43.3 668.8,55.2 671,60C673.2,64.8 677.9,67.3 681.5,69C685.1,70.7 689.2,71.3 692.5,70C695.8,68.7 699.2,66 701,61C702.8,56 708.5,43.5 703,40C697.5,36.5 673.3,36.7 668,40Z"/>
<path d="M794,89C794.3,87.3 796.9,83 799,82C801.1,81 804.1,82 806.4,82.7C808.7,83.4 812.2,85 812.8,86.4C813.4,87.8 811.7,90.1 810,91C808.3,91.9 804.9,91.8 802.7,92C800.5,92.2 798.5,92.5 797,92C795.5,91.5 793.7,90.7 794,89Z"/>
<path d="M685,153.5C685,151.5 685.5,149.5 687,148C688.5,146.5 691.5,144.6 694.3,144.3C697,144 701.4,144.5 703.5,146C705.6,147.5 707.2,151 707.2,153.5C707.2,156 705.6,159.3 703.5,160.8C701.4,162.3 697,162.7 694.3,162.6C691.5,162.5 688.5,161.5 687,160C685.5,158.5 685,155.5 685,153.5Z"/>
<path d="M913.9,148.9L920.3,140.6L924.9,148L919.4,153.5Z"/>
<path d="M538.3,108.3C536.8,106.1 537.1,99.2 537.5,95C537.9,90.8 539,86.5 540.8,83.3C542.6,80.1 545.4,77.6 548.3,75.8C551.2,74 555.2,72.6 558.3,72.5C561.4,72.4 564.5,73.3 566.7,75C568.9,76.7 571,80 571.7,82.5C572.4,85 571.8,88.1 570.8,90C569.8,91.9 567.2,92 565.8,94C564.4,96 563.5,98.8 562.5,101.7C561.5,104.7 561.5,110.2 560,111.7C558.5,113.2 555.5,111.4 553.3,110.8C551.1,110.2 549.2,108.7 546.7,108.3C544.2,107.9 539.8,110.5 538.3,108.3Z"/>
<path d="M958.7,266.7C959.2,263.8 961.6,259.3 965,257.2C968.4,255.1 975.5,252.4 979,254C982.5,255.6 985.7,261.4 985.7,266.7C985.7,272 981.6,283.3 979,285.7C976.4,288.1 972.6,282.9 969.8,281C966.9,279.1 963.8,277 961.9,274.6C960,272.2 958.2,269.6 958.7,266.7Z"/>
<path d="M-8,183C-4.8,184.2 7,187.7 11.5,190C16,192.3 17.5,193.4 19,196.6C20.5,199.8 19.4,205.5 20.4,209.4C21.4,213.3 23,216.6 25,220C27,223.4 30.8,226.7 32.5,230C34.2,233.3 33.4,236.3 35,240C36.6,243.7 40,248.3 42,252C44,255.7 46.1,259 47,262C47.9,265 48.5,265.3 47.5,270C46.5,274.7 41.2,283.3 41,290C40.8,296.7 44.9,302.9 46,310C47.1,317.1 45.2,327.9 47.5,332.5C49.8,337.1 55.8,339.6 60,337.5C64.2,335.4 69.2,325.4 72.5,320C75.8,314.6 76.7,310 80,305C83.3,300 88.8,294.6 92.5,290C96.2,285.4 100.4,280.8 102.5,277.5C104.6,274.2 104,275.4 105,270C106,264.6 108.3,251.5 108.8,245C109.2,238.5 106,234.2 107.5,231C109,227.8 114.6,226 117.5,226C120.4,226 122.5,228.7 125,231C127.5,233.3 130.4,236.8 132.5,240C134.6,243.2 137.1,246.2 137.5,250C137.9,253.8 136.2,258.8 135,262.5C133.8,266.2 132.2,269.2 130,272C127.8,274.8 122.8,276.4 122,279C121.2,281.6 122,285.9 125,287.5C128,289.1 135,288.3 140,288.8C145,289.2 150.8,288.1 155,290C159.2,291.9 163.1,295.8 165,300C166.9,304.2 164.2,310.4 166.2,315C168.3,319.6 173.5,327.5 177.5,327.5C181.5,327.5 186.5,319.6 190,315C193.5,310.4 198.3,304.6 198.8,300C199.2,295.4 194.3,290.8 192.5,287.5C190.7,284.2 187.6,280.1 188,280C188.4,279.9 191.3,284.8 195,287C198.7,289.2 205,292 210,293C215,294 220,293.8 225,293C230,292.2 236.3,291 240,288C243.7,285 245,279.3 247,275C249,270.7 250.2,265.8 252,262C253.8,258.2 255.5,254.7 258,252C260.5,249.3 263.3,247.2 267,246C270.7,244.8 276.2,244.2 280,245C283.8,245.8 287.8,248.2 290,251C292.2,253.8 292.8,258 293,262C293.2,266 292.2,270.3 291,275C289.8,279.7 287.3,285.7 286,290C284.7,294.3 283,297.7 283,301C283,304.3 282.8,307.9 286,310C289.2,312.1 298.5,311.7 302.5,313.8C306.5,315.8 307.5,319 310,322.5C312.5,326 315.4,331.2 317.5,335C319.6,338.8 320.4,341.7 322.5,345C324.6,348.3 327.8,350.8 330,355C332.2,359.2 335.2,364.6 336,370C336.8,375.4 334.8,382.1 335,387.5C335.2,392.9 335.8,397.9 337.5,402.5C339.2,407.1 341.7,412.5 345,415C348.3,417.5 353.3,418.3 357.5,417.5C361.7,416.7 366.2,412.9 370,410C373.8,407.1 376.2,404.6 380,400C383.8,395.4 388.3,387.9 392.5,382.5C396.7,377.1 401.7,371.6 405,367.5C408.3,363.4 409.1,361.2 412.3,358.2C415.6,355.2 420.6,352.3 424.5,349.7C428.4,347.1 433.4,344.2 435.5,342.3C437.6,340.4 436.6,339.9 436.8,338C437,336.1 437.3,333.8 436.8,331C436.3,328.2 435.2,324.2 434,321.5C432.8,318.8 431,316.9 429.4,315C427.8,313.1 425.3,312.4 424.5,310C423.7,307.6 422.4,302 424.5,300.6C426.6,299.2 432.7,302.2 436.8,301.9C440.9,301.6 446,299.7 449,298.8C452,297.9 451.5,297.4 455,296.5C458.5,295.6 466.2,294.6 470,293.5C473.8,292.4 476.4,291.7 477.5,290C478.6,288.3 476.8,285.8 476.7,283.3C476.6,280.8 477.5,277.2 476.7,275C475.9,272.8 473.9,271.4 471.7,270C469.5,268.6 466.1,267.8 463.3,266.7C460.5,265.6 457.8,264.7 455,263.3C452.2,261.9 448.9,260.2 446.7,258.3C444.5,256.4 443.1,254.2 441.7,251.7C440.3,249.2 438.9,246.1 438.3,243.3C437.7,240.5 437.7,238.1 438.3,235C438.9,231.9 440.3,228.3 441.7,225C443.1,221.7 445,218.1 446.7,215C448.4,211.9 450,209.8 451.7,206.7C453.4,203.6 454.8,199.9 456.7,196.7C458.6,193.5 460.8,189.7 463.3,187.5C465.8,185.3 468.9,185.1 471.7,183.3C474.5,181.5 477.2,178.9 480,176.7C482.8,174.5 485.5,172.4 488.3,170C491.1,167.6 493.1,164.4 496.7,162.5C500.3,160.6 505.6,159.6 510,158.3C514.4,157.1 518.8,156 523.3,155C527.8,154 533.4,153.1 536.7,152.5C540,151.9 541.4,153.2 543.3,151.7C545.2,150.2 547.2,146.6 548.3,143.3C549.4,140 549.3,135.6 550,131.7C550.7,127.8 551.2,123.3 552.5,120C553.8,116.7 555.1,113.7 557.5,111.7C559.9,109.8 563.5,108.6 566.7,108.3C569.9,108 573.8,108.6 576.7,110C579.6,111.4 582.1,113.7 584,116.7C585.9,119.8 586.8,124.4 588.3,128.3C589.8,132.2 591.3,137.1 593.3,140C595.2,142.9 595.5,145.1 600,146C604.5,146.9 613.6,144.7 620.4,145.5C627.2,146.3 634.1,147.8 640.9,150.6C647.7,153.3 654.5,158.3 661.3,162C668.1,165.7 674.9,169.4 681.7,173C688.5,176.6 695.2,180.4 702,183.3C708.8,186.2 715.8,187.9 722.6,190.5C729.4,193.1 736.2,195.3 743,198.6C749.8,201.8 757.3,206.1 763.4,210C769.5,213.9 775,218.1 779.8,222C784.6,225.9 788.6,230 792,233.4C795.4,236.8 795.7,239.8 800,242.6C804.3,245.4 812.2,247.8 818,250C823.8,252.2 829.7,254 835,256C840.3,258 845.4,259.7 850,262C854.6,264.3 860.4,264.5 862.5,270C864.6,275.5 862.5,286.7 862.5,295C862.5,303.3 862.1,312.1 862.5,320C862.9,327.9 862.5,336.2 865,342.5C867.5,348.8 873.3,354.2 877.5,357.5C881.7,360.8 885.4,362.5 890,362.5C894.6,362.5 900.2,360.4 905,357.5C909.8,354.6 917.3,351.2 918.8,345C920.2,338.8 913.8,325.8 913.8,320C913.8,314.2 915.6,310 918.8,310C921.9,310 927.7,316.9 932.5,320C937.3,323.1 941.2,328.6 947.5,328.8C953.8,328.9 961.6,322.8 970,321C978.4,319.2 993.3,318.5 998,318"/>
<path d="M406.6,775C406.6,757.5 406.6,689.4 406.6,670C406.6,650.6 407,662.5 406.6,658.7C406.2,654.9 406.2,650.5 404.4,647.2C402.6,643.9 398.8,641.6 395.9,638.7C393,635.8 390.2,633.1 387.3,630C384.4,626.9 381.6,623.1 378.7,620C375.8,616.9 372.9,614.6 370,611.5C367.1,608.4 364.4,604.8 361.5,601.5C358.6,598.2 355.8,594.9 352.9,591.5C350,588.1 347,585 344.4,581.4C341.8,577.8 339.3,575.2 337.2,570C335.1,564.8 333.6,555.8 332,550.3C330.4,544.8 329.8,541.4 327.6,536.9C325.4,532.4 322.1,527.1 318.7,523.4C315.3,519.6 311.1,517.4 307.4,514.4C303.6,511.4 299.9,508.4 296.2,505.4C292.5,502.4 286.5,500.6 285,496.4C283.5,492.2 286.8,486 287.2,480C287.6,474 287.8,465.9 287.2,460.4C286.6,454.9 286.1,450.4 283.8,447C281.6,443.6 277.2,440.6 273.7,440.2C270.1,439.8 265.3,442.1 262.5,444.7C259.7,447.3 258.4,451.9 256.9,456C255.4,460.1 255,466.1 253.5,469.4C252,472.7 250.2,474.6 248,476C245.8,477.4 242.7,477 240,478C237.3,479 234.5,480 232,482C229.5,484 227.3,487 225,490C222.7,493 220.5,496.3 218,500C215.5,503.7 213,508 210,512C207,516 203.3,520.2 200,524C196.7,527.8 193.3,532.2 190,535C186.7,537.8 183,540.5 180,541C177,541.5 174.8,539.5 172,538C169.2,536.5 165.8,533.3 163,532C160.2,530.7 157.8,529.8 155,530C152.2,530.2 148,531 146,533C144,535 144.3,539.5 143,542C141.7,544.5 141,547.2 138,548C135,548.8 129.3,546.8 125,547C120.7,547.2 115.8,547.7 112,549C108.2,550.3 105,552.7 102,555C99,557.3 96.2,559.7 94,563C91.8,566.3 90.7,570.8 89,575C87.3,579.2 85.8,583.8 84,588C82.2,592.2 79.5,595.5 78,600C76.5,604.5 75.7,609.2 75,615C74.3,620.8 75.2,630 74,635C72.8,640 72,642.5 68,645C64,647.5 57.2,649.7 50,650C42.8,650.3 34.7,647.3 25,647C15.3,646.7 -2.5,647.8 -8,648"/>
<path d="M979,442.5C976.7,440.8 970.2,435 965,432.5C959.8,430 953.3,429.6 947.5,427.5C941.7,425.4 935.4,423.3 930,420C924.6,416.7 918.8,411.2 915,407.5C911.2,403.8 911.7,400 907.5,397.5C903.3,395 895.4,394.6 890,392.5C884.6,390.4 879.2,388.8 875,385C870.8,381.2 868.8,375 865,370C861.2,365 856.7,360 852.5,355C848.3,350 842.5,345.8 840,340C837.5,334.2 838.3,327.5 837.5,320C836.7,312.5 835.8,303.3 835,295C834.2,286.7 835.8,275.5 832.5,270C829.2,264.5 820.4,264.2 815,262C809.6,259.8 803.8,259.6 800,257C796.2,254.4 795.4,250.5 792,246.7C788.6,242.9 784.6,238.5 779.8,234.4C775,230.3 769.5,226.1 763.4,222C757.3,217.9 749.8,213.4 743,210C736.2,206.6 729.4,204.3 722.6,201.7C715.8,199.1 708.8,197.3 702,194.6C695.2,191.9 688.5,188.7 681.7,185.4C674.9,182.1 668.1,178.6 661.3,175C654.5,171.4 647.7,167 640.9,164C634.1,161 627.2,158.6 620.4,156.8C613.6,155 605.1,155 600,153C594.9,151 592.8,148.3 590,145C587.2,141.7 585,137.2 583.3,133.3C581.6,129.4 581.7,124.6 580,121.7C578.3,118.8 575.8,116.9 573.3,115.8C570.8,114.7 567.4,114.3 565,115C562.6,115.7 560.4,117.5 559,120C557.6,122.5 557.2,126.4 556.7,130C556.2,133.6 556.4,137.8 555.8,141.7C555.2,145.6 554.3,149.4 553.3,153.3C552.3,157.2 552.8,162.8 550,165C547.2,167.2 541.2,166.1 536.7,166.7C532.2,167.2 527.2,167.5 523.3,168.3C519.4,169.1 516.6,170 513.3,171.7C510,173.4 506.6,175.8 503.3,178.3C500,180.8 496.4,183.9 493.3,186.7C490.2,189.5 487.5,192.2 485,195C482.5,197.8 480.2,201.1 478.3,203.3C476.4,205.5 474.7,205.5 473.3,208.3C471.9,211.1 471,217.2 470,220C469,222.8 468,222.8 467.5,225C467,227.2 467,230.8 467,233.3C467,235.8 466.7,238.1 467.5,240C468.3,241.9 469.9,242.8 471.7,245C473.5,247.2 476.1,251.1 478.3,253.3C480.5,255.5 482.5,256.6 485,258.3C487.5,260 490.8,261.8 493.3,263.3C495.8,264.8 498.3,266.1 500,267.5C501.7,268.9 503,269.6 503.3,271.7C503.6,273.8 502.9,277.6 502,280C501.1,282.4 500.3,283.8 498,286C495.7,288.2 492.1,290.2 488,293C483.9,295.8 478.3,300.1 473.5,303C468.7,305.9 463.1,307.7 459,310.4C454.9,313.1 451.1,315.9 449,319C446.9,322.1 446.9,326.4 446.6,328.8C446.3,331.2 447.4,331.7 447,333.7C446.6,335.7 445.1,338.6 444,341C442.9,343.4 442.2,345.2 440.4,348.4C438.6,351.6 436.4,356 433,360C429.6,364 424.2,367.5 420,372.5C415.8,377.5 411.7,384.2 407.5,390C403.3,395.8 399.2,402.5 395,407.5C390.8,412.5 387.9,416.7 382.5,420C377.1,423.3 368.8,425.8 362.5,427.5C356.2,429.2 350.4,430.4 345,430C339.6,429.6 334.6,425 330,425C325.4,425 319.8,430.4 317.5,430C315.2,429.6 315.2,425.8 316,422.5C316.8,419.2 321,415.8 322.5,410C324,404.2 325.4,394.6 325,387.5C324.6,380.4 322.1,374.6 320,367.5C317.9,360.4 315,349.1 312.5,345C310,340.9 308.8,344.2 305,343C301.2,341.8 295,340.1 290,337.5C285,334.9 280,330.8 275,327.5C270,324.2 265,320.2 260,317.5C255,314.8 249.2,311.4 245,311C240.8,310.6 238.3,313.5 235,315C231.7,316.5 228.8,317.9 225,320C221.2,322.1 216.7,325.4 212.5,327.5C208.3,329.6 205,330.4 200,332.5C195,334.6 187.5,337.9 182.5,340C177.5,342.1 173.8,345.8 170,345C166.2,344.2 163.8,339.6 160,335C156.2,330.4 152.1,321.7 147.5,317.5C142.9,313.3 137.5,310.4 132.5,310C127.5,309.6 122.1,312.1 117.5,315C112.9,317.9 108.8,322.9 105,327.5C101.2,332.1 98.3,339.6 95,342.5C91.7,345.4 89.6,343.8 85,345C80.4,346.2 73.3,347.9 67.5,350C61.7,352.1 55.8,354.2 50,357.5C44.2,360.8 38.3,366.2 32.5,370C26.7,373.8 21.8,377.5 15,380C8.2,382.5 -4.2,384.2 -8,385"/>
<path d="M-8,645C-1.7,645.2 18.7,646.2 30,646C41.3,645.8 52.8,645.3 60,644C67.2,642.7 70.5,642.8 73,638C75.5,633.2 75,621.3 75,615C75,608.7 74,604.2 73,600C72,595.8 68.7,593.3 69,590C69.3,586.7 71.5,582.5 75,580C78.5,577.5 85.8,577.5 90,575C94.2,572.5 98.7,569.5 100,565C101.3,560.5 98,553 98,548C98,543 98.3,539.3 100,535C101.7,530.7 104.7,525.8 108,522C111.3,518.2 115.5,514.7 120,512C124.5,509.3 130,508 135,506C140,504 144.2,501.5 150,500C155.8,498.5 163.3,497 170,497C176.7,497 184.2,498.7 190,500C195.8,501.3 200.8,505.5 205,505C209.2,504.5 212.2,500.3 215,497C217.8,493.7 219.2,488.8 222,485C224.8,481.2 229,477.5 232,474C235,470.5 237.2,468.5 240,464C242.8,459.5 246,452.1 249,447C252,441.9 254.2,436.9 258,433.5C261.8,430.1 267,426.9 271.5,426.7C276,426.5 281.2,429.4 285,432.4C288.8,435.4 291.9,440 294,444.7C296.1,449.4 296.2,455.1 297.3,460.4C298.4,465.6 299,471.7 300.7,476.2C302.4,480.7 304.4,484.4 307.4,487.4C310.4,490.4 314.9,493.4 318.7,494.2C322.5,495 326.6,493.5 330,492C333.4,490.5 336.7,488.2 338.9,485.2C341.1,482.2 342.1,477.6 343.4,474C344.7,470.4 344.4,466.1 346.7,463.8C348.9,461.5 352.2,461.3 356.9,460C361.6,458.7 369.8,455.9 374.8,456C379.9,456.1 383.6,457.6 387.2,460.4C390.8,463.2 393.8,468.3 396.2,472.8C398.6,477.3 400.2,482 401.8,487.4C403.4,492.8 404.8,499 405.8,505.4C406.8,511.8 407.5,518.9 408,525.6C408.5,532.3 409,539.8 409,545.8C409,551.8 409.2,557.6 408,561.6C406.8,565.6 404.3,568.6 401.8,570C399.3,571.4 395.8,571 392.8,570C389.8,569 386.8,566.7 383.8,563.8C380.8,560.9 377.8,556.4 374.8,552.6C371.8,548.9 368.8,544.5 365.8,541.3C362.8,538.1 359.7,534.6 356.9,533.5C354.1,532.4 351.1,532.9 349,534.6C346.9,536.3 345.1,540.2 344.5,543.6C343.9,547 344.7,551.4 345.6,554.8C346.5,558.2 348.1,560.1 350,563.8C351.9,567.5 354.8,573.4 357.2,577C359.6,580.6 361.8,583 364.4,585.7C367,588.4 370.1,591 373,593C375.9,595 378.8,596.6 381.6,598C384.4,599.4 387.1,599.7 390,601.5C392.9,603.3 395.8,606.5 398.7,608.6C401.6,610.7 404.4,612.5 407.3,614.3C410.2,616.1 413,617.6 415.9,619.3C418.8,621 422.1,622.8 424.5,624.4C426.9,626 428.1,626 430,628.6C431.9,631.2 434.8,636.4 436,640C437.2,643.6 437,645 437.5,650C438,655 438.6,662.5 439,670C439.4,677.5 440,686.7 440,695C440,703.3 435.7,715.5 439,720C442.3,724.5 453.2,721.2 460,722C466.8,722.8 474.2,723.7 480,725C485.8,726.3 490,727.2 495,730C500,732.8 505.5,737.3 510,742C514.5,746.7 519,748.3 522,758C525,767.7 527,793 528,800"/>
</g>
<text x="622.5" y="287.5" font-size="12.5" fill="#000" text-anchor="middle" transform="rotate(0 622.5 287.5)" dy="4.4">-20</text>
<text x="629" y="235" font-size="12.5" fill="#000" text-anchor="middle" transform="rotate(0 629 235)" dy="4.4">-20</text>
<text x="548.5" y="228.5" font-size="12.5" fill="#000" text-anchor="middle" transform="rotate(25 548.5 228.5)" dy="4.4">0</text>
<text x="601.5" y="633" font-size="12.5" fill="#000" text-anchor="middle" transform="rotate(90 601.5 633)" dy="4.4">-20</text>
<text x="841" y="723" font-size="12.5" fill="#000" text-anchor="middle" transform="rotate(-40 841 723)" dy="4.4">50</text>
<text x="961" y="471" font-size="12.5" fill="#000" text-anchor="middle" transform="rotate(60 961 471)" dy="4.4">50</text>
<text x="593" y="104" font-size="12.5" fill="#000" text-anchor="middle" transform="rotate(55 593 104)" dy="4.4">125</text>
<text x="655.5" y="127.7" font-size="12.5" fill="#000" text-anchor="middle" transform="rotate(15 655.5 127.7)" dy="4.4">150</text>
<text x="714.6" y="133" font-size="12.5" fill="#000" text-anchor="middle" transform="rotate(55 714.6 133)" dy="4.4">175</text>
<text x="780.5" y="147.5" font-size="12.5" fill="#000" text-anchor="middle" transform="rotate(-5 780.5 147.5)" dy="4.4">200</text>
<text x="665" y="83" font-size="12.5" fill="#000" text-anchor="middle" transform="rotate(35 665 83)" dy="4.4">225</text>
<text x="727.5" y="87" font-size="12.5" fill="#000" text-anchor="middle" transform="rotate(40 727.5 87)" dy="4.4">275</text>
<text x="838.5" y="100.5" font-size="12.5" fill="#000" text-anchor="middle" transform="rotate(-5 838.5 100.5)" dy="4.4">250</text>
<text x="957" y="325" font-size="12.5" fill="#000" text-anchor="middle" transform="rotate(-10 957 325)" dy="4.4">100</text>
<text x="522" y="93.5" font-size="12.5" fill="#000" text-anchor="middle" transform="rotate(8 522 93.5)" dy="4.4">125</text>
<text x="22" y="72" font-size="12.5" fill="#000" text-anchor="middle" transform="rotate(-38 22 72)" dy="4.4">125</text>
<text x="41" y="119" font-size="12.5" fill="#000" text-anchor="middle" transform="rotate(-20 41 119)" dy="4.4">150</text>
<text x="240" y="74" font-size="12.5" fill="#000" text-anchor="middle" transform="rotate(8 240 74)" dy="4.4">125</text>
<text x="35" y="240" font-size="12.5" fill="#000" text-anchor="middle" transform="rotate(55 35 240)" dy="4.4">100</text>
<text x="30" y="316" font-size="12.5" fill="#000" text-anchor="middle" transform="rotate(80 30 316)" dy="4.4">75</text>
<text x="17" y="423" font-size="12.5" fill="#000" text-anchor="middle" transform="rotate(65 17 423)" dy="4.4">75</text>
<text x="217" y="372" font-size="12.5" fill="#000" text-anchor="middle" transform="rotate(-55 217 372)" dy="4.4">50</text>
<text x="197.5" y="184" font-size="12.5" fill="#000" text-anchor="middle" transform="rotate(-72 197.5 184)" dy="4.4">100</text>
<text x="337" y="100" font-size="12.5" fill="#000" text-anchor="middle" transform="rotate(-55 337 100)" dy="4.4">150</text>
<text x="446" y="119" font-size="12.5" fill="#000" text-anchor="middle" transform="rotate(-45 446 119)" dy="4.4">100</text>
<text x="350" y="379" font-size="12.5" fill="#000" text-anchor="middle" transform="rotate(-88 350 379)" dy="4.4">125</text>
<text x="26" y="540" font-size="12.5" fill="#000" text-anchor="middle" transform="rotate(70 26 540)" dy="4.4">50</text>
<text x="141" y="565" font-size="12.5" fill="#000" text-anchor="middle" transform="rotate(-70 141 565)" dy="4.4">125</text>
<text x="225" y="516" font-size="12.5" fill="#000" text-anchor="middle" transform="rotate(-55 225 516)" dy="4.4">125</text>
<text x="200" y="577" font-size="12.5" fill="#000" text-anchor="middle" transform="rotate(-45 200 577)" dy="4.4">200</text>
<text x="199" y="616" font-size="12.5" fill="#000" text-anchor="middle" transform="rotate(40 199 616)" dy="4.4">150</text>
<text x="82" y="604" font-size="12.5" fill="#000" text-anchor="middle" transform="rotate(-65 82 604)" dy="4.4">75</text>
<text x="27" y="624" font-size="12.5" fill="#000" text-anchor="middle" transform="rotate(-60 27 624)" dy="4.4">-20</text>
<text x="13" y="690" font-size="12.5" fill="#000" text-anchor="middle" transform="rotate(-45 13 690)" dy="4.4">100</text>
<text x="189" y="712" font-size="12.5" fill="#000" text-anchor="middle" transform="rotate(55 189 712)" dy="4.4">150</text>
<text x="64" y="738.5" font-size="12.5" fill="#000" text-anchor="middle" transform="rotate(5 64 738.5)" dy="4.4">125</text>
<text x="260" y="632" font-size="12.5" fill="#000" text-anchor="middle" transform="rotate(60 260 632)" dy="4.4">175</text>
</g>
<g fill="none" stroke="#3C78B4" stroke-width="1" stroke-linejoin="round">
<path d="M163.8,45L172.5,52.5L172.5,62.5L175,75L180,87.5L187.5,98.8L197.5,110L201.2,120L200,132.5L202.5,140L197.5,147.5L195,155L187.5,155L180,165L175,170"/>
<path d="M187.5,133.8L190,142.5L195,150L200,155L212.5,157.5L220,167.5L225,177.5L227.5,190"/>
<path d="M31.2,182L37.5,181.2L45,172.5L50,175L57.5,162.5L58.8,152.5L65,145L72.5,152.5L80,160L85,162.5L92.5,157.5L100,150L102.5,146.2L111.2,145L112.5,152.5L117.5,161.2L125,165L135,160L145,163.8L155,170L162.5,176.2L170,181.2"/>
<path d="M0,260L7.5,255L17.5,252.5L25,257.5L32.5,260L42.5,256.2L57.5,255L65,240L72.5,230L82.5,230L95,230L107.5,233.8L120,237.5L130,241.2L145,242.5L160,242.5L167.5,250L172.5,260L177.5,270"/>
<path d="M268.8,45L270,60L273.8,72.5L272.5,82.5L282.5,95L291.2,105L293.8,117.5L291.2,130L282.5,137.5L277.5,147.5L267.5,152.5L260,160L252.5,165"/>
<path d="M412.5,103.8L405,107.5L395,117.5L388.8,120L381.2,122.5L377.5,130L370,142.5L360,147.5L352.5,155L345,160L332.5,172.5L327.5,185L328.8,197.5L325,210L320,225L317.5,240L315,255L320,262.5L321.2,270L322.5,270L331.2,280L335,292.5L341.2,305L342.5,315"/>
<path d="M412.5,103.8L420,108.8L430,112.5L437.5,120L445,125L457.5,126.2L462.5,120L470,125L480,131.2L490,130L505,128.8L517.5,133.8L530,140L545,141.2L557.5,142.5L565,150L568.8,156.2L570,147.5L580,145L590,147.5L602.5,152.5L620,155L637.5,153.8L652.5,156.2L670,161.2L680,165L683.8,172.5L687.5,185L695,197.5L696.2,205L692.5,215L685,220L681.2,230L681.2,245L675,260L665,270"/>
<path d="M490,177.5L477.5,181.2L465,185L461.2,195L462.5,205L457.5,213.8L445,211.2L432.5,210L425,217.5L420,221.2L417.5,230L410,237.5L402.5,247.5L397.5,257.5L397.5,270L405,277.5L411.2,290L411.2,305L410,320L415,330L425,333.8"/>
<path d="M530,82.5L545,70L560,66.2L577.5,72.5L586.2,82.5"/>
<path d="M490,173.8L510,175L527.5,172.5L547.5,170L565,168.8L572.5,167.5L571.2,157.5"/>
<path d="M572.5,177.5L582.5,175L593.8,180L595,187.5L605,195L607.5,202.5L602.5,212.5L595,220L588.8,235L585,250L587.5,260L595,262.5L607.5,260L625,262.5L635,267.5"/>
<path d="M516.2,203.8L523.8,210L520,217.5L527.5,230L530,237.5L525,245L528.8,255L520,262.5L513.8,270"/>
<path d="M632.5,215L630,225L631.2,237.5L632.5,252.5L633.8,270L636.2,270L640,282.5L647.5,295L652.5,305L662.5,310L670,312.5L673.8,305L680,297.5L690,295L700,297.5L707.5,292.5L705,282.5L702.5,275L710,272.5L722.5,270L715,255L725,247.5L734.8,245"/>
<path d="M780,45L785,52.5L792.5,56.2L791.2,62.5L797.5,70L803.8,71.2L807.5,77.5L812.5,82.5L810,92.5L817.5,98.8L827.5,103.8L833.8,111.2L840,113.8L847.5,120L852.5,130"/>
<path d="M740,270L755,262.5L765,252.5L775,245L781.2,235"/>
<path d="M792.5,237.5L793.8,252.5L797.5,270L800,270L805,282.5L817.5,288.8L830,285L828.8,277.5"/>
<path d="M178.8,270L190,275L207.5,278.8L222.5,276.2L231.2,271.2"/>
<path d="M0,408.8L7.5,400L17.5,396.2L25,390L35,386.2L45,386.2L50,395L53.8,401.2L47.5,406.2L46.2,417.5L48.8,427.5L47.5,432.5L57.5,437.5L61.2,450L65,462.5L66.2,475L71.2,485L72.5,495"/>
<path d="M71.2,400L68.8,407.5L72.5,417.5L80,427.5L87.5,440L92.5,447.5L95,455L105,461.2L120,465L135,467.5L150,463.8L165,465L175,462.5L190,455L205,445L215,437.5L220,425L227.5,410L235,397.5L244.8,392.5L260,392.5L272.5,390L275,380L277.5,370L285,362.5L295,357.5L300,347.5"/>
<path d="M152.5,476.2L160,482.5L175,485L192.5,482.5L207.5,482.5L217.5,475L227.5,467.5L233.8,463.8L236.2,470L237.5,495"/>
<path d="M245,280L255,275L267.5,272.5L282.5,280L295,285L307.5,292.5L320,305L330,310L340,315L345,325L350,335L355,340"/>
<path d="M425,297.5L435,291.2L445,293.8"/>
<path d="M260,302.5L265,312.5L263.8,322.5L272.5,328.8L282.5,330L285,337.5L292.5,342.5L300,347.5"/>
<path d="M245,352.5L257.5,350L272.5,347.5L287.5,350L300,350L310,343.8L320,342.5"/>
<path d="M272.5,390L267.5,400L260,410L252.5,415L251.2,430L250,445L247.5,455L250,462.5"/>
<path d="M437.5,340L445,335L455,333.8L460,342.5L457.5,357.5L452.5,370L451.2,380L457.5,397.5L450,405L442.5,412.5L440,425L442.5,440L446.2,447.5L442.5,455L441.2,470L442.5,485L440,495L442.5,495L445,507.5L437.5,520L431.2,527.5L435,540L437.5,552.5L433.8,565L435,575L432.5,585L436.2,595L430,605L420,612.5L411.2,620L417.5,630L425,637.5"/>
<path d="M435,338L442,332L454,330.5L463,340L460.5,357.5L455.5,370L454.5,380L460.5,397.5L453,407L445.5,414L443,425L445.5,440L449,447.5L445.5,455L444.5,470L445.5,485"/>
<path d="M537.5,280L547.5,283.8L548.8,297.5L542.5,303.8L527.5,308.8L520,317.5L521.2,335L522.5,352.5L523.8,370L530,380L542.5,385L552.5,380"/>
<path d="M557.5,280L562.5,292.5L570,305L576.2,320L580,342.5L578.8,350L565,357.5L560,365L555,375L552.5,380L553.8,390L557.5,400L565,410L567.5,420L575,435L576.2,442.5L572.5,445L576.2,455L582.5,460L572.5,467.5L567.5,477.5L560,485L558.8,495L561.2,495L565,502.5L575,507.5L577.5,517.5L572.5,527.5L575,540L577.5,552.5L576.2,565L581.2,575L575,582.5L570,590L565,600L562.5,610L560,620L567.5,627.5L570,637.5L566.2,647.5L572.5,655L573.8,665L567.5,670L568.8,680L562.5,687.5L557.5,695L540,696.2L525,693.8L507.5,687.5L497.5,677.5L490,673.8L480,670L470,667.5L457.5,665L445,657.5L437.5,655"/>
<path d="M670,312.5L667.5,327.5L665,337.5L657.5,345L652.5,352.5L637.5,356.2"/>
<path d="M610,386.2L600,395L595,400L600,407.5L606.2,415L602.5,422.5L592.5,421.2L585,430L577.5,437.5"/>
<path d="M979,427.5L970,422.5L960,416.2L952.5,410L943.8,406.2L941.2,398.8L932.5,398.8L922.5,406.2L915,413.8L910,413.8L911.2,405L912.5,392.5L912.5,377.5L915,365L918.8,355L918.8,343.8L910,340L897.5,338.8L885,332.5L865,330L845,327.5L835,315L822.5,305L810,295L805,282.5"/>
<path d="M734.8,425L715,432.5L702.5,442.5L690,455L680,465L670,472.5L662.5,475L645,472.5L630,475L620,473.8L610,480L600,477.5L591.2,476.2"/>
<path d="M662.5,475L670,482.5L677.5,495L680,495L687.5,505L697.5,512.5L702.5,522.5L715,532.5L725,542.5L734.8,550L750,551.2L767.5,551.2L780,555L787.5,561.2L793.8,568.8L807.5,570L817.5,575L832.5,573.8L837.5,580L845,590L852.5,587.5L862.5,591.2L865,595L871.2,596.2L872.5,590L877.5,585L876.2,570L867.5,563.8"/>
<path d="M680,465L702.5,463.8L725,460L734.8,455L747.5,447.5L760,450L772.5,453.8L785,448.8L797.5,447.5L810,450L825,451.2L827.5,462.5L832.5,467.5L842.5,470L855,466.2L865,470L870,477.5L868.8,485L872.5,495"/>
<path d="M979,448.8L972.5,455L971.2,467.5L967.5,477.5L955,485L940,490L927.5,493.8"/>
<path d="M0,515L15,516.2L32.5,520L50,520L57.5,526.2L72.5,522.5L85,523.8L90,532.5L100,542.5L110,555L117.5,557.5"/>
<path d="M120,510L130,518.8L140,527.5L147.5,536.2"/>
<path d="M167.5,495L175,502.5L180,512.5L177.5,525L180,540"/>
<path d="M147.5,557.5L155,565L170,567.5L190,567.5L205,565"/>
<path d="M0,590L10,592.5L20,600L32.5,607.5L42.5,615L55,622.5L65,630L75,635L85,640L95,647.5L107.5,650L117.5,652.5L125,650L132.5,655L140,665L147.5,675L152.5,687.5L155,695L150,702.5L160,710L175,715L185,720"/>
<path d="M37.5,667.5L50,670L57.5,682.5L55,692.5L65,695L75,690L82.5,692.5L92.5,687.5L100,695L110,700L120,705L130,697.5L140,702.5L150,702.5"/>
<path d="M370,495L380,501.2L387.5,505L397.5,503.8L403.8,510L405,522.5L401.2,535L405,545L407.5,557.5L417.5,562.5L425,567.5L435,570"/>
<path d="M387.5,505L383.8,515L380,525L381.2,535L375,545L370,551.2L362.5,553.8L355,560L350,566.2L340,565L327.5,567.5L312.5,565L300,566.2L290,567.5"/>
<path d="M291.2,586.2L297.5,590L301.2,605L305,620L310,630L320,637.5L332.5,645L345,652.5L350,656.2"/>
<path d="M365,661.2L380,670L395,680L405,690L420,695L437.5,695"/>
<path d="M575,582.5L590,585L600,590L610,593.8L620,597.5L640,600L650,608.8L657.5,610L665,600L675,598.8L690,597.5L702.5,595L710,600L722.5,601.2L734.8,605L742.5,607.5L750,605L760,606.2L770,605L780,607.5L787.5,615L797.5,620L810,618.8L823.8,617.5L826.2,622.5L835,627.5L847.5,628.8L860,627.5L871.2,626.2L880,630L890,635L900,640L910,635L915,630L922.5,623.8L932.5,622.5L935,617.5L942.5,612.5L952.5,606.2L955,595L965,587.5L968.8,572.5L971.2,560L967.5,555L979,548.8"/>
<path d="M734.8,663.8L715,666.2L700,675L687.5,678.8L680,687.5L675,697.5L670,705L657.5,710L652.5,715"/>
<path d="M567.5,687.5L570,697.5L577.5,705L582.5,712.5L581.2,720L590,740L592.5,770L597.5,785L590,800L605,815L620,830L635,840"/>
<path d="M852.5,515L862.5,516.2L875,512.5L890,508.8L895,502.5L910,500L925,496.2"/>
<path d="M860,502.5L870,503.8L873.8,495"/>
<path d="M145,775.4L128,780.4L123,792.2L114.6,797.3L101,790.5L89.3,795.6L87.6,804L97.7,814.1L96,820.9L107.9,834.4L114.6,851.2L116.3,868L118,881.6L116.3,891.7"/>
<path d="M273,765.3L266.3,780.4L256.2,794L246,804L242.7,817.5L236,824.3L237.6,831L232.6,837.7L232.6,851.2L236,861.3L242.7,871.4L247.7,881.6L242.7,891.7L244.4,902"/>
<path d="M330,874.8L323.6,885L316.8,902"/>
<path d="M384,772L373.8,777L363.7,787.2L350.2,790.5L343.5,800.7L338.4,817.5L341.8,831L338.4,844.5L343.5,858L340,871.4L333.4,878.2L330,876.5"/>
<path d="M486.7,800.7L483.4,795.6L491.8,790.5L501.9,787.2L515.4,790.5L525.5,800.7L528.9,810.8L527.2,819.2L535.6,826L545.7,831L555.8,834.4L566,831L576,827.7L582.8,829.3L586.2,836L590,845"/>
<path d="M589.5,740L592.9,750L591.2,760.2L596.3,770.3L598,780.4L592.9,790.5L596.3,800.7L606.4,809L609.7,812.5L601.3,819.2L596.3,827.7L591.2,836"/>
<path d="M623.2,740L616.5,750L609.7,760.2L606.4,770.3L609.7,780.4L619.8,787.2L628.3,797.3L630,807.4L626.6,817.5L633.4,826L643.5,834.4L650.2,836L655,845"/>
<path d="M606.4,809L618,807.5L630,807.4"/>
<path d="M508.6,743.4L532.2,748.4L545.7,741.7L552.4,751.8L566,756.9L579.4,753.5L591.2,745"/>
<path d="M710.5,808.9L697,815.6L683.6,824L673.5,827.4L663.4,830.7L658.4,835.8L676.9,837.4L683.6,850.9L680.2,861L690.3,874.4L687,887.8L690.3,902"/>
<path d="M717.2,815.6L718.9,822.3L730.6,819L740.7,827.4L750.8,834L764.2,835L777.7,835.8"/>
<path d="M735,665L745,661.2L755,660L765,662.5L772.5,670L785,677.5L795,685L800,695L803.8,707.5L807.5,720L812,735L814.6,740L817.3,743.4L814.6,751.8L808,745L799.5,745L794.5,750L794.5,761.8"/>
<path d="M639.5,0L634.9,7L625.5,11.7L623,21L625.5,30.5L620.8,37.5L620.8,46.9L609,54L597.4,58.6L595,63.3L597.5,77.5L590,82.5"/>
<path d="M857.5,0L848,9.4L829.4,9.4L820,14L801.3,9.4L787.2,7L780.2,14L782.5,28L789.6,35L780.2,44.5"/>
<path d="M979,49L965.4,51.6L942,46.9L923,42L909,39.8L895,49L881,54L869.3,58.6L862.5,72.5L865,80L860,87.5L852.5,92.5L851.2,100L857.5,105L862.5,105"/>
<path d="M28.6,0L53,12.2L81.7,26.5L106,40.8L118.4,48L126.5,46L130.6,43.9L130.6,48"/>
<path d="M128,24L140.8,24.5L151,27.5L163.3,40.8L163.8,45"/>
<path d="M424.3,0L428.6,17L432.9,40L441.4,49.3"/>
<path d="M876.5,732.5L881.6,733.5L893.8,728.4L906,721.3L922.3,714.2L932.5,710L935.5,703L942.6,699L952.8,694.9L960,693.2"/>
<path d="M935.5,703L936.5,725.4L939.6,733.5L937.5,745.7L932.5,757.9L928.9,762L927.2,770.2L918.8,778.6L915.4,785.4L922.2,793.8L932.3,802.2L939,812.2L942.3,822.3L949,830.7L950.7,837.4L953,850L951,862"/>
<path d="M849.5,279.3L860,277L871.7,273L887.5,266.7L903.3,268.2L919.2,279.3L931.8,290.4"/>
</g>
<g fill="none" stroke="#0000F0" stroke-width="1" stroke-linejoin="round">
<path d="M200,342.5L197.5,335L202.5,320L207.5,311.2L213.8,311.2L215,320L210,332.5L205,342.5L207.5,347.5"/>
<path d="M610,385L620,375L623.8,362.5L632.5,353.8L637.5,356.2L633.8,366.2L628.8,372.5L620,381.2L617.5,387.5L612.5,386.2L610,385"/>
<path d="M725.6,122.2L734.8,133.2L733.9,142.4L730.2,135L725.6,122.2"/>
<path d="M758.7,173.7L772.5,171L769.7,175.5L761.4,177.4L758.7,173.7"/>
<path d="M254.6,498.6L253.5,506.5L267,507.6L280.4,506.5L291.7,500.9L305.2,494.2L316.4,489.7L325.4,486.3L326.5,480.7L341,476.2L351.2,471.7L355.7,465L353.5,459.3L341,453.7L338.9,461.6L330,467.2L322,472.8L324.3,477.3L318.7,476.2L303,483L294,489.7L280.4,496.4L273.7,494.2L267,499.8L254.6,498.6"/>
<path d="M396.2,430L407.5,425L410,427.5L398.8,435L396.2,430"/>
<path d="M565,567.5L570,568.8L568.8,573.8L565,573.8L565,567.5"/>
<path d="M525,610L530,609.5L530,612L525,612L525,610"/>
<path d="M536.2,607.5L538,612.5"/>
<path d="M621.5,22L626.5,21.5L624,26L626,30L621,29.5L621.5,22"/>
<path d="M385.6,861.3L390.7,863L390.7,866.4L386.6,864.7L385.6,861.3"/>
</g>
<g fill="none" stroke="#0000F0" stroke-width="2.2" stroke-linejoin="round" stroke-linecap="round">
<path d="M0,175.6L2.6,171L6.4,166L12.8,167.3L20.4,168.5L22.3,158.3L24.3,145.5L25.5,132.8L27.5,129.6L33.2,130.9L42.8,132.8L44,141.7L51,140.4L56.2,135.3L63.9,137.2L72.8,141L83,148.7L92,153.8L102.2,158.3L111,155.8L115,158.3L120,162.5L132.5,172.5L140,177.5L152.5,178.8L170,181.2L177.5,170L190,170L198.8,173.8L202.5,181.2L212.5,185L222.5,185L227.5,192.5L230,202.5L225,215L220,230L220,242.5L225,247.5L228.8,260L231.2,270L235,275L240,280L241.2,295L245,298.8L255,298.8L270,303.8L280,315L295,328.8L307.5,337.5L320,341.2L337.5,341.2L352.5,341.2L367.5,342.5L380,338.8L395,337.5L405,338.8L413.5,340.5L427,330L420.2,325L419.6,306.8L428.2,300.6L436.8,296.3L449,293.3L461.3,292.7L472.3,293.9L478.4,290.8L491.5,290.5L498,285.9L501.3,272.8L514.4,268.5L521,272.5L528,273L531,279L538,280L544.5,284.3L552,278.5L565.5,272L568,265.5L578.2,261L584,262.8L590,257L594.8,248.2L598.5,239.2L604.6,229L603.6,221.9L610.7,217.8L620.4,216L636.8,212.5L643.4,215.8L651,218L669.5,223.2L681.7,219L687.8,221L694,214L706.2,213L714.4,220L722.6,223.2L728.7,234.4L739,244.6L747,245.6L763.4,240.5L773.6,238.5L781.2,235L788.8,232.5L793.8,235L795,242.5L797.5,250L802.5,258.8L815,260L822.5,265L827.5,270L831.2,280L845,278.8L852.5,282.5L858.8,291.2L857.5,300L865,301.2L867.5,295L877.5,296.2L885,282.5L890,278.8L900,281.2L910,290L920,296.2L927.5,296.2L932.5,292.5L945,293.8L957.5,293.8L967.5,301.2L981,297"/>
<path d="M230,201L233.8,195L240,182.5L244.8,175L248.3,168.3L256.7,162.5L277.5,169.2L285,167.5L293.3,170.8L313.3,163.3L323.3,155L330,151.7L335,140L346.7,138.3L353.3,131.7L355,116.7L358.3,101.7L366.7,96.7L383.3,88.3L386.7,80L400,70L405,68.8L420,65L431,62L442.5,63.8L443.8,81.2L457.5,82.5L466.2,80L470,65L477.5,61.2L486.7,56.7L495,48.3L501.7,53.3L505,68.3L509.2,75L514.2,75L515.8,80.8L528.3,80.8L530,90L531.7,100L526.7,110L528.3,114.2L536.7,113.3L541.7,109.2L548.3,109.2L557.5,116.7L561.7,110L564.2,98.3L568.3,93.3L580.8,89.2L585,81.7L595,82.5L598.3,80L608.3,84.2L615,80.8L622.5,79.2L627.5,85L635,91.7L640,92.5L648.4,96.5L657.6,87.3L662.2,79L672.3,78L683.3,70.7L694.3,74.4L705.4,75.3L718.2,72.6L729.3,79L734.8,84.5L742,80L751.3,87.3L758.7,93.7L762.4,102L767.9,107.5L782.6,112L786.2,115.8L795.4,117.6L802.8,122.2L810,125L817.5,126.2L821.2,125L827.5,130L840,128.8L847.5,131.2L852.5,135L852.5,123.8L845,117.5L833.8,111.2L837.5,100L836.2,82.5L833.8,67.5L826.2,55L828.8,45L835,40L845,20L860,-2"/>
<path d="M817.5,126.2L816.2,140L807.5,150L802.5,165L801.2,177.5L797.5,187.5L790,195L781.2,205L780,220L781.2,235"/>
<path d="M862.5,302.5L857.5,312.5L850,317.5L848.8,323.8L842.5,330L835,335L822.5,335L815,332.5L812.5,340L800,342.5L792.5,350L786.2,366.2L772.5,375L770,387.5L770,398.8L760,405L753.8,420L752.5,432.5L745,445L735,455L730,465L722.5,485L718.8,495L720,505L712.5,517.5L702.5,522.5L697.5,535L692.5,545L696.2,553.8L687.5,560L682.5,575L672.5,583.8L665,581.2L650,580L640,585L637.5,593.8L633.8,600L625,602.5L617.5,598.8L610,595L600,598.8L585,603.8"/>
<path d="M142.5,555L142.5,535L155,531.2L172.5,532.5L180,541.2L197.5,555L210,565L220,585L235,600L245,601.2L255,617.5L265,626.2L280,628.8L292.5,635L296.2,646.2L310,651.2L317.5,657.5L332.5,656.2L342.5,658.8L352.5,657.5L367.5,661.2L377.5,663.8L385,657.5L395,655L405,642.5L410,637.5L420,642.5L427.5,637.5L442.5,633.8L452.5,622.5L460,621.2L470,626.2L477.5,620L490,615L500,605L502.5,600L517.5,596.2L530,602.5L547.5,597.5L562.5,600L567.5,598.8L577.5,601.2L585,605L590,613.8L595,625L602.5,632.5L610,636.2L617.5,638.8L625,647.5L630,657.5L636.2,665L643.8,660L643.8,670L642.5,687.5L646.2,697.5L643,704.5L650.2,710.6L664.5,726L680.9,735.2L686,734.2L697.2,745.4L713.5,747.4L721.7,751.5L726.8,758.7L725.6,755L727.3,761.8L720.6,766.9L718.9,777L710.5,780.3L713.8,787L723.9,788.7L730.6,793.8L730.6,800.5L722.2,803.8L712.2,805.5L710.5,808.9L717.2,813.9L734,815.6L739,820.6L744,829L754.2,832.4L767.6,828L777.7,832.4L786,835"/>
<path d="M152.5,495L162.5,512.5L160,520L172.5,532.5"/>
<path d="M244.8,302.5L240,312.5L232.5,322.5L237.5,332.5L237.5,348.8L220,350L215,346.2L208.8,351.2L200,342.5L185,337.5L175,347.5L168.8,352.5L175,356.2L190,358.8L196.2,370L192.5,380L190,387.5L172.5,393.8L168.8,400L172.5,412.5L165,425L175,435L170,442.5L173.8,450L167.5,456.2L150,457.5L140,467.5L130,477.5L115,485L115,495L118.8,507.5"/>
<path d="M130,477.5L150,478.8L153.8,485L152.5,495"/>
<path d="M0,513.8L25,510L52.5,510L62.5,515L77.5,501.2L100,500L117.5,506.2"/>
<path d="M142.5,555L130,553.8L122.5,556.2L120,567.5L100,575L87.5,580L72.5,581.2L67.5,592.5L75,605L73.8,635L65,642.5L47.5,645L27.5,655L32.5,667.5L40,670L27.5,675L30,690L37.5,695L25,701.2L12.5,702.5L0,692.5"/>
<path d="M818,837.4L821.4,829L833,820.6L839.9,820.6L844.9,825.7L855,834L865,835L871.8,844L868.4,854L858,862L851.6,867.7L858,878L865,887.8L866.7,902"/>
<path d="M124.7,902L123,881.6L119.6,868L114.6,852.9L104.5,847.9L97.7,829.3L89.3,820.9L79.2,819.2L72.5,807.4L74,790.5L77.5,773.7L81,753.5L82.6,740L87.6,741.7L107.9,741.7L111.2,750L118,760L131.4,772L145,775.4L148.3,760L158.4,748.4L165,743.4L178.6,745L195.5,750L202,741.7L210,735L222.4,743.4L236,753.5L249.4,751.8L259.5,756.9L269.6,755.2L279.7,763.6L293.2,756.9L303.3,763.6L316.8,772L330,760L343.5,765.3L353.6,758.5L367,763.6L384,772L397.4,770.3L410.9,773.7L417.6,782L421,794L431,804L444.6,805.7L458,800.7L468.2,795.6L478.3,797.3L486.7,800.7L485,817.5L478.3,831L471.6,844.5L464.8,858L459.8,864.7L461.5,878.2L458,888.3L463,896.7L471.6,902"/>
<path d="M431.2,637.5L428.8,647.5L435,660L438.8,675L436.2,690L445,693.8L456.2,700L452.5,707.5L445,715.8L449,724.8L458,732L464.8,740L478.3,743.4L488.4,746.7L490,755.2L478.3,756.9L464.8,753.5L459.8,751.8L458,760L451.3,763.6L454.7,773.7L456.4,787L458,790.5L451.3,797.3L444.6,799L446.3,804"/>
<path d="M0,849.5L10,858L20.2,869.8L30.3,879.9L43.8,886.6L45.5,890L33.7,890L23.6,885L13.5,876.5L3.4,868L0,866.4"/>
<path d="M0,873L10,878L16.9,885L20.2,891.7"/>
<path d="M0,885L6.7,888.3L10,895L5,902"/>
<path d="M431,62L430,50L428.6,45.7L425.7,37.9L414.3,32.9L405.7,18.6L403.6,-2"/>
</g>
<g>
<rect x="2" y="1" width="518.8" height="42" fill="#EEEEEE" fill-opacity="0.8"/>
<text x="4.5" y="16.6" font-size="14.5" fill="#000" textLength="486" lengthAdjust="spacingAndGlyphs">ECMWF-INDEX-ANAL Sreh Right ((m/s)^2) 0-3km Friday 14-11-2025 11:10</text>
<text x="4.5" y="37.2" font-size="14.5" fill="#2E2E2E" textLength="507.5" lengthAdjust="spacingAndGlyphs">ECMWF-INDEX-ANAL SupercellCompositeParameter Friday 14-11-2025 11:10</text>
</g>
<g>
<rect x="508" y="837" width="468" height="60" fill="#C8C8C8" fill-opacity="0.8"/>
<rect x="645.5" y="844.5" width="16" height="22" fill="#00FFFF" stroke="#000" stroke-width="1"/>
<rect x="661.5" y="844.5" width="16" height="22" fill="#FFFFFF" stroke="#000" stroke-width="1"/>
<rect x="677.5" y="844.5" width="16" height="22" fill="#FFFFC8" stroke="#000" stroke-width="1"/>
<rect x="693.5" y="844.5" width="16" height="22" fill="#FFFF96" stroke="#000" stroke-width="1"/>
<rect x="709.5" y="844.5" width="16" height="22" fill="#FFFF50" stroke="#000" stroke-width="1"/>
<rect x="725.5" y="844.5" width="16" height="22" fill="#FFFF00" stroke="#000" stroke-width="1"/>
<rect x="741.5" y="844.5" width="16" height="22" fill="#FFE100" stroke="#000" stroke-width="1"/>
<rect x="757.5" y="844.5" width="16" height="22" fill="#FFC800" stroke="#000" stroke-width="1"/>
<rect x="773.5" y="844.5" width="16" height="22" fill="#FFAA00" stroke="#000" stroke-width="1"/>
<rect x="789.5" y="844.5" width="16" height="22" fill="#FF8400" stroke="#000" stroke-width="1"/>
<rect x="805.5" y="844.5" width="16" height="22" fill="#FF5F00" stroke="#000" stroke-width="1"/>
<rect x="821.5" y="844.5" width="16" height="22" fill="#FF3200" stroke="#000" stroke-width="1"/>
<rect x="837.5" y="844.5" width="16" height="22" fill="#FF0000" stroke="#000" stroke-width="1"/>
<rect x="853.5" y="844.5" width="16" height="22" fill="#E6003C" stroke="#000" stroke-width="1"/>
<rect x="869.5" y="844.5" width="16" height="22" fill="#D2007D" stroke="#000" stroke-width="1"/>
<rect x="885.5" y="844.5" width="16" height="22" fill="#BE00BE" stroke="#000" stroke-width="1"/>
<rect x="901.5" y="844.5" width="16" height="22" fill="#AA00FF" stroke="#000" stroke-width="1"/>
<rect x="917.5" y="844.5" width="16" height="22" fill="#7800D2" stroke="#000" stroke-width="1"/>
<rect x="933.5" y="844.5" width="16" height="22" fill="#3C00A0" stroke="#000" stroke-width="1"/>
<rect x="949.5" y="844.5" width="16" height="22" fill="#000078" stroke="#000" stroke-width="1"/>
<path d="M661.5,867 V873.5" stroke="#000" stroke-width="1" fill="none"/>
<text x="661.0" y="884.7" font-size="11" fill="#000" text-anchor="middle">-20</text>
<path d="M693.5,867 V873.5" stroke="#000" stroke-width="1" fill="none"/>
<text x="693.0" y="884.7" font-size="11" fill="#000" text-anchor="middle">50</text>
<path d="M725.5,867 V873.5" stroke="#000" stroke-width="1" fill="none"/>
<text x="725.0" y="884.7" font-size="11" fill="#000" text-anchor="middle">100</text>
<path d="M757.5,867 V873.5" stroke="#000" stroke-width="1" fill="none"/>
<text x="757.0" y="884.7" font-size="11" fill="#000" text-anchor="middle">150</text>
<path d="M789.5,867 V873.5" stroke="#000" stroke-width="1" fill="none"/>
<text x="789.0" y="884.7" font-size="11" fill="#000" text-anchor="middle">200</text>
<path d="M821.5,867 V873.5" stroke="#000" stroke-width="1" fill="none"/>
<text x="821.0" y="884.7" font-size="11" fill="#000" text-anchor="middle">250</text>
<path d="M853.5,867 V873.5" stroke="#000" stroke-width="1" fill="none"/>
<text x="853.0" y="884.7" font-size="11" fill="#000" text-anchor="middle">300</text>
<path d="M885.5,867 V873.5" stroke="#000" stroke-width="1" fill="none"/>
<text x="885.0" y="884.7" font-size="11" fill="#000" text-anchor="middle">400</text>
<path d="M917.5,867 V873.5" stroke="#000" stroke-width="1" fill="none"/>
<text x="917.0" y="884.7" font-size="11" fill="#000" text-anchor="middle">500</text>
<path d="M949.5,867 V873.5" stroke="#000" stroke-width="1" fill="none"/>
<text x="949.0" y="884.7" font-size="11" fill="#000" text-anchor="middle">700</text>
<text x="575.5" y="857" font-size="12" fill="#000" text-anchor="middle">ECMWF-INDEX-ANAL</text>
<text x="575.5" y="873" font-size="12" fill="#000" text-anchor="middle">Sreh</text>
<text x="575.5" y="888.8" font-size="12" fill="#000" text-anchor="middle">(m/s)^2</text>
</g>
</svg></body></html>
